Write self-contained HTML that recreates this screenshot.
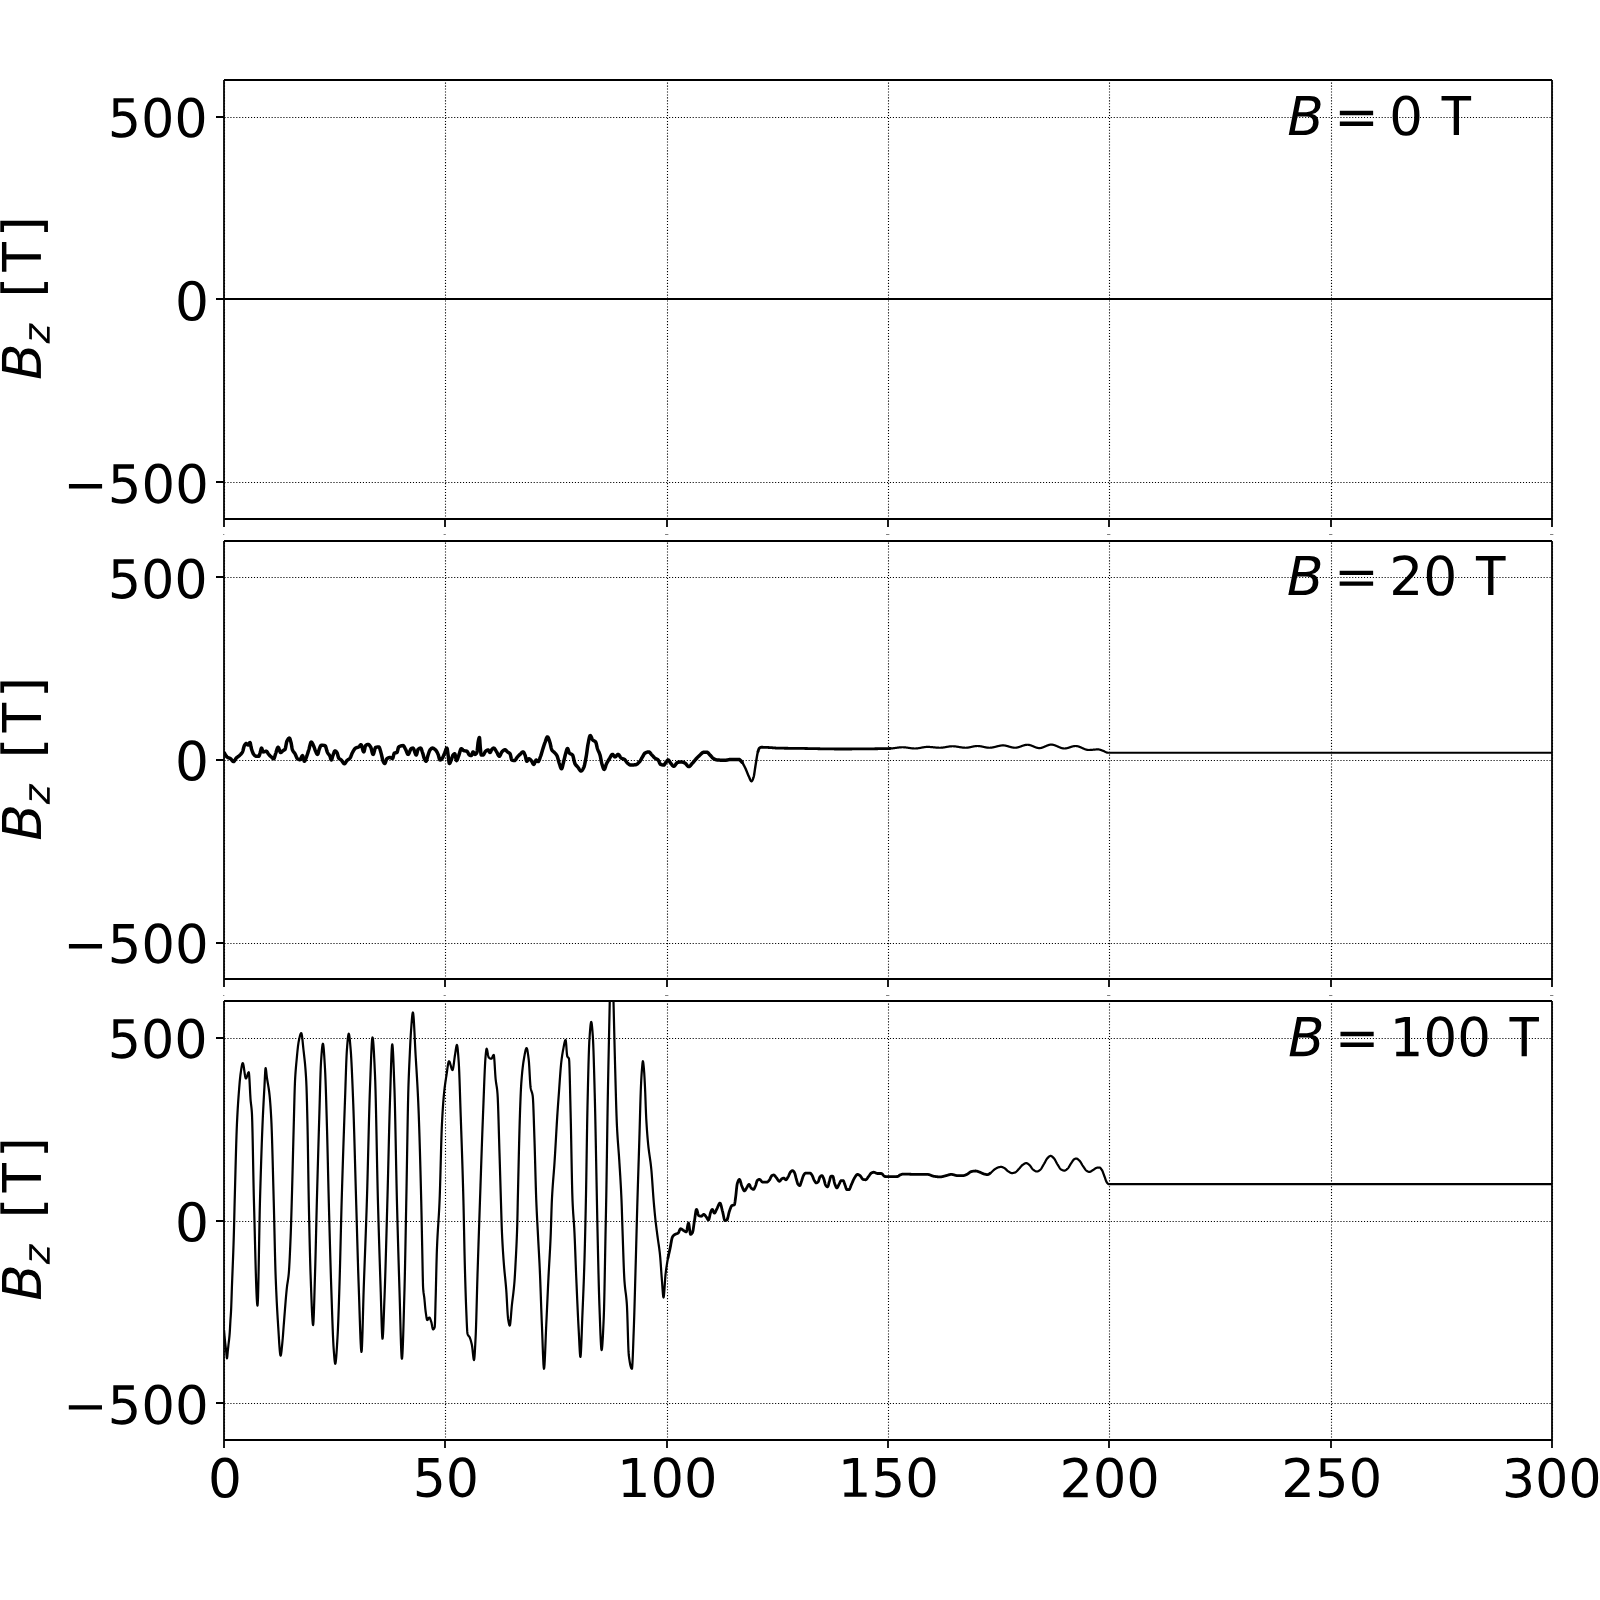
<!DOCTYPE html>
<html><head><meta charset="utf-8"><title>Bz</title>
<style>html,body{margin:0;padding:0;background:#fff;font-family:"Liberation Sans",sans-serif}body{width:1600px;height:1600px;position:relative;overflow:hidden}</style>
</head><body>
<svg width="1600" height="1600" viewBox="0 0 720 720" style="display:block;position:absolute;left:0;top:0"><defs><style type="text/css">*{stroke-linejoin: round; stroke-linecap: butt}</style></defs><g id="figure_1"><g id="patch_1"><path d="M 0 720 L 720 720 L 720 0 L 0 0 z " style="fill: #ffffff"/></g><g id="axes_1"><g id="matplotlib.axis_1"><g id="xtick_1"><g id="line2d_1"><defs><path id="m41364bf135" d="M 0 0 L 0 3.5 " style="stroke: #000000; stroke-opacity: 0; stroke-width: 0.8"/></defs><g><use href="#m41364bf135" x="100.8" y="233.419" style="fill-opacity: 0; stroke: #000000; stroke-opacity: 0; stroke-width: 0.8"/></g></g></g><g id="xtick_2"><g id="line2d_2"><g><use href="#m41364bf135" x="200.4" y="233.419" style="fill-opacity: 0; stroke: #000000; stroke-opacity: 0; stroke-width: 0.8"/></g></g></g><g id="xtick_3"><g id="line2d_3"><g><use href="#m41364bf135" x="300" y="233.419" style="fill-opacity: 0; stroke: #000000; stroke-opacity: 0; stroke-width: 0.8"/></g></g></g><g id="xtick_4"><g id="line2d_4"><g><use href="#m41364bf135" x="399.6" y="233.419" style="fill-opacity: 0; stroke: #000000; stroke-opacity: 0; stroke-width: 0.8"/></g></g></g><g id="xtick_5"><g id="line2d_5"><g><use href="#m41364bf135" x="499.2" y="233.419" style="fill-opacity: 0; stroke: #000000; stroke-opacity: 0; stroke-width: 0.8"/></g></g></g><g id="xtick_6"><g id="line2d_6"><g><use href="#m41364bf135" x="598.8" y="233.419" style="fill-opacity: 0; stroke: #000000; stroke-opacity: 0; stroke-width: 0.8"/></g></g></g><g id="xtick_7"><g id="line2d_7"><g><use href="#m41364bf135" x="698.4" y="233.419" style="fill-opacity: 0; stroke: #000000; stroke-opacity: 0; stroke-width: 0.8"/></g></g></g></g><g id="matplotlib.axis_2"><g id="ytick_1"><g id="line2d_8"><defs><path id="m97e499056c" d="M 0 0 L -3.5 0 " style="stroke: #000000; stroke-opacity: 0; stroke-width: 0.8"/></defs><g><use href="#m97e499056c" x="100.8" y="216.968" style="fill-opacity: 0; stroke: #000000; stroke-opacity: 0; stroke-width: 0.8"/></g></g><g id="text_1" transform="translate(0.7947 0.7762) scale(0.99353 0.99774)"><!-- −500 --><g transform="translate(27.879 226.086) scale(0.24 -0.24)"><defs><path id="DejaVuSans-2212" d="M 678 2272 L 4684 2272 L 4684 1741 L 678 1741 L 678 2272 z " transform="scale(0.015625)"/><path id="DejaVuSans-35" d="M 691 4666 L 3169 4666 L 3169 4134 L 1269 4134 L 1269 2991 Q 1406 3038 1543 3061 Q 1681 3084 1819 3084 Q 2600 3084 3056 2656 Q 3513 2228 3513 1497 Q 3513 744 3044 326 Q 2575 -91 1722 -91 Q 1428 -91 1123 -41 Q 819 9 494 109 L 494 744 Q 775 591 1075 516 Q 1375 441 1709 441 Q 2250 441 2565 725 Q 2881 1009 2881 1497 Q 2881 1984 2565 2268 Q 2250 2553 1709 2553 Q 1456 2553 1204 2497 Q 953 2441 691 2322 L 691 4666 z " transform="scale(0.015625)"/><path id="DejaVuSans-30" d="M 2034 4250 Q 1547 4250 1301 3770 Q 1056 3291 1056 2328 Q 1056 1369 1301 889 Q 1547 409 2034 409 Q 2525 409 2770 889 Q 3016 1369 3016 2328 Q 3016 3291 2770 3770 Q 2525 4250 2034 4250 z M 2034 4750 Q 2819 4750 3233 4129 Q 3647 3509 3647 2328 Q 3647 1150 3233 529 Q 2819 -91 2034 -91 Q 1250 -91 836 529 Q 422 1150 422 2328 Q 422 3509 836 4129 Q 1250 4750 2034 4750 z " transform="scale(0.015625)"/></defs><use href="#DejaVuSans-2212"/><use href="#DejaVuSans-35" transform="translate(83.789 0)"/><use href="#DejaVuSans-30" transform="translate(147.412 0)"/><use href="#DejaVuSans-30" transform="translate(211.035 0)"/></g></g></g><g id="ytick_2"><g id="line2d_9"><g><use href="#m97e499056c" x="100.8" y="134.71" style="fill-opacity: 0; stroke: #000000; stroke-opacity: 0; stroke-width: 0.8"/></g></g><g id="text_2" transform="translate(-0.3077 -0.0112) scale(1.00613 1.00222)"><!-- 0 --><g transform="translate(78.53 143.828) scale(0.24 -0.24)"><use href="#DejaVuSans-30"/></g></g></g><g id="ytick_3"><g id="line2d_10"><g><use href="#m97e499056c" x="100.8" y="52.452" style="fill-opacity: 0; stroke: #000000; stroke-opacity: 0; stroke-width: 0.8"/></g></g><g id="text_3" transform="translate(1.4351 0.1143) scale(0.98099 0.99986)"><!-- 500 --><g transform="translate(47.99 61.57) scale(0.24 -0.24)"><use href="#DejaVuSans-35"/><use href="#DejaVuSans-30" transform="translate(63.623 0)"/><use href="#DejaVuSans-30" transform="translate(127.246 0)"/></g></g></g><g id="text_4" transform="translate(-0.5076 -2.2065) scale(1.00149 0.99901)"><!-- $B_z\ \mathtt{[T]}$ --><g transform="translate(18.887 173.35) rotate(-90) scale(0.24 -0.24)"><defs><path id="DejaVuSans-Oblique-42" d="M 1081 4666 L 2694 4666 Q 3350 4666 3675 4422 Q 4000 4178 4000 3688 Q 4000 3238 3720 2911 Q 3441 2584 2988 2516 Q 3375 2428 3569 2181 Q 3763 1934 3763 1522 Q 3763 819 3242 409 Q 2722 0 1819 0 L 172 0 L 1081 4666 z M 1234 2228 L 903 519 L 1919 519 Q 2491 519 2800 781 Q 3109 1044 3109 1522 Q 3109 1891 2904 2059 Q 2700 2228 2247 2228 L 1234 2228 z M 1606 4147 L 1331 2741 L 2272 2741 Q 2775 2741 3058 2959 Q 3341 3178 3341 3566 Q 3341 3869 3150 4008 Q 2959 4147 2541 4147 L 1606 4147 z " transform="scale(0.015625)"/><path id="DejaVuSans-Oblique-7a" d="M 744 3500 L 3475 3500 L 3372 2975 L 738 459 L 2913 459 L 2822 0 L -19 0 L 84 525 L 2719 3041 L 653 3041 L 744 3500 z " transform="scale(0.015625)"/><path id="DejaVuSansMono-5b" d="M 1447 4863 L 2772 4863 L 2772 4416 L 2022 4416 L 2022 -397 L 2772 -397 L 2772 -844 L 1447 -844 L 1447 4863 z " transform="scale(0.015625)"/><path id="DejaVuSansMono-54" d="M 147 4666 L 3706 4666 L 3706 4134 L 2247 4134 L 2247 0 L 1613 0 L 1613 4134 L 147 4134 L 147 4666 z " transform="scale(0.015625)"/><path id="DejaVuSansMono-5d" d="M 2406 4863 L 2406 -844 L 1081 -844 L 1081 -397 L 1831 -397 L 1831 4416 L 1081 4416 L 1081 4863 L 2406 4863 z " transform="scale(0.015625)"/></defs><use href="#DejaVuSans-Oblique-42" transform="translate(0 0.015625)"/><use href="#DejaVuSans-Oblique-7a" transform="translate(68.604 -16.391) scale(0.7)"/><use href="#DejaVuSansMono-5b" transform="translate(140.551 0.015625)"/><use href="#DejaVuSansMono-54" transform="translate(200.757 0.015625)"/><use href="#DejaVuSansMono-5d" transform="translate(260.962 0.015625)"/></g></g></g><g id="text_5" transform="translate(1.5438 0.1466) scale(0.99803 1.00254)"><!-- $B=0\ \mathtt{T}$ --><g transform="translate(578.88 60.677) scale(0.24 -0.24)"><defs><path id="DejaVuSans-3d" d="M 678 2906 L 4684 2906 L 4684 2381 L 678 2381 L 678 2906 z M 678 1631 L 4684 1631 L 4684 1100 L 678 1100 L 678 1631 z " transform="scale(0.015625)"/></defs><use href="#DejaVuSans-Oblique-42" transform="translate(0 0.78125)"/><use href="#DejaVuSans-3d" transform="translate(88.086 0.78125)"/><use href="#DejaVuSans-30" transform="translate(191.357 0.78125)"/><use href="#DejaVuSansMono-54" transform="translate(287.451 0.78125)"/></g></g></g><g id="axes_2"><g id="matplotlib.axis_3"><g id="xtick_8"><g id="line2d_11"><g><use href="#m41364bf135" x="100.8" y="440.71" style="fill-opacity: 0; stroke: #000000; stroke-opacity: 0; stroke-width: 0.8"/></g></g></g><g id="xtick_9"><g id="line2d_12"><g><use href="#m41364bf135" x="200.4" y="440.71" style="fill-opacity: 0; stroke: #000000; stroke-opacity: 0; stroke-width: 0.8"/></g></g></g><g id="xtick_10"><g id="line2d_13"><g><use href="#m41364bf135" x="300" y="440.71" style="fill-opacity: 0; stroke: #000000; stroke-opacity: 0; stroke-width: 0.8"/></g></g></g><g id="xtick_11"><g id="line2d_14"><g><use href="#m41364bf135" x="399.6" y="440.71" style="fill-opacity: 0; stroke: #000000; stroke-opacity: 0; stroke-width: 0.8"/></g></g></g><g id="xtick_12"><g id="line2d_15"><g><use href="#m41364bf135" x="499.2" y="440.71" style="fill-opacity: 0; stroke: #000000; stroke-opacity: 0; stroke-width: 0.8"/></g></g></g><g id="xtick_13"><g id="line2d_16"><g><use href="#m41364bf135" x="598.8" y="440.71" style="fill-opacity: 0; stroke: #000000; stroke-opacity: 0; stroke-width: 0.8"/></g></g></g><g id="xtick_14"><g id="line2d_17"><g><use href="#m41364bf135" x="698.4" y="440.71" style="fill-opacity: 0; stroke: #000000; stroke-opacity: 0; stroke-width: 0.8"/></g></g></g></g><g id="matplotlib.axis_4"><g id="ytick_4"><g id="line2d_18"><g><use href="#m97e499056c" x="100.8" y="424.258" style="fill-opacity: 0; stroke: #000000; stroke-opacity: 0; stroke-width: 0.8"/></g></g><g id="text_6" transform="translate(0.8183 -0.1621) scale(0.99251 1.00028)"><!-- −500 --><g transform="translate(27.879 433.376) scale(0.24 -0.24)"><use href="#DejaVuSans-2212"/><use href="#DejaVuSans-35" transform="translate(83.789 0)"/><use href="#DejaVuSans-30" transform="translate(147.412 0)"/><use href="#DejaVuSans-30" transform="translate(211.035 0)"/></g></g></g><g id="ytick_5"><g id="line2d_19"><g><use href="#m97e499056c" x="100.8" y="342" style="fill-opacity: 0; stroke: #000000; stroke-opacity: 0; stroke-width: 0.8"/></g></g><g id="text_7" transform="translate(0.0298 -3.5015) scale(1.00223 1.01002)"><!-- 0 --><g transform="translate(78.53 351.118) scale(0.24 -0.24)"><use href="#DejaVuSans-30"/></g></g></g><g id="ytick_6"><g id="line2d_20"><g><use href="#m97e499056c" x="100.8" y="259.742" style="fill-opacity: 0; stroke: #000000; stroke-opacity: 0; stroke-width: 0.8"/></g></g><g id="text_8" transform="translate(1.5100 -0.2284) scale(0.98004 1.00199)"><!-- 500 --><g transform="translate(47.99 268.86) scale(0.24 -0.24)"><use href="#DejaVuSans-35"/><use href="#DejaVuSans-30" transform="translate(63.623 0)"/><use href="#DejaVuSans-30" transform="translate(127.246 0)"/></g></g></g><g id="text_9" transform="translate(-0.4954 -1.9346) scale(1.00243 0.99894)"><!-- $B_z\ \mathtt{[T]}$ --><g transform="translate(18.887 380.64) rotate(-90) scale(0.24 -0.24)"><use href="#DejaVuSans-Oblique-42" transform="translate(0 0.015625)"/><use href="#DejaVuSans-Oblique-7a" transform="translate(68.604 -16.391) scale(0.7)"/><use href="#DejaVuSansMono-5b" transform="translate(140.551 0.015625)"/><use href="#DejaVuSansMono-54" transform="translate(200.757 0.015625)"/><use href="#DejaVuSansMono-5d" transform="translate(260.962 0.015625)"/></g></g></g><g id="line2d_21"><path d="M 100.8 338.625 L 100.912 338.794 L 100.98 338.895 L 101.025 338.964 L 101.138 339.147 L 101.25 339.34 L 101.362 339.538 L 101.475 339.736 L 101.588 339.929 L 101.7 340.111 L 101.812 340.279 L 101.925 340.425 L 102.037 340.547 L 102.105 340.605 L 102.15 340.639 L 102.263 340.717 L 102.375 340.786 L 102.487 340.848 L 102.6 340.903 L 102.713 340.953 L 102.825 340.999 L 102.938 341.043 L 103.05 341.087 L 103.162 341.131 L 103.275 341.177 L 103.388 341.226 L 103.5 341.28 L 103.612 341.34 L 103.725 341.408 L 103.77 341.438 L 103.838 341.488 L 103.95 341.594 L 104.062 341.72 L 104.175 341.861 L 104.287 342.009 L 104.4 342.159 L 104.513 342.303 L 104.625 342.436 L 104.737 342.55 L 104.85 342.64 L 104.963 342.699 L 105.075 342.72 L 105.188 342.692 L 105.3 342.616 L 105.412 342.498 L 105.525 342.349 L 105.638 342.177 L 105.75 341.99 L 105.862 341.797 L 105.975 341.608 L 106.088 341.43 L 106.2 341.273 L 106.312 341.145 L 106.425 341.039 L 106.537 340.941 L 106.65 340.85 L 106.763 340.764 L 106.875 340.681 L 106.987 340.601 L 107.1 340.522 L 107.213 340.441 L 107.325 340.359 L 107.438 340.273 L 107.55 340.181 L 107.662 340.083 L 107.73 340.02 L 107.775 339.977 L 107.888 339.872 L 108 339.766 L 108.112 339.66 L 108.225 339.55 L 108.338 339.435 L 108.45 339.314 L 108.562 339.185 L 108.675 339.046 L 108.787 338.895 L 108.9 338.731 L 109.013 338.551 L 109.125 338.355 L 109.237 338.088 L 109.35 337.72 L 109.463 337.289 L 109.575 336.831 L 109.688 336.382 L 109.8 335.979 L 109.912 335.658 L 109.98 335.52 L 110.025 335.444 L 110.138 335.257 L 110.25 335.078 L 110.362 334.916 L 110.475 334.778 L 110.588 334.67 L 110.7 334.6 L 110.812 334.575 L 110.925 334.609 L 111.037 334.696 L 111.15 334.818 L 111.263 334.953 L 111.375 335.083 L 111.487 335.187 L 111.6 335.244 L 111.645 335.25 L 111.713 335.23 L 111.825 335.121 L 111.938 334.945 L 112.05 334.732 L 112.162 334.512 L 112.275 334.318 L 112.388 334.178 L 112.5 334.125 L 112.612 334.327 L 112.725 334.832 L 112.838 335.488 L 112.95 336.143 L 113.062 336.645 L 113.175 337.016 L 113.287 337.378 L 113.4 337.727 L 113.513 338.059 L 113.625 338.37 L 113.737 338.656 L 113.85 338.914 L 113.963 339.14 L 114.075 339.33 L 114.188 339.48 L 114.3 339.608 L 114.412 339.731 L 114.525 339.849 L 114.638 339.958 L 114.75 340.057 L 114.862 340.143 L 114.975 340.214 L 115.088 340.267 L 115.2 340.301 L 115.312 340.312 L 115.425 340.312 L 115.537 340.312 L 115.65 340.312 L 115.763 340.312 L 115.875 340.312 L 115.987 340.312 L 116.1 340.312 L 116.213 340.312 L 116.325 340.312 L 116.438 340.312 L 116.55 340.233 L 116.662 340.022 L 116.775 339.717 L 116.888 339.356 L 117 338.98 L 117.112 338.625 L 117.225 338.207 L 117.338 337.69 L 117.45 337.183 L 117.562 336.798 L 117.675 336.645 L 117.787 336.757 L 117.9 337.042 L 118.013 337.42 L 118.125 337.814 L 118.237 338.145 L 118.35 338.336 L 118.395 338.355 L 118.463 338.353 L 118.575 338.342 L 118.688 338.323 L 118.8 338.297 L 118.912 338.267 L 119.025 338.233 L 119.138 338.198 L 119.25 338.164 L 119.362 338.132 L 119.475 338.104 L 119.588 338.082 L 119.7 338.068 L 119.812 338.062 L 119.925 338.091 L 120.037 338.17 L 120.15 338.29 L 120.263 338.441 L 120.375 338.614 L 120.487 338.8 L 120.6 338.989 L 120.713 339.172 L 120.825 339.339 L 120.938 339.48 L 121.05 339.604 L 121.162 339.727 L 121.275 339.847 L 121.388 339.965 L 121.5 340.08 L 121.612 340.192 L 121.725 340.3 L 121.838 340.406 L 121.95 340.507 L 122.062 340.605 L 122.175 340.706 L 122.287 340.814 L 122.4 340.925 L 122.513 341.036 L 122.625 341.141 L 122.737 341.236 L 122.85 341.318 L 122.963 341.382 L 123.075 341.423 L 123.188 341.438 L 123.3 341.36 L 123.412 341.151 L 123.525 340.844 L 123.638 340.472 L 123.75 340.071 L 123.862 339.673 L 123.975 339.313 L 124.02 339.188 L 124.088 338.999 L 124.2 338.65 L 124.312 338.272 L 124.425 337.883 L 124.537 337.5 L 124.65 337.139 L 124.763 336.819 L 124.875 336.556 L 124.987 336.368 L 125.1 336.272 L 125.145 336.262 L 125.213 336.287 L 125.325 336.425 L 125.438 336.659 L 125.55 336.961 L 125.662 337.302 L 125.775 337.655 L 125.888 337.991 L 126 338.282 L 126.112 338.499 L 126.225 338.614 L 126.27 338.625 L 126.338 338.619 L 126.45 338.583 L 126.562 338.52 L 126.675 338.436 L 126.787 338.337 L 126.9 338.228 L 127.013 338.114 L 127.125 338.001 L 127.237 337.896 L 127.35 337.802 L 127.395 337.77 L 127.463 337.726 L 127.575 337.664 L 127.688 337.609 L 127.8 337.555 L 127.912 337.497 L 128.025 337.427 L 128.137 337.34 L 128.25 337.23 L 128.363 336.988 L 128.475 336.554 L 128.588 335.992 L 128.7 335.365 L 128.812 334.737 L 128.925 334.173 L 129.037 333.736 L 129.105 333.562 L 129.15 333.473 L 129.262 333.254 L 129.375 333.045 L 129.488 332.85 L 129.6 332.671 L 129.713 332.512 L 129.825 332.377 L 129.938 332.27 L 130.05 332.194 L 130.162 332.152 L 130.23 332.145 L 130.275 332.158 L 130.387 332.292 L 130.5 332.546 L 130.613 332.889 L 130.725 333.287 L 130.838 333.71 L 130.95 334.125 L 131.062 334.615 L 131.175 335.235 L 131.287 335.909 L 131.4 336.561 L 131.512 337.117 L 131.625 337.5 L 131.738 337.75 L 131.85 337.962 L 131.963 338.143 L 132.075 338.3 L 132.188 338.442 L 132.3 338.577 L 132.412 338.711 L 132.525 338.852 L 132.637 339.008 L 132.75 339.188 L 132.863 339.4 L 132.975 339.644 L 133.088 339.91 L 133.2 340.185 L 133.312 340.46 L 133.425 340.723 L 133.537 340.963 L 133.65 341.169 L 133.762 341.331 L 133.875 341.438 L 133.988 341.511 L 134.1 341.58 L 134.213 341.645 L 134.325 341.704 L 134.438 341.756 L 134.55 341.801 L 134.662 341.838 L 134.775 341.865 L 134.887 341.882 L 135 341.887 L 135.113 341.835 L 135.225 341.693 L 135.338 341.484 L 135.45 341.23 L 135.562 340.954 L 135.675 340.677 L 135.787 340.423 L 135.9 340.214 L 136.012 340.072 L 136.125 340.02 L 136.238 340.14 L 136.35 340.456 L 136.463 340.896 L 136.575 341.392 L 136.688 341.873 L 136.8 342.272 L 136.912 342.517 L 136.98 342.562 L 137.025 342.554 L 137.137 342.462 L 137.25 342.287 L 137.363 342.049 L 137.475 341.768 L 137.588 341.465 L 137.7 341.161 L 137.812 340.875 L 137.925 340.593 L 138.037 340.29 L 138.15 339.968 L 138.262 339.631 L 138.375 339.283 L 138.488 338.928 L 138.6 338.568 L 138.713 338.208 L 138.825 337.851 L 138.938 337.5 L 139.05 337.12 L 139.162 336.687 L 139.275 336.223 L 139.387 335.75 L 139.5 335.29 L 139.613 334.864 L 139.725 334.495 L 139.838 334.204 L 139.95 334.013 L 140.062 333.945 L 140.175 333.976 L 140.287 334.064 L 140.4 334.201 L 140.512 334.378 L 140.625 334.586 L 140.738 334.818 L 140.85 335.065 L 140.963 335.319 L 141.075 335.571 L 141.188 335.812 L 141.3 336.073 L 141.412 336.375 L 141.525 336.703 L 141.637 337.042 L 141.75 337.376 L 141.863 337.689 L 141.975 337.965 L 142.02 338.062 L 142.088 338.205 L 142.2 338.455 L 142.312 338.707 L 142.425 338.946 L 142.537 339.158 L 142.65 339.327 L 142.762 339.439 L 142.875 339.48 L 142.988 339.389 L 143.1 339.145 L 143.213 338.791 L 143.325 338.368 L 143.438 337.919 L 143.55 337.487 L 143.662 337.115 L 143.73 336.938 L 143.775 336.831 L 143.887 336.551 L 144 336.263 L 144.113 335.987 L 144.225 335.741 L 144.338 335.543 L 144.45 335.411 L 144.562 335.363 L 144.675 335.363 L 144.787 335.365 L 144.9 335.368 L 145.012 335.373 L 145.125 335.379 L 145.238 335.387 L 145.35 335.396 L 145.463 335.406 L 145.575 335.418 L 145.688 335.431 L 145.8 335.446 L 145.912 335.462 L 146.025 335.48 L 146.137 335.499 L 146.25 335.52 L 146.363 335.605 L 146.475 335.801 L 146.588 336.085 L 146.7 336.434 L 146.812 336.826 L 146.925 337.238 L 147.037 337.647 L 147.15 338.029 L 147.262 338.363 L 147.375 338.625 L 147.488 338.828 L 147.6 339.006 L 147.713 339.164 L 147.825 339.31 L 147.938 339.45 L 148.05 339.592 L 148.162 339.742 L 148.275 339.908 L 148.387 340.096 L 148.5 340.312 L 148.613 340.638 L 148.725 341.075 L 148.838 341.518 L 148.95 341.862 L 149.062 342 L 149.175 341.919 L 149.287 341.702 L 149.4 341.386 L 149.512 341.007 L 149.625 340.602 L 149.738 340.21 L 149.85 339.866 L 149.895 339.75 L 149.963 339.58 L 150.075 339.27 L 150.188 338.946 L 150.3 338.631 L 150.412 338.347 L 150.525 338.116 L 150.637 337.962 L 150.75 337.905 L 150.863 337.922 L 150.975 337.971 L 151.088 338.046 L 151.2 338.145 L 151.312 338.263 L 151.425 338.395 L 151.537 338.537 L 151.605 338.625 L 151.65 338.697 L 151.762 338.968 L 151.875 339.337 L 151.988 339.761 L 152.1 340.196 L 152.213 340.601 L 152.325 340.931 L 152.438 341.145 L 152.55 341.274 L 152.662 341.381 L 152.775 341.472 L 152.887 341.549 L 153 341.619 L 153.113 341.685 L 153.225 341.752 L 153.338 341.824 L 153.45 341.905 L 153.562 342 L 153.675 342.118 L 153.787 342.261 L 153.9 342.422 L 154.012 342.595 L 154.125 342.775 L 154.238 342.954 L 154.35 343.127 L 154.463 343.287 L 154.575 343.429 L 154.688 343.546 L 154.8 343.631 L 154.912 343.679 L 154.98 343.688 L 155.025 343.683 L 155.137 343.631 L 155.25 343.531 L 155.363 343.392 L 155.475 343.227 L 155.588 343.043 L 155.7 342.853 L 155.812 342.666 L 155.925 342.493 L 156.037 342.344 L 156.105 342.27 L 156.15 342.226 L 156.262 342.126 L 156.375 342.037 L 156.488 341.955 L 156.6 341.878 L 156.713 341.804 L 156.825 341.73 L 156.938 341.654 L 157.05 341.572 L 157.162 341.483 L 157.275 341.384 L 157.387 341.272 L 157.5 341.145 L 157.613 340.982 L 157.725 340.772 L 157.838 340.525 L 157.95 340.252 L 158.062 339.962 L 158.175 339.666 L 158.287 339.374 L 158.4 339.096 L 158.512 338.843 L 158.625 338.625 L 158.738 338.427 L 158.85 338.228 L 158.963 338.031 L 159.075 337.837 L 159.188 337.649 L 159.3 337.469 L 159.412 337.299 L 159.525 337.141 L 159.637 336.998 L 159.75 336.871 L 159.863 336.762 L 159.975 336.674 L 160.02 336.645 L 160.088 336.606 L 160.2 336.55 L 160.312 336.501 L 160.425 336.46 L 160.537 336.423 L 160.65 336.39 L 160.762 336.358 L 160.875 336.326 L 160.988 336.292 L 161.1 336.255 L 161.213 336.212 L 161.325 336.163 L 161.438 336.105 L 161.55 336.022 L 161.662 335.907 L 161.775 335.77 L 161.887 335.624 L 162 335.479 L 162.113 335.346 L 162.225 335.238 L 162.338 335.164 L 162.45 335.137 L 162.562 335.212 L 162.675 335.418 L 162.787 335.725 L 162.9 336.104 L 163.012 336.527 L 163.125 336.965 L 163.238 337.388 L 163.35 337.768 L 163.463 338.075 L 163.575 338.28 L 163.688 338.355 L 163.8 338.225 L 163.912 337.884 L 164.025 337.406 L 164.137 336.863 L 164.25 336.329 L 164.363 335.877 L 164.475 335.579 L 164.52 335.52 L 164.588 335.462 L 164.7 335.372 L 164.812 335.289 L 164.925 335.215 L 165.037 335.15 L 165.15 335.095 L 165.262 335.05 L 165.375 335.015 L 165.488 334.992 L 165.6 334.981 L 165.645 334.98 L 165.713 334.986 L 165.825 335.021 L 165.938 335.084 L 166.05 335.172 L 166.162 335.282 L 166.275 335.41 L 166.387 335.553 L 166.5 335.708 L 166.613 335.87 L 166.725 336.038 L 166.77 336.105 L 166.838 336.229 L 166.95 336.527 L 167.062 336.911 L 167.175 337.351 L 167.287 337.817 L 167.4 338.278 L 167.512 338.704 L 167.625 339.064 L 167.738 339.329 L 167.85 339.467 L 167.895 339.48 L 167.963 339.449 L 168.075 339.276 L 168.188 338.98 L 168.3 338.597 L 168.412 338.161 L 168.525 337.707 L 168.637 337.269 L 168.75 336.883 L 168.863 336.583 L 168.975 336.405 L 169.02 336.375 L 169.088 336.351 L 169.2 336.312 L 169.312 336.277 L 169.425 336.245 L 169.537 336.216 L 169.65 336.191 L 169.762 336.168 L 169.875 336.149 L 169.988 336.133 L 170.1 336.121 L 170.213 336.112 L 170.325 336.107 L 170.438 336.105 L 170.55 336.158 L 170.662 336.307 L 170.775 336.537 L 170.887 336.833 L 171 337.182 L 171.113 337.568 L 171.225 337.976 L 171.338 338.391 L 171.45 338.8 L 171.562 339.188 L 171.675 339.607 L 171.787 340.1 L 171.9 340.631 L 172.012 341.167 L 172.125 341.674 L 172.238 342.116 L 172.35 342.46 L 172.395 342.562 L 172.463 342.699 L 172.575 342.921 L 172.688 343.127 L 172.8 343.307 L 172.912 343.448 L 173.025 343.542 L 173.137 343.575 L 173.25 343.503 L 173.363 343.311 L 173.475 343.031 L 173.588 342.698 L 173.7 342.345 L 173.812 342.007 L 173.925 341.717 L 174.037 341.509 L 174.105 341.438 L 174.15 341.406 L 174.262 341.329 L 174.375 341.257 L 174.488 341.19 L 174.6 341.129 L 174.713 341.073 L 174.825 341.023 L 174.938 340.979 L 175.05 340.943 L 175.162 340.914 L 175.275 340.893 L 175.387 340.879 L 175.5 340.875 L 175.613 340.888 L 175.725 340.922 L 175.838 340.972 L 175.95 341.033 L 176.062 341.1 L 176.175 341.167 L 176.287 341.228 L 176.4 341.278 L 176.512 341.312 L 176.625 341.325 L 176.738 341.216 L 176.85 340.929 L 176.963 340.525 L 177.075 340.066 L 177.188 339.612 L 177.3 339.224 L 177.412 338.964 L 177.48 338.895 L 177.525 338.875 L 177.637 338.836 L 177.75 338.807 L 177.863 338.786 L 177.975 338.769 L 178.088 338.755 L 178.2 338.739 L 178.312 338.719 L 178.425 338.691 L 178.537 338.654 L 178.605 338.625 L 178.65 338.586 L 178.762 338.355 L 178.875 337.981 L 178.988 337.524 L 179.1 337.047 L 179.213 336.61 L 179.325 336.276 L 179.438 336.105 L 179.55 336.038 L 179.662 335.976 L 179.775 335.917 L 179.887 335.863 L 180 335.813 L 180.113 335.767 L 180.225 335.725 L 180.338 335.687 L 180.45 335.653 L 180.562 335.623 L 180.675 335.597 L 180.787 335.575 L 180.9 335.556 L 181.012 335.542 L 181.125 335.531 L 181.238 335.524 L 181.35 335.52 L 181.395 335.52 L 181.463 335.531 L 181.575 335.596 L 181.688 335.709 L 181.8 335.864 L 181.912 336.051 L 182.025 336.26 L 182.137 336.484 L 182.25 336.712 L 182.363 336.938 L 182.475 337.15 L 182.52 337.23 L 182.588 337.356 L 182.7 337.604 L 182.812 337.884 L 182.925 338.181 L 183.037 338.481 L 183.15 338.767 L 183.262 339.025 L 183.375 339.238 L 183.488 339.393 L 183.6 339.472 L 183.645 339.48 L 183.713 339.464 L 183.825 339.374 L 183.938 339.215 L 184.05 339.001 L 184.162 338.746 L 184.275 338.464 L 184.387 338.168 L 184.5 337.871 L 184.613 337.589 L 184.725 337.334 L 184.838 337.12 L 184.95 336.961 L 185.062 336.87 L 185.175 336.819 L 185.287 336.772 L 185.4 336.73 L 185.512 336.695 L 185.625 336.668 L 185.738 336.651 L 185.85 336.645 L 185.963 336.697 L 186.075 336.843 L 186.188 337.065 L 186.3 337.346 L 186.412 337.67 L 186.525 338.019 L 186.637 338.376 L 186.75 338.725 L 186.863 339.049 L 186.975 339.33 L 187.088 339.552 L 187.2 339.698 L 187.312 339.75 L 187.425 339.636 L 187.537 339.338 L 187.65 338.918 L 187.762 338.44 L 187.875 337.967 L 187.988 337.562 L 188.1 337.288 L 188.145 337.23 L 188.213 337.169 L 188.325 337.073 L 188.438 336.985 L 188.55 336.905 L 188.662 336.834 L 188.775 336.773 L 188.887 336.723 L 189 336.685 L 189.113 336.659 L 189.225 336.646 L 189.27 336.645 L 189.338 336.667 L 189.45 336.79 L 189.562 337.003 L 189.675 337.282 L 189.787 337.607 L 189.9 337.954 L 190.012 338.301 L 190.125 338.625 L 190.238 338.962 L 190.35 339.347 L 190.463 339.761 L 190.575 340.181 L 190.688 340.589 L 190.8 340.962 L 190.912 341.281 L 190.98 341.438 L 191.025 341.533 L 191.137 341.777 L 191.25 342.015 L 191.363 342.229 L 191.475 342.403 L 191.588 342.52 L 191.7 342.562 L 191.812 342.485 L 191.925 342.274 L 192.037 341.959 L 192.15 341.57 L 192.262 341.137 L 192.375 340.692 L 192.488 340.264 L 192.6 339.882 L 192.645 339.75 L 192.713 339.556 L 192.825 339.216 L 192.938 338.867 L 193.05 338.523 L 193.162 338.2 L 193.275 337.911 L 193.387 337.673 L 193.5 337.5 L 193.613 337.366 L 193.725 337.237 L 193.838 337.115 L 193.95 337.003 L 194.062 336.902 L 194.175 336.815 L 194.287 336.744 L 194.4 336.69 L 194.512 336.657 L 194.625 336.645 L 194.738 336.653 L 194.85 336.676 L 194.963 336.714 L 195.075 336.764 L 195.188 336.825 L 195.3 336.896 L 195.412 336.976 L 195.525 337.063 L 195.637 337.156 L 195.75 337.254 L 195.863 337.355 L 195.975 337.458 L 196.02 337.5 L 196.088 337.567 L 196.2 337.699 L 196.312 337.855 L 196.425 338.031 L 196.537 338.224 L 196.65 338.434 L 196.762 338.657 L 196.875 338.89 L 196.988 339.132 L 197.1 339.38 L 197.145 339.48 L 197.213 339.652 L 197.325 340.018 L 197.438 340.445 L 197.55 340.891 L 197.662 341.312 L 197.775 341.666 L 197.887 341.909 L 198 342 L 198.113 341.986 L 198.225 341.946 L 198.338 341.884 L 198.45 341.805 L 198.562 341.712 L 198.675 341.61 L 198.787 341.503 L 198.855 341.438 L 198.9 341.391 L 199.012 341.245 L 199.125 341.064 L 199.238 340.855 L 199.35 340.623 L 199.463 340.374 L 199.575 340.114 L 199.688 339.85 L 199.8 339.588 L 199.912 339.334 L 199.98 339.188 L 200.025 339.088 L 200.137 338.805 L 200.25 338.488 L 200.363 338.152 L 200.475 337.815 L 200.588 337.491 L 200.7 337.198 L 200.812 336.952 L 200.925 336.768 L 201.037 336.663 L 201.105 336.645 L 201.15 336.685 L 201.262 337.084 L 201.375 337.785 L 201.488 338.629 L 201.6 339.458 L 201.645 339.75 L 201.713 340.214 L 201.825 341.141 L 201.938 342.11 L 202.05 342.946 L 202.162 343.476 L 202.23 343.575 L 202.275 343.567 L 202.387 343.481 L 202.5 343.317 L 202.613 343.095 L 202.725 342.832 L 202.838 342.55 L 202.95 342.266 L 203.062 342 L 203.175 341.716 L 203.287 341.381 L 203.4 341.02 L 203.512 340.658 L 203.625 340.319 L 203.738 340.029 L 203.85 339.811 L 203.895 339.75 L 203.963 339.672 L 204.075 339.546 L 204.188 339.431 L 204.3 339.333 L 204.412 339.256 L 204.525 339.205 L 204.637 339.188 L 204.75 339.358 L 204.863 339.799 L 204.975 340.401 L 205.088 341.057 L 205.2 341.659 L 205.312 342.099 L 205.425 342.27 L 205.537 342.22 L 205.65 342.081 L 205.762 341.87 L 205.875 341.604 L 205.988 341.298 L 206.1 340.971 L 206.213 340.637 L 206.325 340.315 L 206.438 340.02 L 206.55 339.71 L 206.662 339.347 L 206.775 338.949 L 206.887 338.538 L 207 338.134 L 207.113 337.758 L 207.225 337.43 L 207.338 337.17 L 207.45 336.999 L 207.562 336.938 L 207.675 336.957 L 207.787 337.012 L 207.9 337.094 L 208.012 337.195 L 208.125 337.307 L 208.238 337.424 L 208.35 337.536 L 208.463 337.636 L 208.575 337.717 L 208.688 337.77 L 208.8 337.804 L 208.912 337.831 L 209.025 337.854 L 209.137 337.872 L 209.25 337.889 L 209.363 337.904 L 209.475 337.919 L 209.588 337.936 L 209.7 337.955 L 209.812 337.977 L 209.925 338.005 L 210.037 338.039 L 210.105 338.062 L 210.15 338.085 L 210.262 338.186 L 210.375 338.34 L 210.488 338.533 L 210.6 338.75 L 210.713 338.977 L 210.825 339.201 L 210.938 339.405 L 211.05 339.578 L 211.162 339.703 L 211.23 339.75 L 211.275 339.773 L 211.387 339.829 L 211.5 339.88 L 211.613 339.926 L 211.725 339.965 L 211.838 339.994 L 211.95 340.013 L 212.062 340.02 L 212.175 339.937 L 212.287 339.721 L 212.4 339.421 L 212.512 339.086 L 212.625 338.767 L 212.738 338.511 L 212.85 338.369 L 212.895 338.355 L 212.963 338.375 L 213.075 338.484 L 213.188 338.66 L 213.3 338.873 L 213.412 339.093 L 213.525 339.287 L 213.637 339.427 L 213.75 339.48 L 213.863 339.464 L 213.975 339.416 L 214.088 339.339 L 214.2 339.232 L 214.312 339.097 L 214.425 338.936 L 214.537 338.749 L 214.605 338.625 L 214.65 338.483 L 214.762 337.722 L 214.875 336.604 L 214.988 335.406 L 215.1 334.407 L 215.145 334.125 L 215.213 333.763 L 215.325 333.161 L 215.438 332.613 L 215.55 332.18 L 215.662 331.922 L 215.73 331.875 L 215.775 331.981 L 215.887 332.984 L 216 334.582 L 216.113 336.199 L 216.18 336.938 L 216.225 337.355 L 216.338 338.457 L 216.45 339.37 L 216.562 339.75 L 216.675 339.75 L 216.787 339.75 L 216.9 339.75 L 217.012 339.75 L 217.125 339.75 L 217.238 339.75 L 217.35 339.75 L 217.395 339.75 L 217.463 339.735 L 217.575 339.652 L 217.688 339.509 L 217.8 339.321 L 217.912 339.104 L 218.025 338.872 L 218.137 338.64 L 218.25 338.424 L 218.363 338.24 L 218.475 338.101 L 218.52 338.062 L 218.588 338.012 L 218.7 337.929 L 218.812 337.848 L 218.925 337.772 L 219.037 337.702 L 219.15 337.639 L 219.262 337.586 L 219.375 337.545 L 219.488 337.516 L 219.6 337.501 L 219.645 337.5 L 219.713 337.52 L 219.825 337.629 L 219.938 337.805 L 220.05 338.018 L 220.162 338.238 L 220.275 338.432 L 220.387 338.572 L 220.5 338.625 L 220.613 338.572 L 220.725 338.429 L 220.838 338.224 L 220.95 337.982 L 221.062 337.732 L 221.175 337.499 L 221.287 337.311 L 221.355 337.23 L 221.4 337.186 L 221.512 337.074 L 221.625 336.964 L 221.738 336.863 L 221.85 336.776 L 221.963 336.707 L 222.075 336.661 L 222.188 336.645 L 222.3 336.671 L 222.412 336.742 L 222.525 336.852 L 222.637 336.993 L 222.75 337.157 L 222.863 337.337 L 222.975 337.525 L 223.088 337.714 L 223.2 337.895 L 223.312 338.062 L 223.425 338.236 L 223.537 338.437 L 223.65 338.658 L 223.762 338.892 L 223.875 339.13 L 223.988 339.366 L 224.1 339.592 L 224.213 339.8 L 224.325 339.982 L 224.438 340.132 L 224.55 340.241 L 224.662 340.302 L 224.73 340.312 L 224.775 340.305 L 224.887 340.227 L 225 340.078 L 225.113 339.874 L 225.225 339.632 L 225.338 339.369 L 225.45 339.101 L 225.562 338.845 L 225.675 338.617 L 225.787 338.435 L 225.855 338.355 L 225.9 338.31 L 226.012 338.196 L 226.125 338.083 L 226.238 337.974 L 226.35 337.868 L 226.463 337.769 L 226.575 337.678 L 226.688 337.596 L 226.8 337.526 L 226.912 337.468 L 227.025 337.424 L 227.137 337.397 L 227.25 337.387 L 227.363 337.407 L 227.475 337.459 L 227.588 337.54 L 227.7 337.642 L 227.812 337.759 L 227.925 337.886 L 228.037 338.014 L 228.15 338.14 L 228.262 338.255 L 228.375 338.355 L 228.488 338.438 L 228.6 338.511 L 228.713 338.578 L 228.825 338.643 L 228.938 338.708 L 229.05 338.779 L 229.162 338.858 L 229.275 338.95 L 229.387 339.059 L 229.5 339.188 L 229.613 339.42 L 229.725 339.801 L 229.838 340.272 L 229.95 340.778 L 230.062 341.261 L 230.175 341.663 L 230.287 341.93 L 230.355 342 L 230.4 342.021 L 230.512 342.069 L 230.625 342.112 L 230.738 342.15 L 230.85 342.183 L 230.963 342.211 L 231.075 342.234 L 231.188 342.251 L 231.3 342.263 L 231.412 342.269 L 231.48 342.27 L 231.525 342.266 L 231.637 342.228 L 231.75 342.153 L 231.863 342.046 L 231.975 341.913 L 232.088 341.76 L 232.2 341.592 L 232.312 341.416 L 232.425 341.237 L 232.537 341.061 L 232.65 340.893 L 232.762 340.739 L 232.875 340.605 L 232.988 340.484 L 233.1 340.364 L 233.213 340.246 L 233.325 340.13 L 233.438 340.016 L 233.55 339.904 L 233.662 339.794 L 233.775 339.687 L 233.887 339.582 L 234 339.48 L 234.113 339.374 L 234.225 339.26 L 234.338 339.14 L 234.45 339.019 L 234.562 338.899 L 234.675 338.784 L 234.787 338.675 L 234.9 338.578 L 235.012 338.494 L 235.125 338.427 L 235.238 338.381 L 235.35 338.357 L 235.395 338.355 L 235.463 338.369 L 235.575 338.449 L 235.688 338.589 L 235.8 338.777 L 235.912 339 L 236.025 339.245 L 236.137 339.499 L 236.25 339.75 L 236.363 340.068 L 236.475 340.498 L 236.588 340.988 L 236.7 341.487 L 236.812 341.944 L 236.925 342.306 L 237.037 342.523 L 237.105 342.562 L 237.15 342.553 L 237.262 342.457 L 237.375 342.284 L 237.488 342.068 L 237.6 341.842 L 237.713 341.64 L 237.825 341.494 L 237.938 341.438 L 238.05 341.451 L 238.162 341.488 L 238.275 341.547 L 238.387 341.623 L 238.5 341.714 L 238.613 341.816 L 238.725 341.926 L 238.838 342.04 L 238.95 342.156 L 239.062 342.27 L 239.175 342.409 L 239.287 342.591 L 239.4 342.804 L 239.512 343.033 L 239.625 343.265 L 239.738 343.486 L 239.85 343.681 L 239.963 343.838 L 240.075 343.942 L 240.188 343.98 L 240.3 343.925 L 240.412 343.774 L 240.525 343.552 L 240.637 343.283 L 240.75 342.99 L 240.863 342.697 L 240.975 342.428 L 241.088 342.206 L 241.2 342.055 L 241.312 342 L 241.425 342.036 L 241.537 342.129 L 241.65 342.259 L 241.762 342.404 L 241.875 342.542 L 241.988 342.652 L 242.1 342.714 L 242.145 342.72 L 242.213 342.705 L 242.325 342.617 L 242.438 342.462 L 242.55 342.25 L 242.662 341.993 L 242.775 341.702 L 242.887 341.389 L 243 341.065 L 243.113 340.742 L 243.225 340.431 L 243.27 340.312 L 243.338 340.132 L 243.45 339.807 L 243.562 339.458 L 243.675 339.088 L 243.787 338.705 L 243.9 338.315 L 244.012 337.921 L 244.125 337.532 L 244.238 337.151 L 244.35 336.786 L 244.395 336.645 L 244.463 336.436 L 244.575 336.087 L 244.688 335.74 L 244.8 335.396 L 244.912 335.061 L 245.025 334.735 L 245.137 334.422 L 245.25 334.125 L 245.363 333.821 L 245.475 333.494 L 245.588 333.157 L 245.7 332.823 L 245.812 332.505 L 245.925 332.215 L 246.037 331.968 L 246.15 331.775 L 246.262 331.65 L 246.375 331.605 L 246.488 331.651 L 246.6 331.78 L 246.713 331.978 L 246.825 332.232 L 246.938 332.528 L 247.05 332.852 L 247.162 333.19 L 247.275 333.529 L 247.387 333.855 L 247.5 334.219 L 247.613 334.661 L 247.725 335.154 L 247.838 335.668 L 247.95 336.175 L 248.062 336.646 L 248.175 337.054 L 248.287 337.368 L 248.355 337.5 L 248.4 337.57 L 248.512 337.726 L 248.625 337.859 L 248.738 337.974 L 248.85 338.076 L 248.963 338.169 L 249.075 338.259 L 249.188 338.349 L 249.3 338.446 L 249.412 338.553 L 249.48 338.625 L 249.525 338.674 L 249.637 338.794 L 249.75 338.912 L 249.863 339.029 L 249.975 339.15 L 250.088 339.277 L 250.2 339.413 L 250.312 339.561 L 250.425 339.723 L 250.537 339.903 L 250.605 340.02 L 250.65 340.107 L 250.762 340.373 L 250.875 340.698 L 250.988 341.068 L 251.1 341.47 L 251.213 341.891 L 251.325 342.317 L 251.438 342.735 L 251.55 343.131 L 251.662 343.493 L 251.73 343.688 L 251.775 343.814 L 251.887 344.154 L 252 344.511 L 252.113 344.866 L 252.225 345.2 L 252.338 345.494 L 252.45 345.727 L 252.562 345.882 L 252.675 345.938 L 252.787 345.863 L 252.9 345.654 L 253.012 345.338 L 253.125 344.938 L 253.238 344.48 L 253.35 343.988 L 253.463 343.488 L 253.575 343.004 L 253.688 342.562 L 253.8 342.129 L 253.912 341.662 L 254.025 341.178 L 254.137 340.689 L 254.25 340.211 L 254.363 339.756 L 254.475 339.34 L 254.52 339.188 L 254.588 338.957 L 254.7 338.548 L 254.812 338.131 L 254.925 337.73 L 255.037 337.374 L 255.15 337.086 L 255.262 336.895 L 255.375 336.825 L 255.488 336.91 L 255.6 337.135 L 255.713 337.455 L 255.825 337.826 L 255.938 338.204 L 256.05 338.543 L 256.163 338.8 L 256.23 338.895 L 256.275 338.939 L 256.387 339.036 L 256.5 339.114 L 256.613 339.178 L 256.725 339.232 L 256.837 339.279 L 256.95 339.324 L 257.062 339.37 L 257.175 339.421 L 257.288 339.48 L 257.4 339.552 L 257.512 339.641 L 257.625 339.75 L 257.738 339.939 L 257.85 340.248 L 257.962 340.648 L 258.075 341.112 L 258.188 341.612 L 258.3 342.121 L 258.413 342.61 L 258.525 343.053 L 258.637 343.421 L 258.75 343.688 L 258.863 343.883 L 258.975 344.058 L 259.087 344.216 L 259.2 344.36 L 259.312 344.492 L 259.425 344.616 L 259.538 344.733 L 259.65 344.847 L 259.762 344.96 L 259.875 345.075 L 259.988 345.194 L 260.1 345.321 L 260.145 345.375 L 260.212 345.461 L 260.325 345.618 L 260.438 345.79 L 260.55 345.969 L 260.663 346.149 L 260.775 346.325 L 260.887 346.491 L 261 346.64 L 261.113 346.767 L 261.225 346.864 L 261.337 346.928 L 261.45 346.95 L 261.562 346.932 L 261.675 346.88 L 261.788 346.796 L 261.9 346.685 L 262.012 346.549 L 262.125 346.39 L 262.238 346.213 L 262.35 346.02 L 262.462 345.814 L 262.575 345.598 L 262.688 345.375 L 262.8 345.106 L 262.913 344.757 L 263.025 344.337 L 263.137 343.858 L 263.25 343.33 L 263.363 342.762 L 263.475 342.166 L 263.587 341.553 L 263.7 340.931 L 263.812 340.312 L 263.925 339.637 L 264.038 338.865 L 264.15 338.035 L 264.262 337.187 L 264.375 336.359 L 264.488 335.59 L 264.6 334.919 L 264.645 334.688 L 264.712 334.351 L 264.825 333.771 L 264.938 333.188 L 265.05 332.628 L 265.163 332.115 L 265.275 331.673 L 265.387 331.326 L 265.5 331.101 L 265.613 331.02 L 265.725 331.066 L 265.837 331.191 L 265.95 331.378 L 266.062 331.611 L 266.175 331.873 L 266.288 332.145 L 266.4 332.411 L 266.512 332.653 L 266.625 332.856 L 266.738 333 L 266.85 333.099 L 266.962 333.181 L 267.075 333.248 L 267.188 333.306 L 267.3 333.359 L 267.413 333.411 L 267.525 333.466 L 267.637 333.528 L 267.75 333.603 L 267.863 333.693 L 267.975 333.804 L 268.02 333.855 L 268.087 333.963 L 268.2 334.251 L 268.312 334.644 L 268.425 335.106 L 268.538 335.603 L 268.65 336.097 L 268.762 336.554 L 268.875 336.938 L 268.988 337.254 L 269.1 337.54 L 269.212 337.805 L 269.325 338.055 L 269.438 338.3 L 269.55 338.549 L 269.663 338.81 L 269.775 339.092 L 269.887 339.402 L 270 339.75 L 270.113 340.174 L 270.225 340.685 L 270.337 341.252 L 270.45 341.843 L 270.562 342.427 L 270.675 342.973 L 270.788 343.449 L 270.855 343.688 L 270.9 343.835 L 271.012 344.212 L 271.125 344.594 L 271.238 344.964 L 271.35 345.312 L 271.462 345.622 L 271.575 345.883 L 271.688 346.079 L 271.8 346.199 L 271.89 346.23 L 271.913 346.227 L 272.025 346.14 L 272.137 345.946 L 272.25 345.671 L 272.363 345.341 L 272.475 344.979 L 272.587 344.61 L 272.7 344.26 L 272.812 343.953 L 272.88 343.8 L 272.925 343.708 L 273.038 343.483 L 273.15 343.265 L 273.262 343.055 L 273.375 342.85 L 273.488 342.651 L 273.6 342.457 L 273.712 342.267 L 273.825 342.082 L 273.938 341.9 L 274.05 341.72 L 274.163 341.543 L 274.23 341.438 L 274.275 341.366 L 274.387 341.175 L 274.5 340.972 L 274.613 340.763 L 274.725 340.552 L 274.837 340.345 L 274.95 340.149 L 275.062 339.967 L 275.175 339.806 L 275.288 339.672 L 275.4 339.569 L 275.512 339.503 L 275.625 339.48 L 275.738 339.512 L 275.85 339.597 L 275.962 339.723 L 276.075 339.876 L 276.188 340.043 L 276.3 340.209 L 276.413 340.362 L 276.525 340.488 L 276.637 340.574 L 276.75 340.605 L 276.863 340.584 L 276.975 340.527 L 277.087 340.439 L 277.2 340.329 L 277.312 340.204 L 277.425 340.07 L 277.538 339.934 L 277.65 339.804 L 277.762 339.687 L 277.875 339.59 L 277.988 339.52 L 278.1 339.483 L 278.145 339.48 L 278.212 339.489 L 278.325 339.542 L 278.438 339.634 L 278.55 339.76 L 278.663 339.91 L 278.775 340.079 L 278.887 340.259 L 279 340.442 L 279.113 340.62 L 279.225 340.787 L 279.337 340.935 L 279.45 341.057 L 279.562 341.145 L 279.675 341.209 L 279.788 341.263 L 279.9 341.311 L 280.012 341.353 L 280.125 341.391 L 280.238 341.426 L 280.35 341.462 L 280.462 341.498 L 280.575 341.538 L 280.688 341.582 L 280.8 341.632 L 280.913 341.69 L 280.98 341.73 L 281.025 341.76 L 281.137 341.852 L 281.25 341.967 L 281.363 342.099 L 281.475 342.245 L 281.587 342.4 L 281.7 342.561 L 281.812 342.722 L 281.925 342.88 L 282.038 343.031 L 282.15 343.17 L 282.262 343.292 L 282.375 343.395 L 282.488 343.488 L 282.6 343.583 L 282.712 343.678 L 282.825 343.772 L 282.938 343.862 L 283.05 343.947 L 283.163 344.026 L 283.275 344.095 L 283.387 344.154 L 283.5 344.2 L 283.613 344.233 L 283.725 344.249 L 283.77 344.25 L 283.837 344.25 L 283.95 344.249 L 284.062 344.248 L 284.175 344.246 L 284.288 344.244 L 284.4 344.241 L 284.512 344.237 L 284.625 344.233 L 284.738 344.229 L 284.85 344.223 L 284.962 344.218 L 285.075 344.211 L 285.188 344.205 L 285.3 344.197 L 285.413 344.189 L 285.525 344.181 L 285.637 344.172 L 285.75 344.162 L 285.863 344.152 L 285.975 344.142 L 286.02 344.137 L 286.087 344.128 L 286.2 344.101 L 286.312 344.061 L 286.425 344.009 L 286.538 343.945 L 286.65 343.871 L 286.762 343.788 L 286.875 343.697 L 286.988 343.599 L 287.1 343.495 L 287.212 343.387 L 287.325 343.274 L 287.438 343.159 L 287.55 343.042 L 287.663 342.925 L 287.73 342.855 L 287.775 342.807 L 287.887 342.672 L 288 342.519 L 288.113 342.35 L 288.225 342.17 L 288.337 341.979 L 288.45 341.782 L 288.562 341.58 L 288.675 341.377 L 288.788 341.175 L 288.9 340.978 L 289.012 340.787 L 289.125 340.605 L 289.238 340.42 L 289.35 340.222 L 289.462 340.016 L 289.575 339.81 L 289.688 339.608 L 289.8 339.418 L 289.913 339.245 L 290.025 339.096 L 290.137 338.977 L 290.25 338.895 L 290.363 338.834 L 290.475 338.775 L 290.587 338.719 L 290.7 338.667 L 290.812 338.617 L 290.925 338.571 L 291.038 338.528 L 291.15 338.49 L 291.262 338.456 L 291.375 338.426 L 291.488 338.401 L 291.6 338.381 L 291.712 338.367 L 291.825 338.358 L 291.938 338.355 L 292.05 338.372 L 292.163 338.419 L 292.275 338.494 L 292.387 338.591 L 292.5 338.706 L 292.613 338.836 L 292.725 338.975 L 292.837 339.121 L 292.95 339.268 L 293.062 339.414 L 293.175 339.552 L 293.288 339.68 L 293.355 339.75 L 293.4 339.795 L 293.512 339.91 L 293.625 340.029 L 293.738 340.149 L 293.85 340.271 L 293.962 340.392 L 294.075 340.512 L 294.188 340.629 L 294.3 340.744 L 294.413 340.854 L 294.525 340.958 L 294.637 341.055 L 294.75 341.145 L 294.863 341.225 L 294.975 341.297 L 295.087 341.361 L 295.2 341.42 L 295.312 341.477 L 295.425 341.533 L 295.538 341.589 L 295.65 341.649 L 295.762 341.714 L 295.875 341.786 L 295.988 341.867 L 296.1 341.959 L 296.145 342 L 296.212 342.074 L 296.325 342.245 L 296.438 342.46 L 296.55 342.705 L 296.663 342.965 L 296.775 343.225 L 296.887 343.469 L 297 343.683 L 297.113 343.851 L 297.225 343.958 L 297.27 343.98 L 297.337 344.003 L 297.45 344.041 L 297.562 344.075 L 297.675 344.107 L 297.788 344.136 L 297.9 344.162 L 298.012 344.184 L 298.125 344.204 L 298.238 344.22 L 298.35 344.233 L 298.462 344.242 L 298.575 344.248 L 298.688 344.25 L 298.8 344.222 L 298.913 344.145 L 299.025 344.028 L 299.137 343.88 L 299.25 343.71 L 299.363 343.527 L 299.475 343.341 L 299.587 343.161 L 299.7 342.996 L 299.812 342.855 L 299.925 342.718 L 300.038 342.567 L 300.15 342.414 L 300.262 342.269 L 300.375 342.145 L 300.488 342.053 L 300.6 342.005 L 300.645 342 L 300.712 342.01 L 300.825 342.069 L 300.938 342.171 L 301.05 342.308 L 301.163 342.471 L 301.275 342.65 L 301.387 342.836 L 301.5 343.019 L 301.613 343.191 L 301.725 343.342 L 301.77 343.395 L 301.837 343.472 L 301.95 343.61 L 302.062 343.756 L 302.175 343.906 L 302.288 344.056 L 302.4 344.202 L 302.512 344.342 L 302.625 344.47 L 302.738 344.583 L 302.85 344.678 L 302.962 344.75 L 303.075 344.796 L 303.188 344.812 L 303.3 344.793 L 303.413 344.738 L 303.525 344.652 L 303.637 344.541 L 303.75 344.409 L 303.863 344.263 L 303.975 344.107 L 304.087 343.946 L 304.2 343.786 L 304.312 343.631 L 304.425 343.488 L 304.538 343.36 L 304.65 343.254 L 304.762 343.174 L 304.875 343.125 L 304.988 343.095 L 305.1 343.065 L 305.212 343.037 L 305.325 343.011 L 305.438 342.986 L 305.55 342.963 L 305.663 342.942 L 305.775 342.922 L 305.887 342.905 L 306 342.891 L 306.113 342.878 L 306.225 342.868 L 306.337 342.861 L 306.45 342.857 L 306.562 342.855 L 306.675 342.859 L 306.788 342.869 L 306.9 342.885 L 307.012 342.908 L 307.125 342.935 L 307.238 342.968 L 307.35 343.005 L 307.462 343.045 L 307.575 343.089 L 307.688 343.136 L 307.8 343.185 L 307.913 343.236 L 308.025 343.288 L 308.137 343.341 L 308.25 343.395 L 308.363 343.462 L 308.475 343.552 L 308.587 343.662 L 308.7 343.787 L 308.812 343.922 L 308.925 344.065 L 309.038 344.211 L 309.15 344.355 L 309.262 344.493 L 309.375 344.621 L 309.488 344.736 L 309.6 344.832 L 309.712 344.906 L 309.825 344.953 L 309.938 344.97 L 310.05 344.957 L 310.163 344.92 L 310.275 344.862 L 310.387 344.785 L 310.5 344.691 L 310.613 344.583 L 310.725 344.464 L 310.837 344.336 L 310.95 344.201 L 311.062 344.062 L 311.175 343.922 L 311.288 343.782 L 311.4 343.646 L 311.512 343.516 L 311.625 343.395 L 311.738 343.276 L 311.85 343.153 L 311.962 343.026 L 312.075 342.896 L 312.188 342.763 L 312.3 342.629 L 312.413 342.493 L 312.525 342.356 L 312.637 342.22 L 312.75 342.084 L 312.863 341.95 L 312.975 341.817 L 313.087 341.687 L 313.2 341.56 L 313.312 341.438 L 313.425 341.317 L 313.538 341.196 L 313.65 341.076 L 313.762 340.956 L 313.875 340.837 L 313.988 340.72 L 314.1 340.603 L 314.212 340.489 L 314.325 340.376 L 314.438 340.265 L 314.55 340.156 L 314.663 340.05 L 314.775 339.947 L 314.887 339.847 L 315 339.75 L 315.113 339.651 L 315.225 339.547 L 315.337 339.439 L 315.45 339.328 L 315.562 339.218 L 315.675 339.109 L 315.788 339.003 L 315.9 338.904 L 316.012 338.811 L 316.125 338.728 L 316.238 338.655 L 316.35 338.596 L 316.462 338.551 L 316.575 338.522 L 316.688 338.512 L 316.8 338.512 L 316.913 338.512 L 317.025 338.512 L 317.137 338.512 L 317.25 338.512 L 317.363 338.512 L 317.475 338.512 L 317.587 338.512 L 317.7 338.512 L 317.812 338.512 L 317.925 338.512 L 318.038 338.512 L 318.105 338.512 L 318.15 338.515 L 318.262 338.541 L 318.375 338.594 L 318.488 338.669 L 318.6 338.763 L 318.712 338.872 L 318.825 338.992 L 318.938 339.121 L 319.05 339.253 L 319.163 339.386 L 319.275 339.515 L 319.387 339.638 L 319.5 339.75 L 319.613 339.86 L 319.725 339.978 L 319.837 340.101 L 319.95 340.229 L 320.062 340.36 L 320.175 340.491 L 320.288 340.622 L 320.4 340.75 L 320.512 340.874 L 320.625 340.992 L 320.738 341.103 L 320.85 341.205 L 320.962 341.295 L 321.075 341.374 L 321.188 341.438 L 321.3 341.493 L 321.413 341.548 L 321.525 341.6 L 321.637 341.651 L 321.75 341.7 L 321.863 341.746 L 321.975 341.79 L 322.087 341.83 L 322.2 341.867 L 322.312 341.9 L 322.425 341.929 L 322.538 341.954 L 322.65 341.974 L 322.762 341.99 L 322.875 342 L 322.988 342.007 L 323.1 342.014 L 323.212 342.021 L 323.325 342.028 L 323.438 342.034 L 323.55 342.041 L 323.663 342.046 L 323.775 342.052 L 323.887 342.057 L 324 342.062 L 324.113 342.067 L 324.225 342.072 L 324.337 342.076 L 324.45 342.08 L 324.562 342.084 L 324.675 342.088 L 324.788 342.091 L 324.9 342.094 L 325.012 342.097 L 325.125 342.1 L 325.238 342.102 L 325.35 342.104 L 325.462 342.106 L 325.575 342.108 L 325.688 342.109 L 325.8 342.111 L 325.913 342.111 L 326.025 342.112 L 326.137 342.112 L 326.25 342.113 L 326.363 342.111 L 326.475 342.106 L 326.587 342.097 L 326.7 342.086 L 326.812 342.073 L 326.925 342.057 L 327.038 342.039 L 327.15 342.02 L 327.262 341.999 L 327.375 341.978 L 327.488 341.956 L 327.6 341.933 L 327.712 341.91 L 327.825 341.887 L 327.938 341.865 L 328.05 341.843 L 328.163 341.822 L 328.275 341.803 L 328.387 341.786 L 328.5 341.77 L 328.613 341.756 L 328.725 341.745 L 328.837 341.737 L 328.95 341.732 L 329.062 341.73 L 329.175 341.73 L 329.288 341.73 L 329.4 341.73 L 329.512 341.73 L 329.625 341.73 L 329.738 341.73 L 329.85 341.73 L 329.962 341.73 L 330.075 341.73 L 330.188 341.73 L 330.3 341.73 L 330.413 341.73 L 330.525 341.73 L 330.637 341.73 L 330.75 341.73 L 330.863 341.73 L 330.975 341.73 L 331.087 341.73 L 331.2 341.73 L 331.312 341.73 L 331.425 341.73 L 331.538 341.73 L 331.65 341.73 L 331.762 341.73 L 331.875 341.73 L 331.988 341.73 L 332.1 341.73 L 332.212 341.73 L 332.325 341.73 L 332.438 341.73 L 332.55 341.743 L 332.663 341.781 L 332.775 341.839 L 332.887 341.915 L 333 342.006 L 333.113 342.108 L 333.225 342.217 L 333.337 342.332 L 333.45 342.448 L 333.562 342.562 L 333.675 342.683 L 333.788 342.817 L 333.9 342.966 " clip-path="url(#p8c79ba51a0)" style="fill: none; stroke: #000000; stroke-width: 1.575; stroke-linecap: round"/></g><g id="line2d_22"><path d="M 333.9 342.966 L 334.012 343.127 L 334.125 343.298 L 334.238 343.48 L 334.35 343.671 L 334.462 343.869 L 334.575 344.074 L 334.688 344.285 L 334.8 344.499 L 334.913 344.716 L 335.025 344.936 L 335.137 345.156 L 335.25 345.375 L 335.363 345.602 L 335.475 345.842 L 335.587 346.095 L 335.7 346.358 L 335.812 346.628 L 335.925 346.904 L 336.038 347.185 L 336.15 347.467 L 336.262 347.748 L 336.375 348.027 L 336.488 348.301 L 336.6 348.569 L 336.712 348.829 L 336.825 349.077 L 336.938 349.312 L 337.05 349.554 L 337.163 349.814 L 337.275 350.086 L 337.387 350.359 L 337.5 350.624 L 337.613 350.874 L 337.725 351.098 L 337.837 351.288 L 337.95 351.434 L 338.062 351.529 L 338.175 351.562 L 338.288 351.525 L 338.4 351.419 L 338.512 351.253 L 338.625 351.038 L 338.738 350.783 L 338.85 350.498 L 338.962 350.192 L 339.075 349.875 L 339.188 349.476 L 339.3 348.939 L 339.413 348.295 L 339.525 347.573 L 339.637 346.804 L 339.75 346.019 L 339.863 345.248 L 339.975 344.521 L 340.02 344.25 L 340.087 343.844 L 340.2 343.135 L 340.312 342.403 L 340.425 341.668 L 340.538 340.948 L 340.65 340.265 L 340.762 339.637 L 340.875 339.084 L 340.988 338.625 L 341.1 338.223 " clip-path="url(#p8c79ba51a0)" style="fill: none; stroke: #000000; stroke-width: 1.08; stroke-linecap: round"/></g><g id="line2d_23"><path d="M 341.1 338.223 L 341.212 337.834 L 341.325 337.475 L 341.438 337.159 L 341.55 336.901 L 341.663 336.715 L 341.73 336.645 L 341.775 336.61 L 341.887 336.527 L 342 336.452 L 342.113 336.388 L 342.225 336.335 L 342.337 336.296 L 342.45 336.271 L 342.562 336.262 L 342.675 336.263 L 342.788 336.263 L 342.9 336.264 L 343.012 336.266 L 343.125 336.267 L 343.238 336.269 L 343.35 336.272 L 343.462 336.274 L 343.575 336.277 L 343.688 336.281 L 343.8 336.284 L 343.913 336.288 L 344.025 336.292 L 344.137 336.296 L 344.25 336.3 L 344.363 336.304 L 344.475 336.309 L 344.587 336.314 L 344.7 336.319 L 344.812 336.324 L 344.925 336.329 L 345.038 336.334 L 345.15 336.339 L 345.262 336.344 L 345.375 336.349 L 345.488 336.355 L 345.6 336.36 L 345.712 336.365 L 345.825 336.37 L 345.938 336.375 L 346.05 336.38 L 346.163 336.386 L 346.275 336.392 L 346.387 336.399 L 346.5 336.407 L 346.613 336.414 L 346.725 336.422 L 346.837 336.431 L 346.95 336.439 L 347.062 336.448 L 347.175 336.458 L 347.288 336.467 L 347.4 336.476 L 347.512 336.486 L 347.625 336.496 L 347.738 336.505 L 347.85 336.515 L 347.962 336.524 L 348.075 336.534 L 348.188 336.543 L 348.3 336.553 L 348.413 336.562 L 348.525 336.571 L 348.637 336.579 L 348.75 336.587 L 348.863 336.595 L 348.975 336.603 L 349.087 336.61 L 349.2 336.617 L 349.312 336.623 L 349.425 336.629 L 349.538 336.634 L 349.65 336.638 L 349.762 336.642 L 349.875 336.645 L 349.988 336.648 L 350.1 336.65 L 350.212 336.653 L 350.325 336.656 L 350.438 336.658 L 350.55 336.661 L 350.663 336.663 L 350.775 336.665 L 350.887 336.668 L 351 336.67 L 351.113 336.672 L 351.225 336.674 L 351.337 336.677 L 351.45 336.679 L 351.562 336.681 L 351.675 336.683 L 351.788 336.685 L 351.9 336.687 L 352.012 336.688 L 352.125 336.69 L 352.238 336.692 L 352.35 336.694 L 352.462 336.696 L 352.575 336.697 L 352.688 336.699 L 352.8 336.7 L 352.913 336.702 L 353.025 336.704 L 353.137 336.705 L 353.25 336.707 L 353.363 336.708 L 353.475 336.71 L 353.587 336.711 L 353.7 336.712 L 353.812 336.714 L 353.925 336.715 L 354.038 336.716 L 354.15 336.718 L 354.262 336.719 L 354.375 336.72 L 354.488 336.721 L 354.6 336.723 L 354.712 336.724 L 354.825 336.725 L 354.938 336.726 L 355.05 336.727 L 355.163 336.728 L 355.275 336.73 L 355.387 336.731 L 355.5 336.732 L 355.613 336.733 L 355.725 336.734 L 355.837 336.735 L 355.95 336.736 L 356.062 336.737 L 356.175 336.738 L 356.288 336.739 L 356.4 336.74 L 356.512 336.741 L 356.625 336.743 L 356.738 336.744 L 356.85 336.745 L 356.962 336.746 L 357.075 336.747 L 357.188 336.748 L 357.3 336.749 L 357.413 336.75 L 357.525 336.751 L 357.637 336.752 L 357.75 336.753 L 357.863 336.755 L 357.975 336.756 L 358.087 336.757 L 358.2 336.758 L 358.312 336.759 L 358.425 336.761 L 358.538 336.762 L 358.65 336.763 L 358.762 336.764 L 358.875 336.766 L 358.988 336.767 L 359.1 336.768 L 359.212 336.77 L 359.325 336.771 L 359.438 336.772 L 359.55 336.774 L 359.663 336.775 L 359.775 336.777 L 359.887 336.778 L 360 336.78 L 360.113 336.782 L 360.225 336.783 L 360.337 336.785 L 360.45 336.787 L 360.562 336.788 L 360.675 336.79 L 360.788 336.792 L 360.9 336.793 L 361.012 336.795 L 361.125 336.797 L 361.238 336.799 L 361.35 336.801 L 361.462 336.802 L 361.575 336.804 L 361.688 336.806 L 361.8 336.808 L 361.913 336.81 L 362.025 336.812 L 362.137 336.814 L 362.25 336.816 L 362.363 336.818 L 362.475 336.82 L 362.587 336.822 L 362.7 336.824 L 362.812 336.826 L 362.925 336.828 L 363.038 336.83 L 363.15 336.832 L 363.262 336.834 L 363.375 336.836 L 363.488 336.838 L 363.6 336.84 L 363.712 336.843 L 363.825 336.845 L 363.938 336.847 L 364.05 336.849 L 364.163 336.851 L 364.275 336.853 L 364.387 336.856 L 364.5 336.858 L 364.613 336.86 L 364.725 336.862 L 364.837 336.864 L 364.95 336.867 L 365.062 336.869 L 365.175 336.871 L 365.288 336.873 L 365.4 336.875 L 365.512 336.878 L 365.625 336.88 L 365.738 336.882 L 365.85 336.884 L 365.962 336.887 L 366.075 336.889 L 366.188 336.891 L 366.3 336.893 L 366.413 336.896 L 366.525 336.898 L 366.637 336.9 L 366.75 336.902 L 366.863 336.905 L 366.975 336.907 L 367.087 336.909 L 367.2 336.911 L 367.312 336.914 L 367.425 336.916 L 367.538 336.918 L 367.65 336.92 L 367.762 336.923 L 367.875 336.925 L 367.988 336.927 L 368.1 336.929 L 368.212 336.931 L 368.325 336.934 L 368.438 336.936 L 368.55 336.938 L 368.663 336.94 L 368.775 336.942 L 368.887 336.944 L 369 336.947 L 369.113 336.949 L 369.225 336.951 L 369.337 336.953 L 369.45 336.955 L 369.562 336.957 L 369.675 336.959 L 369.788 336.961 L 369.9 336.963 L 370.012 336.965 L 370.125 336.967 L 370.238 336.969 L 370.35 336.971 L 370.462 336.973 L 370.575 336.975 L 370.688 336.977 L 370.8 336.979 L 370.913 336.981 L 371.025 336.983 L 371.137 336.985 L 371.25 336.987 L 371.363 336.989 L 371.475 336.99 L 371.587 336.992 L 371.7 336.994 L 371.812 336.996 L 371.925 336.998 L 372.038 336.999 L 372.15 337.001 L 372.262 337.003 L 372.375 337.004 L 372.488 337.006 L 372.6 337.008 L 372.712 337.009 L 372.825 337.011 L 372.938 337.012 L 373.05 337.014 L 373.163 337.015 L 373.275 337.017 L 373.387 337.018 L 373.5 337.02 L 373.613 337.021 L 373.725 337.022 L 373.837 337.024 L 373.95 337.025 L 374.062 337.026 L 374.175 337.028 L 374.288 337.029 L 374.4 337.03 L 374.512 337.031 L 374.625 337.032 L 374.738 337.033 L 374.85 337.034 L 374.962 337.036 L 375.075 337.037 L 375.188 337.037 L 375.3 337.038 L 375.413 337.039 L 375.525 337.04 L 375.637 337.041 L 375.75 337.042 L 375.863 337.043 L 375.975 337.043 L 376.087 337.044 L 376.2 337.045 L 376.312 337.045 L 376.425 337.046 L 376.538 337.046 L 376.65 337.047 L 376.762 337.047 L 376.875 337.048 L 376.988 337.048 L 377.1 337.049 L 377.212 337.049 L 377.325 337.049 L 377.438 337.049 L 377.55 337.05 L 377.663 337.05 L 377.775 337.05 L 377.887 337.05 L 378 337.05 L 378.113 337.05 L 378.225 337.05 L 378.337 337.05 L 378.45 337.05 L 378.562 337.05 L 378.675 337.05 L 378.788 337.05 L 378.9 337.05 L 379.012 337.05 L 379.125 337.05 L 379.238 337.049 L 379.35 337.049 L 379.462 337.049 L 379.575 337.049 L 379.688 337.049 L 379.8 337.049 L 379.913 337.049 L 380.025 337.048 L 380.137 337.048 L 380.25 337.048 L 380.363 337.048 L 380.475 337.048 L 380.587 337.047 L 380.7 337.047 L 380.812 337.047 L 380.925 337.047 L 381.038 337.047 L 381.15 337.046 L 381.262 337.046 L 381.375 337.046 L 381.488 337.045 L 381.6 337.045 L 381.712 337.045 L 381.825 337.044 L 381.938 337.044 L 382.05 337.044 L 382.163 337.043 L 382.275 337.043 L 382.387 337.043 L 382.5 337.042 L 382.613 337.042 L 382.725 337.041 L 382.837 337.041 L 382.95 337.041 L 383.062 337.04 L 383.175 337.04 L 383.288 337.039 L 383.4 337.039 L 383.512 337.038 L 383.625 337.038 L 383.738 337.037 L 383.85 337.037 L 383.962 337.036 L 384.075 337.036 L 384.188 337.035 L 384.3 337.035 L 384.413 337.034 L 384.525 337.033 L 384.637 337.033 L 384.75 337.032 L 384.863 337.032 L 384.975 337.031 L 385.087 337.03 L 385.2 337.03 L 385.312 337.029 L 385.425 337.028 L 385.538 337.028 L 385.65 337.027 L 385.762 337.026 L 385.875 337.026 L 385.988 337.025 L 386.1 337.024 L 386.212 337.023 L 386.325 337.023 L 386.438 337.022 L 386.55 337.021 L 386.663 337.02 L 386.775 337.019 L 386.887 337.019 L 387 337.018 L 387.113 337.017 L 387.225 337.016 L 387.337 337.015 L 387.45 337.014 L 387.562 337.013 L 387.675 337.013 L 387.788 337.012 L 387.9 337.011 L 388.012 337.01 L 388.125 337.009 L 388.238 337.008 L 388.35 337.007 L 388.462 337.006 L 388.575 337.005 L 388.688 337.004 L 388.8 337.003 L 388.913 337.002 L 389.025 337.001 L 389.137 337 L 389.25 336.999 L 389.363 336.998 L 389.475 336.996 L 389.587 336.995 L 389.7 336.994 L 389.812 336.993 L 389.925 336.992 L 390.038 336.991 L 390.15 336.99 L 390.262 336.988 L 390.375 336.987 L 390.488 336.986 L 390.6 336.985 L 390.712 336.984 L 390.825 336.982 L 390.938 336.981 L 391.05 336.98 L 391.163 336.979 L 391.275 336.977 L 391.387 336.976 L 391.5 336.975 L 391.613 336.973 L 391.725 336.972 L 391.837 336.971 L 391.95 336.969 L 392.062 336.968 L 392.175 336.966 L 392.288 336.965 L 392.4 336.964 L 392.512 336.962 L 392.625 336.961 L 392.738 336.959 L 392.85 336.958 L 392.962 336.956 L 393.075 336.955 L 393.188 336.953 L 393.3 336.952 L 393.413 336.95 L 393.525 336.949 L 393.637 336.947 L 393.75 336.946 L 393.863 336.944 L 393.975 336.942 L 394.087 336.941 L 394.2 336.939 L 394.312 336.937 L 394.425 336.936 L 394.538 336.934 L 394.65 336.932 L 394.762 336.931 L 394.875 336.929 L 394.988 336.927 L 395.1 336.925 L 395.212 336.924 L 395.325 336.922 L 395.438 336.92 L 395.55 336.918 L 395.663 336.917 L 395.775 336.915 L 395.887 336.913 L 396 336.911 L 396.113 336.909 L 396.225 336.907 L 396.337 336.905 L 396.45 336.903 L 396.562 336.902 L 396.675 336.9 L 396.788 336.898 L 396.9 336.896 L 397.012 336.894 L 397.125 336.892 L 397.238 336.89 L 397.35 336.888 L 397.462 336.886 L 397.575 336.884 L 397.688 336.881 L 397.8 336.879 L 397.913 336.877 L 398.025 336.875 L 398.137 336.873 L 398.25 336.871 L 398.363 336.869 L 398.475 336.867 L 398.587 336.864 L 398.7 336.862 L 398.812 336.86 L 398.925 336.858 L 399.038 336.856 L 399.15 336.853 L 399.262 336.851 L 399.375 336.849 L 399.488 336.846 L 399.6 336.844 L 399.712 336.842 L 399.825 336.839 L 399.938 336.837 L 400.05 336.835 L 400.163 336.832 L 400.275 336.83 L 400.387 336.827 L 400.5 336.825 " clip-path="url(#p8c79ba51a0)" style="fill: none; stroke: #000000; stroke-width: 1.26; stroke-linecap: round"/></g><g id="line2d_24"><path d="M 400.5 336.825 L 400.613 336.822 L 400.725 336.818 L 400.837 336.813 L 400.95 336.806 L 401.062 336.799 L 401.175 336.791 L 401.288 336.782 L 401.4 336.773 L 401.512 336.762 L 401.625 336.751 L 401.738 336.739 L 401.85 336.726 L 401.962 336.713 L 402.075 336.7 L 402.188 336.686 L 402.3 336.671 L 402.413 336.656 L 402.525 336.641 L 402.637 336.625 L 402.75 336.609 L 402.863 336.593 L 402.975 336.577 L 403.087 336.561 L 403.2 336.545 L 403.312 336.528 L 403.425 336.512 L 403.538 336.496 L 403.65 336.48 L 403.762 336.464 L 403.875 336.449 L 403.988 336.433 L 404.1 336.419 L 404.212 336.404 L 404.325 336.39 L 404.438 336.376 L 404.55 336.363 L 404.663 336.351 L 404.775 336.339 L 404.887 336.328 L 405 336.317 L 405.113 336.307 L 405.225 336.298 L 405.337 336.29 L 405.45 336.283 L 405.562 336.277 L 405.675 336.272 L 405.788 336.268 L 405.9 336.265 L 406.012 336.263 L 406.125 336.262 L 406.238 336.263 L 406.35 336.265 L 406.462 336.268 L 406.575 336.273 L 406.688 336.278 L 406.8 336.285 L 406.913 336.292 L 407.025 336.301 L 407.137 336.311 L 407.25 336.321 L 407.363 336.332 L 407.475 336.344 L 407.587 336.357 L 407.7 336.37 L 407.812 336.384 L 407.925 336.398 L 408.038 336.413 L 408.15 336.429 L 408.262 336.444 L 408.375 336.461 L 408.488 336.477 L 408.6 336.493 L 408.712 336.51 L 408.825 336.527 L 408.938 336.544 L 409.05 336.561 L 409.163 336.577 L 409.275 336.594 L 409.387 336.611 L 409.5 336.627 L 409.613 336.643 L 409.725 336.659 L 409.837 336.674 L 409.95 336.689 L 410.062 336.704 L 410.175 336.717 L 410.288 336.731 L 410.4 336.743 L 410.512 336.755 L 410.625 336.767 L 410.738 336.777 L 410.85 336.786 L 410.962 336.795 L 411.075 336.803 L 411.188 336.809 L 411.3 336.815 L 411.413 336.819 L 411.525 336.822 L 411.637 336.824 L 411.75 336.825 L 411.863 336.824 L 411.975 336.822 L 412.087 336.818 L 412.2 336.812 L 412.312 336.805 L 412.425 336.796 L 412.538 336.787 L 412.65 336.776 L 412.762 336.763 L 412.875 336.75 L 412.988 336.736 L 413.1 336.72 L 413.212 336.704 L 413.325 336.687 L 413.438 336.669 L 413.55 336.651 L 413.663 336.632 L 413.775 336.612 L 413.887 336.592 L 414 336.572 L 414.113 336.551 L 414.225 336.529 L 414.337 336.508 L 414.45 336.487 L 414.562 336.465 L 414.675 336.443 L 414.788 336.422 L 414.9 336.401 L 415.012 336.379 L 415.125 336.358 L 415.238 336.338 L 415.35 336.318 L 415.462 336.298 L 415.575 336.279 L 415.688 336.261 L 415.8 336.243 L 415.913 336.226 L 416.025 336.21 L 416.137 336.194 L 416.25 336.18 L 416.363 336.167 L 416.475 336.154 L 416.587 336.143 L 416.7 336.134 L 416.812 336.125 L 416.925 336.118 L 417.038 336.112 L 417.15 336.108 L 417.262 336.106 L 417.375 336.105 L 417.488 336.105 L 417.6 336.107 L 417.712 336.109 L 417.825 336.112 L 417.938 336.116 L 418.05 336.12 L 418.163 336.125 L 418.275 336.131 L 418.387 336.138 L 418.5 336.145 L 418.613 336.152 L 418.725 336.161 L 418.837 336.169 L 418.95 336.178 L 419.062 336.188 L 419.175 336.197 L 419.288 336.208 L 419.4 336.218 L 419.512 336.229 L 419.625 336.24 L 419.738 336.251 L 419.85 336.262 L 419.962 336.273 L 420.075 336.285 L 420.188 336.296 L 420.3 336.308 L 420.413 336.319 L 420.525 336.331 L 420.637 336.342 L 420.75 336.353 L 420.863 336.364 L 420.975 336.374 L 421.087 336.385 L 421.2 336.395 L 421.312 336.405 L 421.425 336.414 L 421.538 336.423 L 421.65 336.432 L 421.762 336.44 L 421.875 336.448 L 421.988 336.455 L 422.1 336.461 L 422.212 336.467 L 422.325 336.472 L 422.438 336.477 L 422.55 336.481 L 422.663 336.484 L 422.775 336.486 L 422.887 336.487 L 423 336.488 L 423.113 336.487 L 423.225 336.484 L 423.337 336.481 L 423.45 336.475 L 423.562 336.469 L 423.675 336.461 L 423.788 336.452 L 423.9 336.441 L 424.012 336.43 L 424.125 336.417 L 424.238 336.404 L 424.35 336.39 L 424.462 336.374 L 424.575 336.358 L 424.688 336.342 L 424.8 336.324 L 424.913 336.306 L 425.025 336.288 L 425.137 336.269 L 425.25 336.25 L 425.363 336.23 L 425.475 336.21 L 425.587 336.19 L 425.7 336.17 L 425.812 336.15 L 425.925 336.13 L 426.038 336.11 L 426.15 336.09 L 426.262 336.07 L 426.375 336.05 L 426.488 336.031 L 426.6 336.012 L 426.712 335.994 L 426.825 335.976 L 426.938 335.958 L 427.05 335.942 L 427.163 335.926 L 427.275 335.91 L 427.387 335.896 L 427.5 335.883 L 427.613 335.87 L 427.725 335.859 L 427.837 335.848 L 427.95 335.839 L 428.062 335.831 L 428.175 335.825 L 428.288 335.819 L 428.4 335.816 L 428.512 335.813 L 428.625 335.812 L 428.738 335.813 L 428.85 335.815 L 428.962 335.819 L 429.075 335.824 L 429.188 335.83 L 429.3 335.837 L 429.413 335.845 L 429.525 335.855 L 429.637 335.865 L 429.75 335.877 L 429.863 335.889 L 429.975 335.902 L 430.087 335.917 L 430.2 335.931 L 430.312 335.947 L 430.425 335.963 L 430.538 335.98 L 430.65 335.997 L 430.762 336.014 L 430.875 336.032 L 430.988 336.051 L 431.1 336.07 L 431.212 336.088 L 431.325 336.108 L 431.438 336.127 L 431.55 336.146 L 431.663 336.165 L 431.775 336.185 L 431.887 336.204 L 432 336.223 L 432.113 336.242 L 432.225 336.26 L 432.337 336.278 L 432.45 336.296 L 432.562 336.314 L 432.675 336.331 L 432.788 336.347 L 432.9 336.363 L 433.012 336.378 L 433.125 336.392 L 433.238 336.406 L 433.35 336.418 L 433.462 336.43 L 433.575 336.441 L 433.688 336.451 L 433.8 336.46 L 433.913 336.467 L 434.025 336.474 L 434.137 336.479 L 434.25 336.483 L 434.363 336.486 L 434.475 336.487 L 434.52 336.488 L 434.587 336.487 L 434.7 336.485 L 434.812 336.481 L 434.925 336.475 L 435.038 336.467 L 435.15 336.457 L 435.262 336.446 L 435.375 336.434 L 435.488 336.42 L 435.6 336.404 L 435.712 336.388 L 435.825 336.37 L 435.938 336.351 L 436.05 336.331 L 436.163 336.311 L 436.275 336.289 L 436.387 336.267 L 436.5 336.244 L 436.613 336.221 L 436.725 336.197 L 436.837 336.173 L 436.95 336.148 L 437.062 336.124 L 437.175 336.099 L 437.288 336.074 L 437.4 336.049 L 437.512 336.025 L 437.625 336 L 437.738 335.976 L 437.85 335.953 L 437.962 335.93 L 438.075 335.907 L 438.188 335.885 L 438.3 335.864 L 438.413 335.844 L 438.525 335.825 L 438.637 335.807 L 438.75 335.79 L 438.863 335.774 L 438.975 335.759 L 439.087 335.746 L 439.2 335.734 L 439.312 335.724 L 439.425 335.716 L 439.538 335.709 L 439.65 335.704 L 439.762 335.701 L 439.875 335.7 L 439.988 335.701 L 440.1 335.704 L 440.212 335.709 L 440.325 335.716 L 440.438 335.724 L 440.55 335.734 L 440.663 335.746 L 440.775 335.759 L 440.887 335.774 L 441 335.79 L 441.113 335.807 L 441.225 335.825 L 441.337 335.844 L 441.45 335.864 L 441.562 335.885 L 441.675 335.907 L 441.788 335.93 L 441.9 335.953 L 442.012 335.976 L 442.125 336 L 442.238 336.025 L 442.35 336.049 L 442.462 336.074 L 442.575 336.099 L 442.688 336.124 L 442.8 336.148 L 442.913 336.173 L 443.025 336.197 L 443.137 336.221 L 443.25 336.244 L 443.363 336.267 L 443.475 336.289 L 443.587 336.311 L 443.7 336.331 L 443.812 336.351 L 443.925 336.37 L 444.038 336.388 L 444.15 336.404 L 444.262 336.42 L 444.375 336.434 L 444.488 336.446 L 444.6 336.457 L 444.712 336.467 L 444.825 336.475 L 444.938 336.481 L 445.05 336.485 L 445.163 336.487 L 445.23 336.488 L 445.275 336.487 L 445.387 336.485 L 445.5 336.482 L 445.613 336.476 L 445.725 336.468 L 445.837 336.459 L 445.95 336.448 L 446.062 336.435 L 446.175 336.421 L 446.288 336.405 L 446.4 336.388 L 446.512 336.369 L 446.625 336.35 L 446.738 336.329 L 446.85 336.307 L 446.962 336.284 L 447.075 336.26 L 447.188 336.235 L 447.3 336.21 L 447.413 336.184 L 447.525 336.157 L 447.637 336.13 L 447.75 336.102 L 447.863 336.074 L 447.975 336.045 L 448.087 336.017 L 448.2 335.988 L 448.312 335.959 L 448.425 335.93 L 448.538 335.901 L 448.65 335.872 L 448.762 335.844 L 448.875 335.816 L 448.988 335.788 L 449.1 335.761 L 449.212 335.734 L 449.325 335.708 L 449.438 335.682 L 449.55 335.657 L 449.663 335.634 L 449.775 335.611 L 449.887 335.589 L 450 335.568 L 450.113 335.548 L 450.225 335.53 L 450.337 335.513 L 450.45 335.497 L 450.562 335.483 L 450.675 335.47 L 450.788 335.459 L 450.9 335.449 L 451.012 335.442 L 451.125 335.436 L 451.238 335.432 L 451.35 335.43 L 451.395 335.43 L 451.462 335.43 L 451.575 335.434 L 451.688 335.439 L 451.8 335.447 L 451.913 335.458 L 452.025 335.47 L 452.137 335.485 L 452.25 335.502 L 452.363 335.521 L 452.475 335.542 L 452.587 335.564 L 452.7 335.588 L 452.812 335.613 L 452.925 335.64 L 453.038 335.667 L 453.15 335.696 L 453.262 335.726 L 453.375 335.757 L 453.488 335.788 L 453.6 335.82 L 453.712 335.853 L 453.825 335.886 L 453.938 335.919 L 454.05 335.952 L 454.163 335.985 L 454.275 336.019 L 454.387 336.052 L 454.5 336.084 L 454.613 336.117 L 454.725 336.148 L 454.837 336.179 L 454.95 336.209 L 455.062 336.239 L 455.175 336.267 L 455.288 336.294 L 455.4 336.32 L 455.512 336.344 L 455.625 336.367 L 455.738 336.388 L 455.85 336.408 L 455.962 336.426 L 456.075 336.441 L 456.188 336.455 L 456.3 336.466 L 456.413 336.475 L 456.525 336.482 L 456.637 336.486 L 456.75 336.488 L 456.863 336.486 L 456.975 336.481 L 457.087 336.474 L 457.2 336.463 L 457.312 336.45 L 457.425 336.434 L 457.538 336.416 L 457.65 336.395 L 457.762 336.372 L 457.875 336.347 L 457.988 336.32 L 458.1 336.292 L 458.212 336.261 L 458.325 336.229 L 458.438 336.196 L 458.55 336.161 L 458.663 336.125 L 458.775 336.089 L 458.887 336.051 L 459 336.012 L 459.113 335.973 L 459.225 335.933 L 459.337 335.893 L 459.45 335.853 L 459.562 335.812 L 459.675 335.772 L 459.788 335.732 L 459.9 335.692 L 460.012 335.652 L 460.125 335.613 L 460.238 335.574 L 460.35 335.536 L 460.462 335.5 L 460.575 335.464 L 460.688 335.429 L 460.8 335.396 L 460.913 335.364 L 461.025 335.333 L 461.137 335.305 L 461.25 335.278 L 461.363 335.253 L 461.475 335.23 L 461.587 335.209 L 461.7 335.191 L 461.812 335.175 L 461.925 335.162 L 462.038 335.151 L 462.15 335.144 L 462.262 335.139 L 462.375 335.137 L 462.488 335.139 L 462.6 335.145 L 462.712 335.155 L 462.825 335.168 L 462.938 335.184 L 463.05 335.203 L 463.163 335.226 L 463.275 335.251 L 463.387 335.279 L 463.5 335.309 L 463.613 335.342 L 463.725 335.377 L 463.837 335.413 L 463.95 335.452 L 464.062 335.492 L 464.175 335.534 L 464.288 335.577 L 464.4 335.621 L 464.512 335.666 L 464.625 335.712 L 464.738 335.759 L 464.85 335.806 L 464.962 335.853 L 465.075 335.901 L 465.188 335.948 L 465.3 335.995 L 465.413 336.042 L 465.525 336.089 L 465.637 336.134 L 465.75 336.179 L 465.863 336.223 L 465.975 336.265 L 466.087 336.307 L 466.2 336.346 L 466.312 336.384 L 466.425 336.42 L 466.538 336.454 L 466.65 336.486 L 466.762 336.515 L 466.875 336.542 L 466.988 336.566 L 467.1 336.587 L 467.212 336.605 L 467.325 336.62 L 467.438 336.632 L 467.55 336.64 L 467.663 336.644 L 467.73 336.645 L 467.775 336.645 L 467.887 336.641 L 468 336.633 L 468.113 336.622 L 468.225 336.607 L 468.337 336.588 L 468.45 336.567 L 468.562 336.542 L 468.675 336.514 L 468.788 336.484 L 468.9 336.451 L 469.012 336.416 L 469.125 336.378 L 469.238 336.339 L 469.35 336.297 L 469.462 336.254 L 469.575 336.21 L 469.688 336.164 L 469.8 336.117 L 469.913 336.069 L 470.025 336.021 L 470.137 335.972 L 470.25 335.922 L 470.363 335.872 L 470.475 335.823 L 470.587 335.773 L 470.7 335.724 L 470.812 335.675 L 470.925 335.626 L 471.038 335.579 L 471.15 335.532 L 471.262 335.487 L 471.375 335.443 L 471.488 335.401 L 471.6 335.36 L 471.712 335.322 L 471.825 335.285 L 471.938 335.251 L 472.05 335.219 L 472.163 335.189 L 472.275 335.163 L 472.387 335.139 L 472.5 335.119 L 472.613 335.102 L 472.725 335.088 L 472.837 335.078 L 472.95 335.072 L 473.062 335.07 L 473.175 335.072 L 473.288 335.077 L 473.4 335.086 L 473.512 335.099 L 473.625 335.115 L 473.738 335.133 L 473.85 335.155 L 473.962 335.179 L 474.075 335.207 L 474.188 335.236 L 474.3 335.268 L 474.413 335.302 L 474.525 335.339 L 474.637 335.377 L 474.75 335.417 L 474.863 335.458 L 474.975 335.501 L 475.087 335.546 L 475.2 335.592 L 475.312 335.638 L 475.425 335.686 L 475.538 335.734 L 475.65 335.783 L 475.762 335.833 L 475.875 335.882 L 475.988 335.932 L 476.1 335.983 L 476.212 336.032 L 476.325 336.082 L 476.438 336.131 L 476.55 336.18 L 476.663 336.228 L 476.775 336.276 L 476.887 336.322 L 477 336.367 L 477.113 336.411 L 477.225 336.453 L 477.337 336.494 L 477.45 336.534 L 477.562 336.571 L 477.675 336.607 L 477.788 336.64 L 477.9 336.671 L 478.012 336.7 L 478.125 336.726 L 478.238 336.749 L 478.35 336.77 L 478.462 336.787 L 478.575 336.801 L 478.688 336.813 L 478.8 336.82 L 478.913 336.824 L 478.98 336.825 L 479.025 336.825 L 479.137 336.822 L 479.25 336.816 L 479.363 336.807 L 479.475 336.795 L 479.587 336.78 L 479.7 336.763 L 479.812 336.743 L 479.925 336.721 L 480.038 336.697 L 480.15 336.671 L 480.262 336.644 L 480.375 336.614 L 480.488 336.583 L 480.6 336.551 L 480.712 336.518 L 480.825 336.483 L 480.938 336.448 L 481.05 336.412 L 481.163 336.375 L 481.275 336.338 L 481.387 336.3 L 481.5 336.262 L 481.613 336.225 L 481.725 336.187 L 481.837 336.15 L 481.95 336.113 L 482.062 336.077 L 482.175 336.042 L 482.288 336.007 L 482.4 335.974 L 482.512 335.942 L 482.625 335.911 L 482.738 335.881 L 482.85 335.854 L 482.962 335.828 L 483.075 335.804 L 483.188 335.782 L 483.3 335.762 L 483.413 335.745 L 483.525 335.73 L 483.637 335.718 L 483.75 335.709 L 483.863 335.703 L 483.975 335.7 L 484.02 335.7 L 484.087 335.701 L 484.2 335.705 L 484.312 335.713 L 484.425 335.724 L 484.538 335.739 L 484.65 335.757 L 484.762 335.778 L 484.875 335.802 L 484.988 335.829 L 485.1 335.858 L 485.212 335.89 L 485.325 335.924 L 485.438 335.96 L 485.55 335.999 L 485.663 336.039 L 485.775 336.081 L 485.887 336.125 L 486 336.17 L 486.113 336.216 L 486.225 336.264 L 486.337 336.312 L 486.45 336.361 L 486.562 336.411 L 486.675 336.462 L 486.788 336.513 L 486.9 336.564 L 487.012 336.615 L 487.125 336.667 L 487.238 336.718 L 487.35 336.769 L 487.462 336.819 L 487.575 336.868 L 487.688 336.917 L 487.8 336.965 L 487.913 337.012 L 488.025 337.057 L 488.137 337.102 L 488.25 337.144 L 488.363 337.185 L 488.475 337.225 L 488.587 337.262 L 488.7 337.297 L 488.812 337.33 L 488.925 337.36 L 489.038 337.388 L 489.15 337.413 L 489.262 337.435 L 489.375 337.454 L 489.488 337.47 L 489.6 337.483 L 489.712 337.492 L 489.825 337.498 L 489.938 337.5 L 490.05 337.499 L 490.163 337.498 L 490.275 337.495 L 490.387 337.491 L 490.5 337.487 L 490.613 337.481 L 490.725 337.475 L 490.837 337.468 L 490.95 337.461 L 491.062 337.452 L 491.175 337.444 L 491.288 337.434 L 491.4 337.425 L 491.512 337.415 L 491.625 337.405 L 491.738 337.394 L 491.85 337.383 L 491.962 337.373 L 492.075 337.362 L 492.188 337.351 L 492.3 337.34 L 492.413 337.33 L 492.525 337.319 L 492.637 337.309 L 492.75 337.299 L 492.863 337.29 L 492.975 337.281 L 493.087 337.273 L 493.2 337.265 L 493.312 337.258 L 493.425 337.251 L 493.538 337.245 L 493.65 337.24 L 493.762 337.236 L 493.875 337.233 L 493.988 337.231 L 494.1 337.23 L 494.145 337.23 L 494.212 337.231 L 494.325 337.238 L 494.438 337.25 L 494.55 337.268 L 494.663 337.29 L 494.775 337.316 L 494.887 337.346 L 495 337.379 L 495.113 337.414 L 495.225 337.452 L 495.337 337.491 L 495.45 337.532 L 495.562 337.573 L 495.675 337.614 L 495.788 337.655 L 495.9 337.695 L 496.012 337.733 L 496.125 337.77 L 496.238 337.808 L 496.35 337.851 L 496.462 337.898 L 496.575 337.948 L 496.688 338.001 L 496.8 338.056 L 496.913 338.112 L 497.025 338.17 L 497.137 338.228 L 497.25 338.286 L 497.363 338.342 L 497.475 338.398 L 497.587 338.451 L 497.7 338.502 L 497.812 338.549 L 497.925 338.592 L 498.038 338.631 L 498.15 338.665 L 498.262 338.693 L 498.375 338.715 L 498.488 338.73 L 498.6 338.737 L 498.645 338.738 L 498.712 338.738 L 498.825 338.738 L 498.938 338.738 L 499.05 338.738 L 499.163 338.738 L 499.23 338.738 L 698.4 338.738 " clip-path="url(#p8c79ba51a0)" style="fill: none; stroke: #000000; stroke-width: 0.99999"/></g><g id="text_10" transform="translate(-1.4530 -2.0488) scale(1.00288 1.00772)"><!-- $B=20\ \mathtt{T}$ --><g transform="translate(578.88 267.968) scale(0.24 -0.24)"><defs><path id="DejaVuSans-32" d="M 1228 531 L 3431 531 L 3431 0 L 469 0 L 469 531 Q 828 903 1448 1529 Q 2069 2156 2228 2338 Q 2531 2678 2651 2914 Q 2772 3150 2772 3378 Q 2772 3750 2511 3984 Q 2250 4219 1831 4219 Q 1534 4219 1204 4116 Q 875 4013 500 3803 L 500 4441 Q 881 4594 1212 4672 Q 1544 4750 1819 4750 Q 2544 4750 2975 4387 Q 3406 4025 3406 3419 Q 3406 3131 3298 2873 Q 3191 2616 2906 2266 Q 2828 2175 2409 1742 Q 1991 1309 1228 531 z " transform="scale(0.015625)"/></defs><use href="#DejaVuSans-Oblique-42" transform="translate(0 0.78125)"/><use href="#DejaVuSans-3d" transform="translate(88.086 0.78125)"/><use href="#DejaVuSans-32" transform="translate(191.357 0.78125)"/><use href="#DejaVuSans-30" transform="translate(254.98 0.78125)"/><use href="#DejaVuSansMono-54" transform="translate(351.074 0.78125)"/></g></g></g><g id="axes_3"><g id="matplotlib.axis_5"><g id="xtick_15"><g id="line2d_25"><g><use href="#m41364bf135" x="100.8" y="648" style="fill-opacity: 0; stroke: #000000; stroke-opacity: 0; stroke-width: 0.8"/></g></g><g id="text_11" transform="translate(-0.0473 -3.0454) scale(1.00477 1.00538)"><!-- 0 --><g transform="translate(93.165 673.236) scale(0.24 -0.24)"><use href="#DejaVuSans-30"/></g></g></g><g id="xtick_16"><g id="line2d_26"><g><use href="#m41364bf135" x="200.4" y="648" style="fill-opacity: 0; stroke: #000000; stroke-opacity: 0; stroke-width: 0.8"/></g></g><g id="text_12" transform="translate(5.4253 2.5275) scale(0.97412 0.99668)"><!-- 50 --><g transform="translate(185.13 673.236) scale(0.24 -0.24)"><use href="#DejaVuSans-35"/><use href="#DejaVuSans-30" transform="translate(63.623 0)"/></g></g></g><g id="xtick_17"><g id="line2d_27"><g><use href="#m41364bf135" x="300" y="648" style="fill-opacity: 0; stroke: #000000; stroke-opacity: 0; stroke-width: 0.8"/></g></g><g id="text_13" transform="translate(4.4941 -2.5470) scale(0.98593 1.00446)"><!-- 100 --><g transform="translate(277.095 673.236) scale(0.24 -0.24)"><defs><path id="DejaVuSans-31" d="M 794 531 L 1825 531 L 1825 4091 L 703 3866 L 703 4441 L 1819 4666 L 2450 4666 L 2450 531 L 3481 531 L 3481 0 L 794 0 L 794 531 z " transform="scale(0.015625)"/></defs><use href="#DejaVuSans-31"/><use href="#DejaVuSans-30" transform="translate(63.623 0)"/><use href="#DejaVuSans-30" transform="translate(127.246 0)"/></g></g></g><g id="xtick_18"><g id="line2d_28"><g><use href="#m41364bf135" x="399.6" y="648" style="fill-opacity: 0; stroke: #000000; stroke-opacity: 0; stroke-width: 0.8"/></g></g><g id="text_14" transform="translate(2.8555 0.8812) scale(0.99326 0.99918)"><!-- 150 --><g transform="translate(376.695 673.236) scale(0.24 -0.24)"><use href="#DejaVuSans-31"/><use href="#DejaVuSans-35" transform="translate(63.623 0)"/><use href="#DejaVuSans-30" transform="translate(127.246 0)"/></g></g></g><g id="xtick_19"><g id="line2d_29"><g><use href="#m41364bf135" x="499.2" y="648" style="fill-opacity: 0; stroke: #000000; stroke-opacity: 0; stroke-width: 0.8"/></g></g><g id="text_15" transform="translate(7.9163 -1.1734) scale(0.98441 1.00255)"><!-- 200 --><g transform="translate(476.295 673.236) scale(0.24 -0.24)"><use href="#DejaVuSans-32"/><use href="#DejaVuSans-30" transform="translate(63.623 0)"/><use href="#DejaVuSans-30" transform="translate(127.246 0)"/></g></g></g><g id="xtick_20"><g id="line2d_30"><g><use href="#m41364bf135" x="598.8" y="648" style="fill-opacity: 0; stroke: #000000; stroke-opacity: 0; stroke-width: 0.8"/></g></g><g id="text_16" transform="translate(5.3753 1.8515) scale(0.99182 0.99784)"><!-- 250 --><g transform="translate(575.895 673.236) scale(0.24 -0.24)"><use href="#DejaVuSans-32"/><use href="#DejaVuSans-35" transform="translate(63.623 0)"/><use href="#DejaVuSans-30" transform="translate(127.246 0)"/></g></g></g><g id="xtick_21"><g id="line2d_31"><g><use href="#m41364bf135" x="698.4" y="648" style="fill-opacity: 0; stroke: #000000; stroke-opacity: 0; stroke-width: 0.8"/></g></g><g id="text_17" transform="translate(14.1195 2.6146) scale(0.97962 0.99684)"><!-- 300 --><g transform="translate(675.495 673.236) scale(0.24 -0.24)"><defs><path id="DejaVuSans-33" d="M 2597 2516 Q 3050 2419 3304 2112 Q 3559 1806 3559 1356 Q 3559 666 3084 287 Q 2609 -91 1734 -91 Q 1441 -91 1130 -33 Q 819 25 488 141 L 488 750 Q 750 597 1062 519 Q 1375 441 1716 441 Q 2309 441 2620 675 Q 2931 909 2931 1356 Q 2931 1769 2642 2001 Q 2353 2234 1838 2234 L 1294 2234 L 1294 2753 L 1863 2753 Q 2328 2753 2575 2939 Q 2822 3125 2822 3475 Q 2822 3834 2567 4026 Q 2313 4219 1838 4219 Q 1578 4219 1281 4162 Q 984 4106 628 3988 L 628 4550 Q 988 4650 1302 4700 Q 1616 4750 1894 4750 Q 2613 4750 3031 4423 Q 3450 4097 3450 3541 Q 3450 3153 3228 2886 Q 3006 2619 2597 2516 z " transform="scale(0.015625)"/></defs><use href="#DejaVuSans-33"/><use href="#DejaVuSans-30" transform="translate(63.623 0)"/><use href="#DejaVuSans-30" transform="translate(127.246 0)"/></g></g></g></g><g id="matplotlib.axis_6"><g id="ytick_7"><g id="line2d_32"><g><use href="#m97e499056c" x="100.8" y="631.548" style="fill-opacity: 0; stroke: #000000; stroke-opacity: 0; stroke-width: 0.8"/></g></g><g id="text_18" transform="translate(0.7352 2.1556) scale(0.99365 0.99685)"><!-- −500 --><g transform="translate(27.879 640.667) scale(0.24 -0.24)"><use href="#DejaVuSans-2212"/><use href="#DejaVuSans-35" transform="translate(83.789 0)"/><use href="#DejaVuSans-30" transform="translate(147.412 0)"/><use href="#DejaVuSans-30" transform="translate(211.035 0)"/></g></g></g><g id="ytick_8"><g id="line2d_33"><g><use href="#m97e499056c" x="100.8" y="549.29" style="fill-opacity: 0; stroke: #000000; stroke-opacity: 0; stroke-width: 0.8"/></g></g><g id="text_19" transform="translate(-0.3324 -0.9229) scale(1.00641 1.00199)"><!-- 0 --><g transform="translate(78.53 558.408) scale(0.24 -0.24)"><use href="#DejaVuSans-30"/></g></g></g><g id="ytick_9"><g id="line2d_34"><g><use href="#m97e499056c" x="100.8" y="467.032" style="fill-opacity: 0; stroke: #000000; stroke-opacity: 0; stroke-width: 0.8"/></g></g><g id="text_20" transform="translate(1.4174 0.7884) scale(0.98086 0.99825)"><!-- 500 --><g transform="translate(47.99 476.15) scale(0.24 -0.24)"><use href="#DejaVuSans-35"/><use href="#DejaVuSans-30" transform="translate(63.623 0)"/><use href="#DejaVuSans-30" transform="translate(127.246 0)"/></g></g></g><g id="text_21" transform="translate(-0.4768 -1.7935) scale(1.00077 0.99863)"><!-- $B_z\ \mathtt{[T]}$ --><g transform="translate(18.887 587.93) rotate(-90) scale(0.24 -0.24)"><use href="#DejaVuSans-Oblique-42" transform="translate(0 0.015625)"/><use href="#DejaVuSans-Oblique-7a" transform="translate(68.604 -16.391) scale(0.7)"/><use href="#DejaVuSansMono-5b" transform="translate(140.551 0.015625)"/><use href="#DejaVuSansMono-54" transform="translate(200.757 0.015625)"/><use href="#DejaVuSansMono-5d" transform="translate(260.962 0.015625)"/></g></g></g><g id="line2d_35"><path d="M 100.8 598.5 L 100.912 599.829 L 101.025 601.101 L 101.138 602.314 L 101.25 603.46 L 101.295 603.9 L 101.362 604.532 L 101.475 605.518 L 101.588 606.459 L 101.7 607.398 L 101.79 608.175 L 101.812 608.388 L 101.925 609.683 L 102.037 610.854 L 102.127 611.235 L 102.15 611.213 L 102.263 610.572 L 102.375 609.394 L 102.487 608.161 L 102.51 607.95 L 102.6 607.13 L 102.713 606.076 L 102.825 605.025 L 102.938 604.045 L 103.05 603.115 L 103.162 602.134 L 103.275 601 L 103.32 600.48 L 103.388 599.553 L 103.5 597.652 L 103.612 595.605 L 103.68 594.45 L 103.725 593.75 L 103.838 592.126 L 103.95 590.347 L 103.995 589.5 L 104.062 587.957 L 104.175 584.78 L 104.287 581.335 L 104.355 579.375 L 104.4 578.147 L 104.513 575.193 L 104.625 572.341 L 104.737 569.512 L 104.85 566.629 L 104.963 563.614 L 105.075 560.388 L 105.188 556.875 L 105.3 552.79 L 105.412 548.191 L 105.525 543.511 L 105.615 540 L 105.638 539.166 L 105.75 534.924 L 105.862 530.622 L 105.975 526.335 L 106.088 522.143 L 106.2 518.12 L 106.312 514.347 L 106.425 510.898 L 106.537 507.852 L 106.605 506.25 L 106.65 505.261 L 106.763 502.932 L 106.875 500.794 L 106.987 498.824 L 107.1 497 L 107.213 495.301 L 107.325 493.704 L 107.438 492.188 L 107.55 490.72 L 107.662 489.295 L 107.775 487.934 L 107.888 486.655 L 108 485.479 L 108.112 484.424 L 108.225 483.509 L 108.27 483.188 L 108.338 482.72 L 108.45 481.934 L 108.562 481.162 L 108.675 480.432 L 108.787 479.773 L 108.9 479.212 L 109.013 478.777 L 109.125 478.495 L 109.237 478.395 L 109.35 478.519 L 109.463 478.863 L 109.575 479.386 L 109.688 480.047 L 109.8 480.803 L 109.912 481.613 L 110.025 482.435 L 110.138 483.228 L 110.25 483.951 L 110.362 484.562 L 110.475 485.018 L 110.588 485.279 L 110.655 485.325 L 110.7 485.315 L 110.812 485.208 L 110.925 485.004 L 111.037 484.724 L 111.15 484.391 L 111.263 484.03 L 111.375 483.661 L 111.487 483.308 L 111.6 482.994 L 111.713 482.742 L 111.825 482.574 L 111.938 482.512 L 112.05 482.979 L 112.162 484.23 L 112.275 486.04 L 112.388 488.188 L 112.5 490.449 L 112.612 492.6 L 112.725 494.417 L 112.77 495 L 112.838 495.735 L 112.95 496.747 L 113.062 497.654 L 113.175 498.641 L 113.287 499.893 L 113.355 500.85 L 113.4 501.69 L 113.513 504.885 L 113.625 509.342 L 113.737 514.686 L 113.85 520.539 L 113.963 526.524 L 114.075 532.264 L 114.188 537.383 L 114.255 540 L 114.3 541.626 L 114.412 545.843 L 114.525 550.214 L 114.638 554.665 L 114.75 559.121 L 114.862 563.507 L 114.975 567.75 L 115.088 571.773 L 115.2 575.502 L 115.312 578.863 L 115.425 581.78 L 115.537 584.179 L 115.65 585.985 L 115.763 587.124 L 115.875 587.52 L 115.987 586.545 L 116.1 583.841 L 116.213 579.742 L 116.325 574.582 L 116.438 568.694 L 116.55 562.41 L 116.662 556.066 L 116.775 549.994 L 116.888 544.528 L 117 540 L 117.112 536.097 L 117.225 532.287 L 117.338 528.58 L 117.45 524.984 L 117.562 521.509 L 117.675 518.162 L 117.787 514.954 L 117.9 511.894 L 118.013 508.989 L 118.125 506.25 L 118.237 503.676 L 118.35 501.247 L 118.463 498.944 L 118.575 496.745 L 118.688 494.629 L 118.8 492.577 L 118.912 490.568 L 118.98 489.375 L 119.025 488.536 L 119.138 486.186 L 119.25 483.819 L 119.362 481.866 L 119.475 480.756 L 119.52 480.645 L 119.588 480.754 L 119.7 481.336 L 119.812 482.257 L 119.925 483.326 L 120.037 484.355 L 120.105 484.875 L 120.15 485.179 L 120.263 485.897 L 120.375 486.57 L 120.487 487.216 L 120.6 487.855 L 120.713 488.506 L 120.825 489.187 L 120.938 489.918 L 121.05 490.718 L 121.162 491.605 L 121.23 492.188 L 121.275 492.599 L 121.388 493.713 L 121.5 494.957 L 121.612 496.339 L 121.725 497.869 L 121.838 499.556 L 121.95 501.409 L 122.062 503.438 L 122.175 505.837 L 122.287 508.747 L 122.4 512.086 L 122.513 515.775 L 122.625 519.735 L 122.737 523.885 L 122.85 528.148 L 122.963 532.443 L 123.075 536.69 L 123.165 540 L 123.188 540.825 L 123.3 545.238 L 123.412 549.995 L 123.525 554.912 L 123.638 559.803 L 123.75 564.483 L 123.862 568.768 L 123.975 572.472 L 124.02 573.75 L 124.088 575.533 L 124.2 578.349 L 124.312 580.984 L 124.425 583.452 L 124.537 585.768 L 124.65 587.945 L 124.763 589.999 L 124.875 591.943 L 124.987 593.793 L 125.1 595.562 L 125.145 596.25 L 125.213 597.299 L 125.325 599.123 L 125.438 600.991 L 125.55 602.838 L 125.662 604.602 L 125.775 606.221 L 125.888 607.63 L 126 608.769 L 126.112 609.574 L 126.225 609.982 L 126.27 610.02 L 126.338 609.952 L 126.45 609.561 L 126.562 608.883 L 126.675 607.981 L 126.787 606.921 L 126.9 605.769 L 127.013 604.59 L 127.125 603.45 L 127.237 602.221 L 127.35 600.794 L 127.463 599.261 L 127.575 597.716 L 127.688 596.25 L 127.8 594.839 L 127.912 593.404 L 128.025 591.955 L 128.137 590.503 L 128.25 589.057 L 128.363 587.629 L 128.475 586.227 L 128.588 584.864 L 128.7 583.549 L 128.812 582.293 L 128.925 581.106 L 129.037 579.997 L 129.105 579.375 L 129.15 578.986 L 129.262 578.126 L 129.375 577.376 L 129.488 576.678 L 129.6 575.97 L 129.713 575.192 L 129.825 574.285 L 129.938 573.188 L 130.05 571.789 L 130.162 570.052 L 130.275 568.024 L 130.387 565.754 L 130.5 563.29 L 130.613 560.681 L 130.725 557.974 L 130.77 556.875 L 130.838 555.137 L 130.95 551.909 L 131.062 548.364 L 131.175 544.614 L 131.287 540.77 L 131.31 540 L 131.4 536.831 L 131.512 532.652 L 131.625 528.296 L 131.738 523.83 L 131.85 519.323 L 131.963 514.846 L 132.075 510.465 L 132.188 506.25 L 132.3 501.925 L 132.412 497.419 L 132.525 493.106 L 132.637 489.362 L 132.75 486.562 L 132.863 484.535 L 132.975 482.812 L 133.088 481.323 L 133.2 479.998 L 133.312 478.768 L 133.425 477.562 L 133.537 476.346 L 133.65 475.142 L 133.762 473.968 L 133.875 472.842 L 133.988 471.782 L 134.1 470.806 L 134.213 469.933 L 134.325 469.179 L 134.438 468.562 L 134.55 468.022 L 134.662 467.489 L 134.775 466.975 L 134.887 466.492 L 135 466.052 L 135.113 465.667 L 135.225 465.346 L 135.338 465.103 L 135.45 464.949 L 135.562 464.895 L 135.675 465.056 L 135.787 465.505 L 135.9 466.193 L 136.012 467.068 L 136.125 468.081 L 136.238 469.181 L 136.35 470.318 L 136.463 471.441 L 136.575 472.5 L 136.688 473.492 L 136.8 474.465 L 136.912 475.444 L 137.025 476.455 L 137.137 477.523 L 137.25 478.673 L 137.363 479.932 L 137.475 481.325 L 137.588 482.878 L 137.7 484.615 L 137.812 486.562 L 137.925 489.134 L 138.037 492.589 L 138.15 496.728 L 138.262 501.349 L 138.375 506.25 L 138.488 512.061 L 138.6 519.065 L 138.713 526.538 L 138.825 533.758 L 138.938 540 L 139.05 545.447 L 139.162 550.725 L 139.275 555.773 L 139.387 560.533 L 139.5 564.943 L 139.613 568.946 L 139.725 572.48 L 139.77 573.75 L 139.838 575.608 L 139.95 578.754 L 140.062 581.886 L 140.175 584.918 L 140.287 587.764 L 140.4 590.338 L 140.512 592.554 L 140.625 594.326 L 140.738 595.567 L 140.85 596.192 L 140.895 596.25 L 140.963 596.006 L 141.075 594.623 L 141.188 592.231 L 141.3 589.076 L 141.412 585.404 L 141.525 581.462 L 141.637 577.495 L 141.75 573.75 L 141.863 569.95 L 141.975 565.734 L 142.088 561.221 L 142.2 556.529 L 142.312 551.778 L 142.425 547.087 L 142.537 542.573 L 142.605 540 L 142.65 538.33 L 142.762 534.191 L 142.875 530.102 L 142.988 526.064 L 143.1 522.075 L 143.213 518.135 L 143.325 514.243 L 143.438 510.399 L 143.55 506.603 L 143.662 502.853 L 143.73 500.625 L 143.775 499.112 L 143.887 495.115 L 144 491.001 L 144.113 487.008 L 144.225 483.373 L 144.338 480.333 L 144.45 478.125 L 144.562 476.433 L 144.675 474.82 L 144.787 473.336 L 144.9 472.036 L 145.012 470.972 L 145.125 470.196 L 145.238 469.762 L 145.305 469.688 L 145.35 469.727 L 145.463 470.147 L 145.575 470.975 L 145.688 472.149 L 145.8 473.602 L 145.912 475.272 L 146.025 477.094 L 146.137 479.004 L 146.25 480.938 L 146.363 483.148 L 146.475 485.869 L 146.588 489.009 L 146.7 492.477 L 146.812 496.18 L 146.925 500.027 L 147.037 503.925 L 147.105 506.25 L 147.15 507.827 L 147.262 512.052 L 147.375 516.588 L 147.488 521.322 L 147.6 526.144 L 147.713 530.939 L 147.825 535.595 L 147.938 540 L 148.05 544.243 L 148.162 548.474 L 148.275 552.673 L 148.387 556.818 L 148.5 560.888 L 148.613 564.862 L 148.725 568.719 L 148.838 572.437 L 148.95 575.996 L 149.062 579.375 L 149.175 582.69 L 149.287 586.035 L 149.4 589.358 L 149.512 592.605 L 149.625 595.723 L 149.738 598.658 L 149.85 601.356 L 149.963 603.765 L 150.075 605.831 L 150.188 607.5 L 150.3 608.967 L 150.412 610.396 L 150.525 611.684 L 150.637 612.729 L 150.75 613.431 L 150.863 613.688 L 150.975 613.464 L 151.088 612.832 L 151.2 611.851 L 151.312 610.578 L 151.425 609.071 L 151.537 607.389 L 151.65 605.59 L 151.762 603.733 L 151.875 601.875 L 151.988 599.82 L 152.1 597.374 L 152.213 594.599 L 152.325 591.558 L 152.438 588.313 L 152.55 584.928 L 152.662 581.465 L 152.73 579.375 L 152.775 577.948 L 152.887 574.105 L 153 569.94 L 153.113 565.541 L 153.225 560.998 L 153.338 556.4 L 153.45 551.836 L 153.562 547.396 L 153.675 543.169 L 153.765 540 L 153.787 539.238 L 153.9 535.475 L 154.012 531.791 L 154.125 528.182 L 154.238 524.641 L 154.35 521.163 L 154.463 517.744 L 154.575 514.378 L 154.688 511.059 L 154.8 507.783 L 154.912 504.545 L 155.025 501.338 L 155.137 498.158 L 155.25 495 L 155.363 491.728 L 155.475 488.299 L 155.588 484.849 L 155.7 481.511 L 155.812 478.419 L 155.925 475.709 L 156.037 473.514 L 156.105 472.5 L 156.15 471.909 L 156.262 470.453 L 156.375 469.071 L 156.488 467.819 L 156.6 466.749 L 156.713 465.918 L 156.825 465.379 L 156.938 465.188 L 157.05 465.374 L 157.162 465.895 L 157.275 466.691 L 157.387 467.701 L 157.5 468.866 L 157.613 470.126 L 157.725 471.422 L 157.77 471.938 L 157.838 472.759 L 157.95 474.355 L 158.062 476.207 L 158.175 478.287 L 158.287 480.564 L 158.4 483.009 L 158.512 485.592 L 158.625 488.282 L 158.738 491.05 L 158.85 493.867 L 158.895 495 L 158.963 496.755 L 159.075 499.904 L 159.188 503.299 L 159.3 506.901 L 159.412 510.67 L 159.525 514.569 L 159.637 518.557 L 159.75 522.598 L 159.863 526.65 L 159.975 530.677 L 160.088 534.638 L 160.2 538.495 L 160.245 540 L 160.312 542.258 L 160.425 546.092 L 160.537 549.986 L 160.65 553.907 L 160.762 557.823 L 160.875 561.701 L 160.988 565.508 L 161.1 569.211 L 161.213 572.779 L 161.325 576.177 L 161.438 579.375 L 161.55 582.6 L 161.662 586.032 L 161.775 589.563 L 161.887 593.083 L 162 596.485 L 162.113 599.661 L 162.225 602.502 L 162.338 604.9 L 162.45 606.747 L 162.562 607.935 L 162.675 608.355 L 162.787 607.675 L 162.9 605.795 L 163.012 602.958 L 163.125 599.405 L 163.238 595.379 L 163.35 591.121 L 163.463 586.873 L 163.575 582.877 L 163.688 579.375 L 163.8 576.239 L 163.912 573.166 L 164.025 570.141 L 164.137 567.144 L 164.25 564.158 L 164.363 561.167 L 164.475 558.151 L 164.588 555.095 L 164.7 551.979 L 164.812 548.786 L 164.925 545.499 L 165.037 542.1 L 165.105 540 L 165.15 538.555 L 165.262 534.711 L 165.375 530.593 L 165.488 526.269 L 165.6 521.807 L 165.713 517.277 L 165.825 512.746 L 165.938 508.283 L 166.05 503.955 L 166.162 499.833 L 166.275 495.983 L 166.387 492.474 L 166.5 489.375 L 166.613 486.419 L 166.725 483.36 L 166.838 480.294 L 166.95 477.32 L 167.062 474.536 L 167.175 472.038 L 167.287 469.926 L 167.4 468.296 L 167.512 467.247 L 167.625 466.875 L 167.738 467.125 L 167.85 467.838 L 167.963 468.961 L 168.075 470.44 L 168.188 472.22 L 168.3 474.247 L 168.412 476.468 L 168.525 478.828 L 168.637 481.273 L 168.75 483.75 L 168.863 486.671 L 168.975 490.393 L 169.088 494.78 L 169.2 499.696 L 169.312 505.002 L 169.425 510.563 L 169.537 516.242 L 169.65 521.901 L 169.762 527.404 L 169.875 532.615 L 169.988 537.395 L 170.055 540 L 170.1 541.652 L 170.213 545.7 L 170.325 549.635 L 170.438 553.466 L 170.55 557.202 L 170.662 560.849 L 170.775 564.417 L 170.887 567.913 L 171 571.346 L 171.113 574.724 L 171.225 578.054 L 171.27 579.375 L 171.338 581.461 L 171.45 585.297 L 171.562 589.333 L 171.675 593.282 L 171.787 596.855 L 171.9 599.764 L 172.012 601.721 L 172.125 602.438 L 172.238 601.931 L 172.35 600.535 L 172.463 598.436 L 172.575 595.82 L 172.688 592.873 L 172.8 589.782 L 172.912 586.732 L 172.98 585 L 173.025 583.86 L 173.137 580.831 L 173.25 577.57 L 173.363 574.105 L 173.475 570.463 L 173.588 566.675 L 173.7 562.766 L 173.812 558.767 L 173.925 554.705 L 174.037 550.609 L 174.15 546.506 L 174.262 542.426 L 174.33 540 L 174.375 538.367 L 174.488 534.103 L 174.6 529.636 L 174.713 525.036 L 174.825 520.374 L 174.938 515.718 L 175.05 511.14 L 175.162 506.71 L 175.275 502.496 L 175.387 498.569 L 175.5 495 L 175.613 491.481 L 175.725 487.768 L 175.838 484.023 L 175.95 480.409 L 176.062 477.088 L 176.175 474.222 L 176.287 471.973 L 176.4 470.505 L 176.512 469.98 L 176.625 470.388 L 176.738 471.536 L 176.85 473.308 L 176.963 475.589 L 177.075 478.264 L 177.188 481.217 L 177.3 484.335 L 177.412 487.5 L 177.48 489.375 L 177.525 490.683 L 177.637 494.527 L 177.75 499.069 L 177.863 504.15 L 177.975 509.615 L 178.088 515.308 L 178.2 521.073 L 178.312 526.752 L 178.425 532.19 L 178.537 537.231 L 178.605 540 L 178.65 541.763 L 178.762 546.09 L 178.875 550.309 L 178.988 554.424 L 179.1 558.441 L 179.213 562.366 L 179.325 566.203 L 179.438 569.958 L 179.55 573.636 L 179.662 577.243 L 179.73 579.375 L 179.775 580.828 L 179.887 584.744 L 180 588.929 L 180.113 593.209 L 180.225 597.411 L 180.338 601.364 L 180.45 604.895 L 180.562 607.83 L 180.675 609.998 L 180.787 611.225 L 180.855 611.438 L 180.9 611.359 L 181.012 610.518 L 181.125 608.851 L 181.238 606.48 L 181.35 603.525 L 181.463 600.107 L 181.575 596.347 L 181.688 592.367 L 181.8 588.286 L 181.912 584.226 L 181.98 581.85 L 182.025 580.228 L 182.137 575.684 L 182.25 570.557 L 182.363 564.988 L 182.475 559.121 L 182.588 553.098 L 182.7 547.061 L 182.812 541.154 L 182.835 540 L 182.925 535.211 L 183.037 528.785 L 183.15 522.077 L 183.262 515.307 L 183.375 508.695 L 183.488 502.46 L 183.6 496.824 L 183.713 492.006 L 183.78 489.6 L 183.825 488.174 L 183.938 484.948 L 184.05 482.11 L 184.162 479.543 L 184.275 477.129 L 184.387 474.75 L 184.5 472.341 L 184.613 469.976 L 184.725 467.747 L 184.838 465.746 L 184.95 464.062 L 185.062 462.536 L 185.175 460.995 L 185.287 459.514 L 185.4 458.17 L 185.512 457.038 L 185.625 456.192 L 185.738 455.709 L 185.805 455.625 L 185.85 455.675 L 185.963 456.206 L 186.075 457.251 L 186.188 458.725 L 186.3 460.544 L 186.412 462.624 L 186.525 464.879 L 186.637 467.226 L 186.75 469.579 L 186.863 471.855 L 186.975 473.969 L 187.02 474.75 L 187.088 475.88 L 187.2 477.733 L 187.312 479.566 L 187.425 481.401 L 187.537 483.26 L 187.65 485.164 L 187.762 487.136 L 187.875 489.198 L 187.988 491.371 L 188.1 493.678 L 188.213 496.139 L 188.28 497.7 L 188.325 498.783 L 188.438 501.669 L 188.55 504.793 L 188.662 508.139 L 188.775 511.69 L 188.887 515.431 L 189 519.344 L 189.113 523.412 L 189.225 527.62 L 189.338 531.95 L 189.45 536.386 L 189.54 540 L 189.562 540.927 L 189.675 545.986 L 189.787 551.499 L 189.9 557.119 L 190.012 562.5 L 190.125 568.23 L 190.238 574.065 L 190.35 578.411 L 190.395 579.375 L 190.463 580.298 L 190.575 581.465 L 190.688 582.324 L 190.8 583.06 L 190.912 583.855 L 190.98 584.438 L 191.025 584.882 L 191.137 586.109 L 191.25 587.406 L 191.363 588.649 L 191.475 589.714 L 191.52 590.062 L 191.588 590.553 L 191.7 591.383 L 191.812 592.182 L 191.925 592.897 L 192.037 593.474 L 192.15 593.86 L 192.262 594 L 192.375 593.958 L 192.488 593.846 L 192.6 593.685 L 192.713 593.496 L 192.825 593.301 L 192.938 593.121 L 193.05 592.977 L 193.162 592.891 L 193.23 592.875 L 193.275 592.885 L 193.387 592.988 L 193.5 593.187 L 193.613 593.46 L 193.725 593.785 L 193.838 594.14 L 193.95 594.504 L 194.062 594.855 L 194.175 595.276 L 194.287 595.821 L 194.4 596.427 L 194.512 597.032 L 194.625 597.573 L 194.738 597.986 L 194.85 598.208 L 194.895 598.23 L 194.963 598.222 L 195.075 598.17 L 195.188 598.067 L 195.3 597.913 L 195.412 597.702 L 195.525 597.434 L 195.637 597.105 L 195.75 595.206 L 195.863 591.224 L 195.975 586.657 L 196.02 585 L 196.088 582.528 L 196.2 577.944 L 196.312 573.134 L 196.425 568.506 L 196.537 564.469 L 196.605 562.5 L 196.65 561.36 L 196.762 558.777 L 196.875 556.514 L 196.988 554.497 L 197.1 552.652 L 197.213 550.906 L 197.325 549.182 L 197.438 547.409 L 197.55 545.51 L 197.662 543.412 L 197.775 541.041 L 197.82 540 L 197.887 538.268 L 198 534.895 L 198.113 531.06 L 198.225 526.93 L 198.338 522.675 L 198.45 518.463 L 198.562 514.461 L 198.675 510.838 L 198.787 507.763 L 198.855 506.25 L 198.9 505.348 L 199.012 503.206 L 199.125 501.218 L 199.238 499.377 L 199.35 497.679 L 199.463 496.117 L 199.575 494.685 L 199.688 493.377 L 199.8 492.188 L 199.912 491.098 L 200.025 490.088 L 200.137 489.15 L 200.25 488.272 L 200.363 487.445 L 200.475 486.661 L 200.588 485.908 L 200.7 485.179 L 200.812 484.463 L 200.925 483.75 L 201.037 482.998 L 201.15 482.193 L 201.262 481.364 L 201.375 480.544 L 201.488 479.764 L 201.6 479.055 L 201.713 478.449 L 201.825 477.978 L 201.938 477.671 L 202.05 477.562 L 202.162 477.62 L 202.275 477.781 L 202.387 478.027 L 202.5 478.343 L 202.613 478.71 L 202.725 479.112 L 202.838 479.531 L 202.95 479.95 L 203.062 480.352 L 203.175 480.719 L 203.287 481.035 L 203.4 481.282 L 203.512 481.443 L 203.625 481.5 L 203.738 481.368 L 203.85 480.999 L 203.963 480.438 L 204.075 479.728 L 204.188 478.911 L 204.3 478.032 L 204.412 477.133 L 204.525 476.257 L 204.637 475.448 L 204.75 474.75 L 204.863 474.062 L 204.975 473.296 L 205.088 472.509 L 205.2 471.758 L 205.312 471.102 L 205.425 470.597 L 205.537 470.302 L 205.605 470.25 L 205.65 470.284 L 205.762 470.65 L 205.875 471.369 L 205.988 472.378 L 206.1 473.619 L 206.213 475.031 L 206.325 476.553 L 206.438 478.125 L 206.55 480.047 L 206.662 482.566 L 206.775 485.546 L 206.887 488.848 L 207 492.334 L 207.113 495.866 L 207.225 499.306 L 207.27 500.625 L 207.338 502.565 L 207.45 505.779 L 207.562 508.989 L 207.675 512.221 L 207.787 515.497 L 207.9 518.843 L 208.012 522.282 L 208.125 525.84 L 208.238 529.539 L 208.35 533.406 L 208.463 537.464 L 208.53 540 L 208.575 541.796 L 208.688 546.849 L 208.8 552.394 L 208.912 558.046 L 209.025 563.418 L 209.137 568.125 L 209.25 572.288 L 209.363 576.261 L 209.475 580.007 L 209.588 583.488 L 209.7 586.665 L 209.812 589.5 L 209.925 592.249 L 210.037 594.991 L 210.15 597.429 L 210.262 599.26 L 210.375 600.188 L 210.488 600.516 L 210.6 600.766 L 210.713 600.955 L 210.825 601.102 L 210.938 601.227 L 211.05 601.348 L 211.162 601.484 L 211.275 601.653 L 211.387 601.875 L 211.5 602.146 L 211.613 602.449 L 211.725 602.784 L 211.838 603.152 L 211.95 603.551 L 212.062 603.982 L 212.175 604.445 L 212.287 604.939 L 212.355 605.25 L 212.4 605.486 L 212.512 606.263 L 212.625 607.235 L 212.738 608.308 L 212.85 609.393 L 212.963 610.396 L 213.075 611.226 L 213.188 611.791 L 213.3 612 L 213.412 611.625 L 213.525 610.593 L 213.637 609.049 L 213.75 607.133 L 213.863 604.989 L 213.975 602.759 L 214.02 601.875 L 214.088 600.416 L 214.2 597.416 L 214.312 593.856 L 214.425 589.911 L 214.537 585.755 L 214.65 581.56 L 214.762 577.5 L 214.875 573.75 L 214.988 570.234 L 215.1 566.76 L 215.213 563.323 L 215.325 559.92 L 215.438 556.547 L 215.55 553.201 L 215.662 549.877 L 215.775 546.571 L 215.887 543.28 L 216 540 L 216.113 536.712 L 216.225 533.408 L 216.338 530.097 L 216.45 526.791 L 216.562 523.499 L 216.675 520.233 L 216.787 517.003 L 216.9 513.819 L 217.012 510.691 L 217.125 507.631 L 217.238 504.649 L 217.35 501.755 L 217.395 500.625 L 217.463 498.915 L 217.575 495.975 L 217.688 492.978 L 217.8 489.988 L 217.912 487.071 L 218.025 484.29 L 218.137 481.71 L 218.25 479.396 L 218.363 477.412 L 218.475 475.823 L 218.52 475.312 L 218.588 474.595 L 218.7 473.444 L 218.812 472.512 L 218.925 471.989 L 218.97 471.938 L 219.037 471.988 L 219.15 472.271 L 219.262 472.744 L 219.375 473.34 L 219.488 473.995 L 219.6 474.642 L 219.713 475.215 L 219.825 475.648 L 219.938 475.875 L 220.05 475.974 L 220.162 476.064 L 220.275 476.147 L 220.387 476.22 L 220.5 476.284 L 220.613 476.338 L 220.725 476.38 L 220.838 476.412 L 220.95 476.431 L 221.062 476.438 L 221.175 476.39 L 221.287 476.262 L 221.4 476.073 L 221.512 475.844 L 221.625 475.594 L 221.738 475.344 L 221.85 475.115 L 221.963 474.925 L 222.075 474.797 L 222.188 474.75 L 222.3 475.154 L 222.412 476.236 L 222.525 477.799 L 222.637 479.648 L 222.75 481.588 L 222.863 483.421 L 222.975 484.953 L 223.02 485.438 L 223.088 486.056 L 223.2 486.934 L 223.312 487.685 L 223.425 488.386 L 223.537 489.111 L 223.65 489.935 L 223.762 490.936 L 223.875 492.188 L 223.988 494.04 L 224.1 496.675 L 224.213 499.913 L 224.325 503.574 L 224.438 507.481 L 224.55 511.453 L 224.662 515.313 L 224.73 517.5 L 224.775 518.929 L 224.887 522.606 L 225 526.389 L 225.113 530.221 L 225.225 534.044 L 225.338 537.801 L 225.405 540 L 225.45 541.476 L 225.562 545.294 L 225.675 549.039 L 225.787 552.383 L 225.855 554.062 L 225.9 555.06 L 226.012 557.397 L 226.125 559.53 L 226.238 561.487 L 226.35 563.297 L 226.463 564.988 L 226.575 566.588 L 226.688 568.125 L 226.8 569.567 L 226.912 570.883 L 227.025 572.104 L 227.137 573.259 L 227.25 574.379 L 227.363 575.493 L 227.475 576.633 L 227.588 577.827 L 227.7 579.106 L 227.812 580.5 L 227.925 582.153 L 228.037 584.093 L 228.15 586.178 L 228.262 588.264 L 228.375 590.208 L 228.488 591.866 L 228.6 593.097 L 228.645 593.438 L 228.713 593.871 L 228.825 594.563 L 228.938 595.192 L 229.05 595.731 L 229.162 596.15 L 229.275 596.423 L 229.387 596.52 L 229.5 596.281 L 229.613 595.622 L 229.725 594.635 L 229.838 593.409 L 229.95 592.035 L 230.062 590.602 L 230.175 589.201 L 230.287 587.922 L 230.355 587.25 L 230.4 586.838 L 230.512 585.858 L 230.625 584.928 L 230.738 584.026 L 230.85 583.13 L 230.963 582.215 L 231.075 581.259 L 231.188 580.24 L 231.3 579.133 L 231.412 577.917 L 231.48 577.125 L 231.525 576.556 L 231.637 574.938 L 231.75 573.095 L 231.863 571.089 L 231.975 568.982 L 232.02 568.125 L 232.088 566.847 L 232.2 564.721 L 232.312 562.523 L 232.425 560.166 L 232.537 557.56 L 232.65 554.618 L 232.762 551.25 L 232.875 546.515 L 232.988 541.002 L 233.01 540 L 233.1 536.096 L 233.213 531.16 L 233.325 526.225 L 233.438 521.364 L 233.55 516.647 L 233.662 512.143 L 233.775 507.925 L 233.887 504.062 L 234 500.625 L 234.113 497.485 L 234.225 494.528 L 234.338 491.847 L 234.45 489.536 L 234.562 487.688 L 234.675 486.163 L 234.787 484.757 L 234.9 483.462 L 235.012 482.274 L 235.125 481.184 L 235.238 480.187 L 235.35 479.277 L 235.463 478.447 L 235.575 477.69 L 235.688 477 L 235.8 476.336 L 235.912 475.668 L 236.025 475.011 L 236.137 474.375 L 236.25 473.776 L 236.363 473.225 L 236.475 472.736 L 236.588 472.321 L 236.7 471.995 L 236.812 471.768 L 236.925 471.655 L 236.97 471.645 L 237.037 471.684 L 237.15 471.91 L 237.262 472.314 L 237.375 472.87 L 237.488 473.552 L 237.6 474.332 L 237.713 475.185 L 237.825 476.083 L 237.938 477 L 238.05 478.218 L 238.162 479.913 L 238.275 481.899 L 238.387 483.989 L 238.5 485.998 L 238.613 487.74 L 238.725 489.028 L 238.77 489.375 L 238.838 489.777 L 238.95 490.309 L 239.062 490.714 L 239.175 491.042 L 239.287 491.345 L 239.4 491.672 L 239.512 492.075 L 239.625 492.605 L 239.738 493.312 L 239.85 494.633 L 239.963 496.821 L 240.075 499.66 L 240.188 502.929 L 240.3 506.41 L 240.412 509.885 L 240.48 511.875 L 240.525 513.208 L 240.637 516.869 L 240.75 520.864 L 240.863 525.026 L 240.975 529.188 L 241.088 533.183 L 241.2 536.843 L 241.312 540 L 241.425 542.716 L 241.537 545.199 L 241.65 547.503 L 241.762 549.681 L 241.875 551.788 L 241.988 553.877 L 242.1 556.003 L 242.145 556.875 L 242.213 558.172 L 242.325 560.254 L 242.438 562.281 L 242.55 564.309 L 242.662 566.391 L 242.775 568.583 L 242.887 570.938 L 243 573.534 L 243.113 576.368 L 243.225 579.374 L 243.338 582.485 L 243.45 585.634 L 243.562 588.753 L 243.675 591.777 L 243.787 594.639 L 243.855 596.25 L 243.9 597.326 L 244.012 600.244 L 244.125 603.347 L 244.238 606.457 L 244.35 609.399 L 244.463 611.994 L 244.575 614.067 L 244.688 615.44 L 244.8 615.938 L 244.912 615.489 L 245.025 614.245 L 245.137 612.361 L 245.25 609.99 L 245.363 607.288 L 245.475 604.409 L 245.588 601.507 L 245.7 598.735 L 245.812 596.25 L 245.925 593.919 L 246.037 591.523 L 246.15 589.081 L 246.262 586.614 L 246.375 584.142 L 246.488 581.685 L 246.6 579.263 L 246.713 576.896 L 246.825 574.605 L 246.938 572.44 L 247.05 570.404 L 247.162 568.442 L 247.275 566.502 L 247.387 564.531 L 247.5 562.475 L 247.613 560.28 L 247.725 557.895 L 247.77 556.875 L 247.838 555.169 L 247.95 551.836 L 248.062 548.206 L 248.175 544.644 L 248.287 541.517 L 248.355 540 L 248.4 539.122 L 248.512 537.092 L 248.625 535.263 L 248.738 533.598 L 248.85 532.057 L 248.963 530.601 L 249.075 529.192 L 249.188 527.791 L 249.3 526.359 L 249.412 524.857 L 249.525 523.246 L 249.57 522.562 L 249.637 521.504 L 249.75 519.679 L 249.863 517.794 L 249.975 515.864 L 250.088 513.903 L 250.2 511.928 L 250.312 509.953 L 250.425 507.995 L 250.537 506.067 L 250.65 504.186 L 250.762 502.367 L 250.875 500.625 L 250.988 498.963 L 251.1 497.361 L 251.213 495.803 L 251.325 494.272 L 251.438 492.75 L 251.55 491.196 L 251.662 489.595 L 251.775 487.973 L 251.887 486.354 L 252 484.765 L 252.113 483.229 L 252.225 481.772 L 252.338 480.419 L 252.45 479.195 L 252.562 478.125 L 252.675 477.175 L 252.787 476.291 L 252.9 475.471 L 253.012 474.708 L 253.125 474.001 L 253.238 473.343 L 253.35 472.732 L 253.395 472.5 L 253.463 472.15 L 253.575 471.545 L 253.688 470.93 L 253.8 470.326 L 253.912 469.751 L 254.025 469.226 L 254.137 468.77 L 254.25 468.403 L 254.363 468.143 L 254.475 468.012 L 254.52 468 L 254.588 468.156 L 254.7 468.998 L 254.812 470.335 L 254.925 471.901 L 255.037 473.43 L 255.15 474.656 L 255.262 475.312 L 255.375 475.544 L 255.488 475.696 L 255.6 475.803 L 255.713 475.896 L 255.825 476.011 L 255.938 476.18 L 256.05 476.438 L 256.163 477.673 L 256.275 480.473 L 256.387 484.413 L 256.5 489.069 L 256.613 494.016 L 256.725 498.831 L 256.77 500.625 L 256.837 503.418 L 256.95 508.74 L 257.062 514.598 L 257.175 520.651 L 257.288 526.56 L 257.4 531.981 L 257.512 536.575 L 257.625 540 L 257.738 542.467 L 257.85 544.504 L 257.962 546.239 L 258.075 547.805 L 258.188 549.333 L 258.3 550.952 L 258.413 552.795 L 258.48 554.062 L 258.525 554.985 L 258.637 557.511 L 258.75 560.285 L 258.863 563.221 L 258.975 566.233 L 259.087 569.237 L 259.2 572.146 L 259.312 574.875 L 259.425 577.486 L 259.538 580.09 L 259.65 582.672 L 259.762 585.221 L 259.875 587.722 L 259.988 590.163 L 260.1 592.531 L 260.212 594.812 L 260.325 596.994 L 260.438 599.062 L 260.55 601.223 L 260.663 603.551 L 260.775 605.841 L 260.887 607.889 L 261 609.489 L 261.113 610.436 L 261.18 610.605 L 261.225 610.521 L 261.337 609.639 L 261.45 607.938 L 261.562 605.6 L 261.675 602.802 L 261.788 599.726 L 261.9 596.552 L 262.012 593.458 L 262.125 590.625 L 262.238 587.984 L 262.35 585.321 L 262.462 582.595 L 262.575 579.767 L 262.688 576.797 L 262.8 573.645 L 262.913 570.272 L 262.98 568.125 L 263.025 566.627 L 263.137 562.604 L 263.25 558.215 L 263.363 553.5 L 263.475 548.499 L 263.587 543.251 L 263.655 540 L 263.7 537.716 L 263.812 531.319 L 263.925 524.267 L 264.038 516.969 L 264.15 509.836 L 264.262 503.276 L 264.375 497.7 L 264.488 492.757 L 264.6 487.904 L 264.712 483.26 L 264.825 478.946 L 264.938 475.082 L 265.05 471.788 L 265.163 469.182 L 265.23 468 L 265.275 467.318 L 265.387 465.659 L 265.5 464.108 L 265.613 462.72 L 265.725 461.547 L 265.837 460.642 L 265.95 460.061 L 266.062 459.855 L 266.175 460.088 L 266.288 460.736 L 266.4 461.718 L 266.512 462.958 L 266.625 464.375 L 266.738 465.892 L 266.76 466.2 L 266.85 467.668 L 266.962 470.102 L 267.075 473.098 L 267.188 476.547 L 267.3 480.34 L 267.413 484.365 L 267.525 488.515 L 267.615 491.85 L 267.637 492.692 L 267.75 497.221 L 267.863 502.216 L 267.975 507.581 L 268.087 513.22 L 268.2 519.039 L 268.312 524.943 L 268.425 530.834 L 268.538 536.62 L 268.605 540 L 268.65 542.263 L 268.762 548.05 L 268.875 553.5 L 268.988 558.571 L 269.1 563.598 L 269.212 568.503 L 269.325 573.207 L 269.438 577.63 L 269.55 581.693 L 269.663 585.318 L 269.73 587.25 L 269.775 588.485 L 269.887 591.649 L 270 594.825 L 270.113 597.894 L 270.225 600.736 L 270.337 603.23 L 270.45 605.257 L 270.562 606.698 L 270.675 607.431 L 270.72 607.5 L 270.788 607.398 L 270.9 606.802 L 271.012 605.73 L 271.125 604.245 L 271.238 602.412 L 271.35 600.294 L 271.462 597.956 L 271.575 595.461 L 271.688 592.875 L 271.8 589.601 L 271.913 585.188 L 272.025 579.912 L 272.137 574.052 L 272.25 567.886 L 272.363 561.691 L 272.475 555.746 L 272.52 553.5 L 272.587 550.236 L 272.7 544.735 L 272.79 540 L 272.812 538.737 L 272.925 531.925 L 273.038 524.512 L 273.15 516.806 L 273.262 509.114 L 273.375 501.743 L 273.488 495 L 273.6 488.866 L 273.712 483.062 L 273.825 477.506 L 273.938 472.117 L 274.05 466.812 L 274.163 461.51 L 274.275 456.128 L 274.387 450.585 L 274.5 444.168 L 274.613 436.755 L 274.725 429.153 L 274.837 422.165 L 274.95 416.597 L 275.062 413.253 L 275.13 412.65 L 275.175 412.817 L 275.288 414.574 L 275.4 417.94 L 275.512 422.533 L 275.625 427.972 L 275.738 433.878 L 275.85 439.869 L 275.962 445.565 L 276.075 450.585 L 276.188 455.217 L 276.3 459.945 L 276.413 464.685 L 276.525 469.352 L 276.637 473.86 L 276.75 478.125 L 276.863 482.292 L 276.975 486.497 L 277.087 490.645 L 277.2 494.638 L 277.312 498.382 L 277.425 501.778 L 277.538 504.731 L 277.605 506.25 L 277.65 507.17 L 277.762 509.281 L 277.875 511.163 L 277.988 512.865 L 278.1 514.436 L 278.212 515.926 L 278.325 517.383 L 278.438 518.857 L 278.55 520.398 L 278.663 522.055 L 278.73 523.125 L 278.775 523.856 L 278.887 525.658 L 279 527.45 L 279.113 529.269 L 279.225 531.15 L 279.337 533.128 L 279.45 535.238 L 279.562 537.517 L 279.675 540 L 279.788 542.975 L 279.9 546.46 L 280.012 550.091 L 280.125 553.5 L 280.238 556.771 L 280.35 560.157 L 280.462 563.547 L 280.575 566.828 L 280.688 569.887 L 280.8 572.613 L 280.913 574.893 L 280.98 576 L 281.025 576.64 L 281.137 578.04 L 281.25 579.204 L 281.363 580.2 L 281.475 581.092 L 281.587 581.946 L 281.7 582.828 L 281.812 583.803 L 281.925 584.938 L 282.038 586.299 L 282.105 587.25 L 282.15 588.023 L 282.262 590.715 L 282.375 594.182 L 282.488 598.043 L 282.6 601.913 L 282.712 605.41 L 282.825 608.15 L 282.938 609.75 L 283.05 610.625 L 283.163 611.445 L 283.275 612.206 L 283.387 612.906 L 283.5 613.541 L 283.613 614.108 L 283.725 614.604 L 283.837 615.027 L 283.95 615.374 L 284.062 615.64 L 284.175 615.824 L 284.288 615.921 L 284.355 615.938 L 284.4 615.85 L 284.512 614.926 L 284.625 613.155 L 284.738 610.733 L 284.85 607.86 L 284.962 604.731 L 285.075 601.545 L 285.188 598.5 L 285.3 595.385 L 285.413 591.912 L 285.525 588.161 L 285.637 584.212 L 285.75 580.144 L 285.863 576.037 L 285.975 571.972 L 286.02 570.375 L 286.087 567.966 L 286.2 563.841 L 286.312 559.628 L 286.425 555.382 L 286.538 551.162 L 286.65 547.025 L 286.762 543.028 L 286.785 542.25 L 286.875 539.197 L 286.988 535.482 L 287.1 531.855 L 287.212 528.288 L 287.325 524.753 L 287.438 521.223 L 287.55 517.671 L 287.663 514.071 L 287.73 511.875 L 287.775 510.367 L 287.887 506.372 L 288 502.228 L 288.113 498.147 L 288.225 494.345 L 288.337 491.035 L 288.405 489.375 L 288.45 488.382 L 288.562 486.078 L 288.675 484.057 L 288.788 482.354 L 288.855 481.5 L 288.9 480.964 L 289.012 479.614 L 289.125 478.445 L 289.238 477.701 L 289.305 477.562 L 289.35 477.613 L 289.462 478.129 L 289.575 479.062 L 289.688 480.243 L 289.8 481.5 L 289.913 482.995 L 290.025 484.906 L 290.137 487.082 L 290.25 489.375 L 290.363 491.988 L 290.475 495.016 L 290.587 498.143 L 290.7 501.055 L 290.812 503.438 L 290.925 505.369 L 291.038 507.148 L 291.15 508.787 L 291.262 510.301 L 291.375 511.702 L 291.488 513.005 L 291.6 514.222 L 291.645 514.688 L 291.712 515.357 L 291.825 516.389 L 291.938 517.331 L 292.05 518.202 L 292.163 519.021 L 292.275 519.807 L 292.387 520.577 L 292.5 521.352 L 292.613 522.149 L 292.725 522.988 L 292.837 523.886 L 292.95 524.863 L 293.062 525.938 L 293.175 527.154 L 293.288 528.521 L 293.4 530.007 L 293.512 531.577 L 293.625 533.198 L 293.738 534.837 L 293.85 536.46 L 293.962 538.034 L 294.075 539.525 L 294.188 540.9 L 294.3 542.19 L 294.413 543.448 L 294.525 544.671 L 294.637 545.855 L 294.75 546.999 L 294.863 548.1 L 294.975 549.154 L 295.02 549.562 L 295.087 550.159 L 295.2 551.111 L 295.312 552.022 L 295.425 552.902 L 295.538 553.76 L 295.65 554.607 L 295.762 555.455 L 295.875 556.312 L 295.988 557.153 L 296.1 557.951 L 296.212 558.723 L 296.325 559.485 L 296.438 560.254 L 296.55 561.044 L 296.663 561.873 L 296.775 562.757 L 296.887 563.71 L 297 564.75 L 297.113 565.951 L 297.225 567.339 L 297.337 568.86 L 297.45 570.459 L 297.562 572.079 L 297.675 573.667 L 297.788 575.166 L 297.855 576 L 297.9 576.56 L 298.012 578.111 L 298.125 579.748 L 298.238 581.307 L 298.35 582.624 L 298.462 583.535 L 298.575 583.875 L 298.688 583.555 L 298.8 582.686 L 298.913 581.404 L 299.025 579.847 L 299.137 578.151 L 299.25 576.452 L 299.363 574.889 L 299.475 573.598 L 299.52 573.188 L 299.587 572.636 L 299.7 571.758 L 299.812 570.93 L 299.925 570.146 L 300.038 569.401 L 300.15 568.692 L 300.262 568.013 L 300.375 567.361 L 300.488 566.73 L 300.6 566.117 " clip-path="url(#p1755e1790f)" style="fill: none; stroke: #000000; stroke-width: 0.99999"/></g><g id="line2d_36"><path d="M 300.6 566.117 L 300.645 565.875 L 300.712 565.522 L 300.825 564.964 L 300.938 564.438 L 301.05 563.933 L 301.163 563.44 L 301.275 562.949 L 301.387 562.451 L 301.5 561.938 L 301.613 561.379 L 301.725 560.77 L 301.837 560.131 L 301.95 559.483 L 302.062 558.847 L 302.175 558.245 L 302.288 557.699 L 302.4 557.229 L 302.512 556.858 L 302.625 556.605 L 302.738 556.429 L 302.85 556.272 L 302.962 556.131 L 303.075 556.006 L 303.188 555.895 L 303.3 555.795 L 303.413 555.705 L 303.525 555.624 L 303.637 555.549 L 303.75 555.48 L 303.863 555.418 L 303.975 555.365 L 304.087 555.32 L 304.2 555.281 L 304.312 555.245 L 304.425 555.21 L 304.538 555.175 L 304.65 555.138 L 304.762 555.096 L 304.875 555.048 L 304.988 554.992 L 305.1 554.925 L 305.145 554.895 L 305.212 554.833 L 305.325 554.673 L 305.438 554.456 L 305.55 554.202 L 305.663 553.929 L 305.775 553.657 L 305.887 553.403 L 306 553.188 L 306.113 553.029 L 306.225 552.945 L 306.27 552.938 L 306.337 552.941 L 306.45 552.963 L 306.562 553.003 L 306.675 553.057 L 306.788 553.123 L 306.9 553.199 L 307.012 553.282 L 307.125 553.368 L 307.238 553.456 L 307.35 553.543 L 307.462 553.626 L 307.575 553.703 L 307.688 553.77 L 307.8 553.837 L 307.913 553.91 L 308.025 553.987 L 308.137 554.065 L 308.25 554.14 L 308.363 554.209 L 308.475 554.268 L 308.587 554.314 L 308.7 554.344 L 308.812 554.355 L 308.925 554.219 L 309.038 553.855 L 309.15 553.328 L 309.262 552.704 L 309.375 552.046 L 309.488 551.422 L 309.6 550.895 L 309.712 550.531 L 309.825 550.395 L 309.938 550.594 L 310.05 551.123 L 310.163 551.878 L 310.275 552.756 L 310.387 553.655 L 310.5 554.472 L 310.613 555.103 L 310.725 555.447 L 310.77 555.48 L 310.837 555.473 L 310.95 555.433 L 311.062 555.361 L 311.175 555.259 L 311.288 555.131 L 311.4 554.98 L 311.512 554.811 L 311.625 554.625 L 311.738 554.314 L 311.85 553.801 L 311.962 553.136 L 312.075 552.37 L 312.188 551.554 L 312.3 550.739 L 312.413 549.975 L 312.48 549.562 L 312.525 549.291 L 312.637 548.535 L 312.75 547.709 L 312.863 546.865 L 312.975 546.057 L 313.087 545.337 L 313.2 544.757 L 313.312 544.371 L 313.425 544.23 L 313.538 544.32 L 313.65 544.563 L 313.762 544.917 L 313.875 545.34 L 313.988 545.79 L 314.1 546.224 L 314.212 546.602 L 314.325 546.881 L 314.438 547.02 L 314.55 547.072 L 314.663 547.12 L 314.775 547.163 L 314.887 547.201 L 315 547.234 L 315.113 547.262 L 315.225 547.283 L 315.337 547.299 L 315.45 547.309 L 315.562 547.312 L 315.675 547.289 L 315.788 547.226 L 315.9 547.133 L 316.012 547.019 L 316.125 546.896 L 316.238 546.773 L 316.35 546.66 L 316.462 546.567 L 316.575 546.503 L 316.688 546.48 L 316.8 546.5 L 316.913 546.555 L 317.025 546.641 L 317.137 546.75 L 317.25 546.879 L 317.363 547.021 L 317.475 547.17 L 317.587 547.321 L 317.7 547.468 L 317.812 547.605 L 317.925 547.756 L 318.038 547.939 L 318.15 548.141 L 318.262 548.348 L 318.375 548.547 L 318.488 548.725 L 318.6 548.869 L 318.712 548.965 L 318.825 549 L 318.938 548.897 L 319.05 548.616 L 319.163 548.204 L 319.275 547.706 L 319.387 547.166 L 319.5 546.629 L 319.613 546.141 L 319.725 545.746 L 319.77 545.625 L 319.837 545.457 L 319.95 545.168 L 320.062 544.885 L 320.175 544.629 L 320.288 544.421 L 320.4 544.281 L 320.512 544.23 L 320.625 544.292 L 320.738 544.458 L 320.85 544.696 L 320.962 544.976 L 321.075 545.264 L 321.188 545.53 L 321.3 545.744 L 321.413 545.872 L 321.48 545.895 L 321.525 545.889 L 321.637 545.824 L 321.75 545.698 L 321.863 545.523 L 321.975 545.309 L 322.087 545.067 L 322.2 544.811 L 322.312 544.551 L 322.425 544.298 L 322.538 544.064 L 322.605 543.938 L 322.65 543.855 L 322.762 543.627 L 322.875 543.376 L 322.988 543.11 L 323.1 542.838 L 323.212 542.567 L 323.325 542.305 L 323.438 542.061 L 323.55 541.843 L 323.663 541.659 L 323.775 541.518 L 323.887 541.427 L 324 541.395 L 324.113 541.462 L 324.225 541.651 L 324.337 541.94 L 324.45 542.31 L 324.562 542.739 L 324.675 543.207 L 324.788 543.694 L 324.9 544.179 L 325.012 544.642 L 325.125 545.062 L 325.238 545.498 L 325.35 546.002 L 325.462 546.547 L 325.575 547.108 L 325.688 547.656 L 325.8 548.165 L 325.913 548.608 L 326.025 548.958 L 326.137 549.187 L 326.25 549.27 L 326.363 549.264 L 326.475 549.248 L 326.587 549.222 L 326.7 549.187 L 326.812 549.144 L 326.925 549.093 L 327.038 549.037 L 327.105 549 L 327.15 548.963 L 327.262 548.777 L 327.375 548.477 L 327.488 548.087 L 327.6 547.632 L 327.712 547.138 L 327.825 546.63 L 327.938 546.131 L 328.05 545.668 L 328.163 545.265 L 328.23 545.062 L 328.275 544.938 L 328.387 544.619 L 328.5 544.296 L 328.613 543.976 L 328.725 543.668 L 328.837 543.38 L 328.95 543.118 L 329.062 542.891 L 329.175 542.707 L 329.288 542.573 L 329.355 542.52 L 329.4 542.494 L 329.512 542.44 L 329.625 542.402 L 329.738 542.373 L 329.85 542.35 L 329.962 542.328 L 330.075 542.302 L 330.188 542.269 L 330.3 542.224 L 330.413 542.162 L 330.48 542.115 L 330.525 542.046 L 330.637 541.614 L 330.75 540.911 L 330.863 540.063 L 330.975 539.198 L 331.02 538.875 L 331.087 538.364 L 331.2 537.356 L 331.312 536.241 L 331.425 535.118 L 331.538 534.085 L 331.65 533.241 L 331.762 532.688 L 331.875 532.32 L 331.988 531.976 L 332.1 531.66 L 332.212 531.38 L 332.325 531.142 L 332.438 530.952 L 332.55 530.817 L 332.663 530.743 L 332.73 530.73 L 332.775 530.741 L 332.887 530.852 L 333 531.068 L 333.113 531.367 L 333.225 531.725 L 333.337 532.121 L 333.45 532.534 L 333.562 532.941 L 333.675 533.32 L 333.788 533.648 L 333.855 533.812 L 333.9 533.914 L 334.012 534.182 L 334.125 534.462 L 334.238 534.743 L 334.35 535.015 L 334.462 535.269 L 334.575 535.493 L 334.688 535.679 L 334.8 535.815 L 334.913 535.892 L 334.98 535.905 L 335.025 535.9 L 335.137 535.85 L 335.25 535.753 L 335.363 535.616 L 335.475 535.45 L 335.587 535.262 L 335.7 535.062 L 335.812 534.859 L 335.925 534.66 L 336.038 534.475 L 336.105 534.375 L 336.15 534.308 L 336.262 534.117 L 336.375 533.903 L 336.488 533.682 L 336.6 533.469 L 336.712 533.277 L 336.825 533.122 L 336.938 533.018 L 337.05 532.98 L 337.163 533.028 L 337.275 533.157 L 337.387 533.348 L 337.5 533.579 L 337.613 533.832 L 337.725 534.085 L 337.837 534.318 L 337.95 534.512 L 338.062 534.645 L 338.175 534.741 L 338.288 534.835 L 338.4 534.925 L 338.512 535.008 L 338.625 535.081 L 338.738 535.142 L 338.85 535.189 L 338.962 535.219 L 339.075 535.23 L 339.188 535.19 L 339.3 535.079 L 339.413 534.909 L 339.525 534.693 L 339.637 534.444 L 339.75 534.174 L 339.863 533.897 L 339.975 533.625 L 340.02 533.52 L 340.087 533.345 L 340.2 532.983 L 340.312 532.57 L 340.425 532.148 L 340.538 531.762 L 340.65 531.455 L 340.762 531.27 L 340.875 531.164 L 340.988 531.067 L 341.1 530.98 L 341.212 530.903 L 341.325 530.839 L 341.438 530.788 L 341.55 530.753 L 341.663 530.733 L 341.73 530.73 L 341.775 530.733 L 341.887 530.767 L 342 530.833 L 342.113 530.925 L 342.225 531.037 L 342.337 531.163 L 342.45 531.297 L 342.562 531.432 L 342.675 531.564 L 342.788 531.685 L 342.9 531.79 L 343.012 531.872 L 343.125 531.926 L 343.238 531.945 L 343.35 531.945 L 343.462 531.945 L 343.575 531.945 L 343.688 531.945 L 343.8 531.945 L 343.913 531.945 L 344.025 531.945 L 344.137 531.945 L 344.25 531.945 L 344.363 531.945 L 344.475 531.945 L 344.587 531.945 L 344.7 531.945 L 344.812 531.945 L 344.925 531.945 L 345.038 531.945 L 345.105 531.945 L 345.15 531.943 L 345.262 531.916 L 345.375 531.864 L 345.488 531.789 L 345.6 531.696 L 345.712 531.588 L 345.825 531.468 L 345.938 531.341 L 346.05 531.209 L 346.163 531.078 L 346.23 531 L 346.275 530.945 L 346.387 530.772 L 346.5 530.561 L 346.613 530.325 L 346.725 530.075 L 346.837 529.825 L 346.95 529.587 L 347.062 529.373 L 347.175 529.196 L 347.288 529.068 L 347.355 529.02 L 347.4 528.996 L 347.512 528.94 L 347.625 528.888 L 347.738 528.842 L 347.85 528.804 L 347.962 528.775 L 348.075 528.756 L 348.188 528.75 L 348.3 528.771 L 348.413 528.828 L 348.525 528.916 L 348.637 529.029 L 348.75 529.16 L 348.863 529.303 L 348.975 529.453 L 349.087 529.602 L 349.2 529.745 L 349.312 529.875 L 349.425 530.008 L 349.538 530.162 L 349.65 530.329 L 349.762 530.504 L 349.875 530.683 L 349.988 530.859 L 350.1 531.027 L 350.212 531.182 L 350.325 531.317 L 350.438 531.428 L 350.55 531.509 L 350.663 531.555 L 350.73 531.562 L 350.775 531.558 L 350.887 531.512 L 351 531.424 L 351.113 531.304 L 351.225 531.163 L 351.337 531.009 L 351.45 530.854 L 351.562 530.707 L 351.675 530.579 L 351.788 530.479 L 351.855 530.438 L 351.9 530.415 L 352.012 530.357 L 352.125 530.303 L 352.238 530.252 L 352.35 530.209 L 352.462 530.175 L 352.575 530.153 L 352.688 530.145 L 352.8 530.173 L 352.913 530.247 L 353.025 530.353 L 353.137 530.477 L 353.25 530.606 L 353.363 530.725 L 353.475 530.82 L 353.587 530.877 L 353.655 530.888 L 353.7 530.883 L 353.812 530.833 L 353.925 530.737 L 354.038 530.603 L 354.15 530.44 L 354.262 530.257 L 354.375 530.063 L 354.488 529.866 L 354.6 529.677 L 354.645 529.605 L 354.712 529.492 L 354.825 529.276 L 354.938 529.033 L 355.05 528.774 L 355.163 528.507 L 355.275 528.242 L 355.387 527.99 L 355.5 527.76 L 355.613 527.561 L 355.725 527.404 L 355.77 527.355 L 355.837 527.288 L 355.95 527.176 L 356.062 527.07 L 356.175 526.974 L 356.288 526.891 L 356.4 526.827 L 356.512 526.785 L 356.625 526.77 L 356.738 526.791 L 356.85 526.849 L 356.962 526.94 L 357.075 527.058 L 357.188 527.197 L 357.3 527.354 L 357.413 527.521 L 357.48 527.625 L 357.525 527.704 L 357.637 527.972 L 357.75 528.321 L 357.863 528.729 L 357.975 529.169 L 358.087 529.617 L 358.2 530.048 L 358.312 530.438 L 358.425 530.819 L 358.538 531.227 L 358.65 531.641 L 358.762 532.038 L 358.875 532.398 L 358.988 532.699 L 359.1 532.919 L 359.145 532.98 L 359.212 533.057 L 359.325 533.18 L 359.438 533.29 L 359.55 533.384 L 359.663 533.456 L 359.775 533.503 L 359.887 533.52 L 360 533.448 L 360.113 533.252 L 360.225 532.966 L 360.337 532.621 L 360.45 532.251 L 360.562 531.887 L 360.675 531.562 L 360.788 531.25 L 360.9 530.909 L 361.012 530.552 L 361.125 530.19 L 361.238 529.837 L 361.35 529.504 L 361.462 529.204 L 361.575 528.949 L 361.688 528.75 L 361.8 528.583 L 361.913 528.419 L 362.025 528.266 L 362.137 528.13 L 362.25 528.019 L 362.363 527.94 L 362.475 527.899 L 362.52 527.895 L 362.587 527.895 L 362.7 527.895 L 362.812 527.895 L 362.925 527.895 L 363.038 527.895 L 363.15 527.895 L 363.262 527.895 L 363.375 527.895 L 363.488 527.895 L 363.6 527.895 L 363.712 527.895 L 363.825 527.895 L 363.938 527.895 L 364.05 527.895 L 364.163 527.895 L 364.275 527.895 L 364.387 527.895 L 364.5 527.895 L 364.613 527.918 L 364.725 527.982 L 364.837 528.08 L 364.95 528.204 L 365.062 528.346 L 365.175 528.5 L 365.288 528.657 L 365.355 528.75 L 365.4 528.815 L 365.512 529.013 L 365.625 529.25 L 365.738 529.517 L 365.85 529.803 L 365.962 530.098 L 366.075 530.391 L 366.188 530.671 L 366.3 530.93 L 366.413 531.155 L 366.48 531.27 L 366.525 531.342 L 366.637 531.53 L 366.75 531.72 L 366.863 531.901 L 366.975 532.061 L 367.087 532.189 L 367.2 532.274 L 367.312 532.305 L 367.425 532.294 L 367.538 532.264 L 367.65 532.216 L 367.762 532.153 L 367.875 532.077 L 367.988 531.99 L 368.1 531.895 L 368.145 531.855 L 368.212 531.769 L 368.325 531.53 L 368.438 531.203 L 368.55 530.828 L 368.663 530.442 L 368.775 530.084 L 368.887 529.792 L 369 529.605 L 369.113 529.485 L 369.225 529.372 L 369.337 529.269 L 369.45 529.18 L 369.562 529.107 L 369.675 529.054 L 369.788 529.025 L 369.855 529.02 L 369.9 529.027 L 370.012 529.098 L 370.125 529.237 L 370.238 529.428 L 370.35 529.657 L 370.462 529.912 L 370.575 530.176 L 370.688 530.438 L 370.8 530.748 L 370.913 531.145 L 371.025 531.594 L 371.137 532.057 L 371.25 532.498 L 371.363 532.881 L 371.475 533.169 L 371.52 533.25 L 371.587 533.354 L 371.7 533.521 L 371.812 533.678 L 371.925 533.817 L 372.038 533.935 L 372.15 534.026 L 372.262 534.084 L 372.375 534.105 L 372.488 534.024 L 372.6 533.803 L 372.712 533.475 L 372.825 533.076 L 372.938 532.638 L 373.05 532.195 L 373.163 531.782 L 373.23 531.562 L 373.275 531.417 L 373.387 530.993 L 373.5 530.529 L 373.613 530.076 L 373.725 529.687 L 373.837 529.415 L 373.95 529.312 L 374.062 529.312 L 374.175 529.312 L 374.288 529.312 L 374.4 529.312 L 374.512 529.312 L 374.625 529.312 L 374.738 529.312 L 374.85 529.426 L 374.962 529.732 L 375.075 530.178 L 375.188 530.712 L 375.3 531.282 L 375.413 531.836 L 375.525 532.322 L 375.637 532.688 L 375.75 532.982 L 375.863 533.283 L 375.975 533.577 L 376.087 533.853 L 376.2 534.099 L 376.312 534.304 L 376.425 534.455 L 376.538 534.54 L 376.605 534.555 L 376.65 534.548 L 376.762 534.475 L 376.875 534.335 L 376.988 534.144 L 377.1 533.918 L 377.212 533.673 L 377.325 533.424 L 377.438 533.188 L 377.55 532.98 L 377.663 532.772 L 377.775 532.536 L 377.887 532.285 L 378 532.034 L 378.113 531.797 L 378.225 531.588 L 378.337 531.421 L 378.45 531.31 L 378.562 531.27 L 378.675 531.27 L 378.788 531.27 L 378.9 531.27 L 379.012 531.27 L 379.125 531.27 L 379.238 531.27 L 379.35 531.27 L 379.395 531.27 L 379.462 531.293 L 379.575 531.425 L 379.688 531.651 L 379.8 531.943 L 379.913 532.275 L 380.025 532.622 L 380.137 532.955 L 380.25 533.25 L 380.363 533.549 L 380.475 533.894 L 380.587 534.256 L 380.7 534.606 L 380.812 534.915 L 380.925 535.154 L 381.038 535.295 L 381.105 535.32 L 381.15 535.32 L 381.262 535.32 L 381.375 535.32 L 381.488 535.32 L 381.6 535.32 L 381.712 535.32 L 381.825 535.32 L 381.938 535.32 L 382.05 535.32 L 382.163 535.272 L 382.275 535.141 L 382.387 534.942 L 382.5 534.691 L 382.613 534.406 L 382.725 534.103 L 382.837 533.799 L 382.95 533.509 L 383.062 533.25 L 383.175 533.006 L 383.288 532.75 L 383.4 532.487 L 383.512 532.218 L 383.625 531.947 L 383.738 531.677 L 383.85 531.412 L 383.962 531.153 L 384.075 530.905 L 384.188 530.67 L 384.3 530.452 L 384.413 530.254 L 384.48 530.145 L 384.525 530.075 L 384.637 529.895 L 384.75 529.711 L 384.863 529.527 L 384.975 529.347 L 385.087 529.174 L 385.2 529.012 L 385.312 528.865 L 385.425 528.736 L 385.538 528.63 L 385.65 528.549 L 385.762 528.498 L 385.875 528.48 L 385.988 528.488 L 386.1 528.512 L 386.212 528.548 L 386.325 528.597 L 386.438 528.654 L 386.55 528.72 L 386.663 528.791 L 386.775 528.866 L 386.887 528.943 L 387 529.02 L 387.113 529.114 L 387.225 529.239 L 387.337 529.388 L 387.45 529.555 L 387.562 529.733 L 387.675 529.915 L 387.788 530.094 L 387.9 530.264 L 388.012 530.417 L 388.125 530.548 L 388.238 530.65 L 388.35 530.715 L 388.395 530.73 L 388.462 530.746 L 388.575 530.772 L 388.688 530.796 L 388.8 530.817 L 388.913 530.836 L 389.025 530.853 L 389.137 530.866 L 389.25 530.877 L 389.363 530.884 L 389.475 530.887 L 389.52 530.888 L 389.587 530.881 L 389.7 530.841 L 389.812 530.771 L 389.925 530.673 L 390.038 530.553 L 390.15 530.415 L 390.262 530.263 L 390.375 530.102 L 390.488 529.936 L 390.6 529.77 L 390.712 529.607 L 390.825 529.454 L 390.938 529.312 L 391.05 529.17 L 391.163 529.014 L 391.275 528.849 L 391.387 528.68 L 391.5 528.513 L 391.613 528.353 L 391.725 528.206 L 391.837 528.077 L 391.95 527.972 L 392.062 527.895 L 392.175 527.835 L 392.288 527.778 L 392.4 527.724 L 392.512 527.674 L 392.625 527.628 L 392.738 527.589 L 392.85 527.557 L 392.962 527.533 L 393.075 527.518 L 393.188 527.513 L 393.3 527.52 L 393.413 527.54 L 393.525 527.571 L 393.637 527.611 L 393.75 527.658 L 393.863 527.711 L 393.975 527.766 L 394.087 527.822 L 394.2 527.877 L 394.312 527.929 L 394.425 527.976 L 394.538 528.016 L 394.65 528.048 L 394.762 528.068 L 394.875 528.075 L 394.988 528.075 L 395.1 528.075 L 395.212 528.075 L 395.325 528.075 L 395.438 528.075 L 395.55 528.075 L 395.663 528.075 L 395.775 528.075 L 395.887 528.075 L 396 528.075 L 396.113 528.075 L 396.225 528.075 L 396.337 528.075 L 396.45 528.075 L 396.562 528.075 L 396.675 528.092 L 396.788 528.14 L 396.9 528.213 L 397.012 528.308 L 397.125 528.42 L 397.238 528.544 L 397.35 528.675 L 397.462 528.808 L 397.575 528.94 L 397.688 529.065 L 397.8 529.178 L 397.913 529.276 L 398.025 529.352 L 398.137 529.404 L 398.25 529.425 L 398.363 529.429 L 398.475 529.434 L 398.587 529.438 L 398.7 529.441 L 398.812 529.445 L 398.925 529.448 L 399.038 529.451 L 399.15 529.454 L 399.262 529.457 L 399.375 529.459 L 399.488 529.461 L 399.6 529.463 L 399.712 529.465 L 399.825 529.466 L 399.938 529.467 L 400.05 529.468 L 400.163 529.469 L 400.275 529.47 L 400.387 529.47 L 400.5 529.47 L 400.613 529.47 L 400.725 529.47 L 400.837 529.47 L 400.95 529.469 L 401.062 529.469 L 401.175 529.469 L 401.288 529.468 L 401.4 529.468 L 401.512 529.467 L 401.625 529.466 L 401.738 529.465 L 401.85 529.464 L 401.962 529.463 L 402.075 529.462 L 402.188 529.461 L 402.3 529.459 L 402.413 529.458 L 402.525 529.456 L 402.637 529.454 L 402.75 529.452 L 402.863 529.45 L 402.975 529.448 L 403.087 529.446 L 403.2 529.443 L 403.312 529.44 L 403.425 529.438 L 403.538 529.435 L 403.65 529.432 L 403.762 529.428 L 403.875 529.425 L 403.988 529.407 L 404.1 529.365 L 404.212 529.302 L 404.325 529.225 L 404.438 529.139 L 404.55 529.048 L 404.663 528.959 L 404.775 528.876 L 404.887 528.805 L 405 528.75 L 405.113 528.705 L 405.225 528.659 L 405.337 528.614 L 405.45 528.569 L 405.562 528.526 L 405.675 528.486 L 405.788 528.449 L 405.9 528.417 L 406.012 528.389 L 406.125 528.368 L 406.238 528.353 L 406.35 528.346 L 406.395 528.345 L 406.462 528.345 L 406.575 528.345 L 406.688 528.346 L 406.8 528.347 L 406.913 528.347 L 407.025 528.349 L 407.137 528.35 L 407.25 528.351 L 407.363 528.353 L 407.475 528.355 L 407.587 528.357 L 407.7 528.359 L 407.812 528.362 L 407.925 528.364 L 408.038 528.367 L 408.15 528.369 L 408.262 528.372 L 408.375 528.375 L 408.488 528.378 L 408.6 528.381 L 408.712 528.384 L 408.825 528.388 L 408.938 528.391 L 409.05 528.394 L 409.163 528.398 L 409.275 528.401 L 409.387 528.405 L 409.5 528.408 L 409.613 528.412 L 409.725 528.415 L 409.837 528.419 L 409.95 528.422 L 410.062 528.426 L 410.175 528.429 L 410.288 528.433 L 410.4 528.436 L 410.512 528.439 L 410.625 528.442 L 410.738 528.446 L 410.85 528.449 L 410.962 528.452 L 411.075 528.455 L 411.188 528.457 L 411.3 528.46 L 411.413 528.462 L 411.525 528.465 L 411.637 528.467 L 411.75 528.469 L 411.863 528.471 L 411.975 528.473 L 412.087 528.475 L 412.2 528.476 L 412.312 528.477 L 412.425 528.478 L 412.538 528.479 L 412.65 528.48 L 412.762 528.48 L 412.875 528.48 L 412.988 528.48 L 413.1 528.48 L 413.212 528.48 L 413.325 528.48 L 413.438 528.48 L 413.55 528.48 L 413.663 528.48 L 413.775 528.48 L 413.887 528.48 L 414 528.48 L 414.113 528.48 L 414.225 528.48 L 414.337 528.48 L 414.45 528.48 L 414.562 528.48 L 414.675 528.48 L 414.788 528.48 L 414.9 528.48 L 415.012 528.48 L 415.125 528.48 L 415.238 528.48 L 415.35 528.48 L 415.462 528.48 L 415.575 528.48 L 415.688 528.48 L 415.8 528.48 L 415.913 528.48 L 416.025 528.48 L 416.137 528.48 L 416.25 528.48 L 416.363 528.48 L 416.475 528.48 L 416.587 528.48 L 416.7 528.48 L 416.812 528.48 L 416.925 528.48 L 417.038 528.48 L 417.15 528.48 L 417.262 528.48 L 417.375 528.48 L 417.488 528.483 L 417.6 528.493 L 417.712 528.508 L 417.825 528.528 L 417.938 528.553 L 418.05 528.582 L 418.163 528.615 L 418.275 528.651 L 418.387 528.69 L 418.5 528.731 L 418.613 528.775 L 418.725 528.819 L 418.837 528.865 L 418.95 528.911 L 419.062 528.957 L 419.175 529.003 L 419.288 529.047 L 419.4 529.09 L 419.512 529.132 L 419.625 529.171 L 419.738 529.207 L 419.85 529.239 L 419.962 529.268 L 420.075 529.293 L 420.188 529.312 L 420.3 529.33 L 420.413 529.347 L 420.525 529.364 L 420.637 529.381 L 420.75 529.398 L 420.863 529.415 L 420.975 529.431 L 421.087 529.447 L 421.2 529.463 L 421.312 529.478 L 421.425 529.492 L 421.538 529.506 L 421.65 529.519 L 421.762 529.532 L 421.875 529.544 L 421.988 529.554 L 422.1 529.564 L 422.212 529.573 L 422.325 529.581 L 422.438 529.588 L 422.55 529.594 L 422.663 529.599 L 422.775 529.602 L 422.887 529.604 L 423 529.605 L 423.113 529.603 L 423.225 529.598 L 423.337 529.59 L 423.45 529.578 L 423.562 529.564 L 423.675 529.548 L 423.788 529.529 L 423.9 529.507 L 424.012 529.484 L 424.125 529.459 L 424.238 529.433 L 424.35 529.405 L 424.462 529.377 L 424.575 529.347 L 424.688 529.316 L 424.8 529.286 L 424.913 529.254 L 425.025 529.223 L 425.137 529.192 L 425.25 529.161 L 425.363 529.131 L 425.475 529.102 L 425.587 529.073 L 425.7 529.046 L 425.812 529.02 L 425.925 528.993 L 426.038 528.964 L 426.15 528.933 L 426.262 528.899 L 426.375 528.865 L 426.488 528.829 L 426.6 528.794 L 426.712 528.758 L 426.825 528.722 L 426.938 528.687 L 427.05 528.654 L 427.163 528.622 L 427.275 528.592 L 427.387 528.565 L 427.5 528.541 L 427.613 528.52 L 427.725 528.503 L 427.837 528.491 L 427.95 528.483 L 428.062 528.48 L 428.175 528.483 L 428.288 528.49 L 428.4 528.501 L 428.512 528.517 L 428.625 528.536 L 428.738 528.558 L 428.85 528.583 L 428.962 528.61 L 429.075 528.64 L 429.188 528.67 L 429.3 528.702 L 429.413 528.734 L 429.525 528.766 L 429.637 528.798 L 429.75 528.83 L 429.863 528.86 L 429.975 528.89 L 430.087 528.917 L 430.2 528.942 L 430.312 528.964 L 430.425 528.983 L 430.538 528.999 L 430.65 529.01 L 430.762 529.017 L 430.875 529.02 L 430.988 529.02 L 431.1 529.02 L 431.212 529.02 L 431.325 529.02 L 431.438 529.02 L 431.55 529.02 L 431.663 529.02 L 431.775 529.02 L 431.887 529.02 L 432 529.02 L 432.113 529.02 L 432.225 529.02 L 432.337 529.02 L 432.45 529.02 L 432.562 529.02 L 432.675 529.02 L 432.788 529.02 L 432.9 529.02 L 433.012 529.02 L 433.125 529.02 L 433.238 529.02 L 433.35 529.02 L 433.395 529.02 L 433.462 529.019 L 433.575 529.01 L 433.688 528.995 L 433.8 528.974 L 433.913 528.947 L 434.025 528.916 L 434.137 528.88 L 434.25 528.84 L 434.363 528.797 L 434.475 528.752 L 434.587 528.704 L 434.7 528.656 L 434.812 528.607 L 434.925 528.557 L 435.038 528.509 L 435.105 528.48 L 435.15 528.46 L 435.262 528.403 L 435.375 528.338 L 435.488 528.264 L 435.6 528.184 L 435.712 528.099 L 435.825 528.011 L 435.938 527.921 L 436.05 527.83 L 436.163 527.74 L 436.275 527.652 L 436.387 527.568 L 436.5 527.489 L 436.613 527.416 L 436.725 527.352 L 436.837 527.297 L 436.95 527.252 L 437.062 527.22 L 437.175 527.195 L 437.288 527.17 L 437.4 527.146 L 437.512 527.123 L 437.625 527.101 L 437.738 527.08 L 437.85 527.06 L 437.962 527.042 L 438.075 527.024 L 438.188 527.009 L 438.3 526.995 L 438.413 526.982 L 438.525 526.972 L 438.637 526.963 L 438.75 526.957 L 438.863 526.952 L 438.975 526.95 L 439.02 526.95 L 439.087 526.951 L 439.2 526.958 L 439.312 526.971 L 439.425 526.989 L 439.538 527.011 L 439.65 527.038 L 439.762 527.069 L 439.875 527.103 L 439.988 527.14 L 440.1 527.179 L 440.212 527.219 L 440.325 527.262 L 440.438 527.304 L 440.55 527.347 L 440.663 527.39 L 440.775 527.432 L 440.887 527.473 L 441 527.513 L 441.113 527.553 L 441.225 527.597 L 441.337 527.645 L 441.45 527.695 L 441.562 527.748 L 441.675 527.802 L 441.788 527.857 L 441.9 527.912 L 442.012 527.967 L 442.125 528.022 L 442.238 528.075 L 442.35 528.126 L 442.462 528.174 L 442.575 528.219 L 442.688 528.26 L 442.8 528.297 L 442.913 528.329 L 442.98 528.345 L 443.025 528.355 L 443.137 528.381 L 443.25 528.407 L 443.363 528.432 L 443.475 528.457 L 443.587 528.48 L 443.7 528.501 L 443.812 528.521 L 443.925 528.537 L 444.038 528.551 L 444.15 528.561 L 444.262 528.568 L 444.375 528.57 L 444.488 528.561 L 444.6 528.537 L 444.712 528.498 L 444.825 528.448 L 444.938 528.387 L 445.05 528.318 L 445.163 528.242 L 445.275 528.162 L 445.387 528.079 L 445.5 527.996 " clip-path="url(#p1755e1790f)" style="fill: none; stroke: #000000; stroke-width: 1.26; stroke-linecap: round"/></g><g id="line2d_37"><path d="M 445.5 527.996 L 445.613 527.914 L 445.725 527.835 L 445.77 527.805 L 445.837 527.759 L 445.95 527.676 L 446.062 527.586 L 446.175 527.491 L 446.288 527.391 L 446.4 527.287 L 446.512 527.18 L 446.625 527.072 L 446.738 526.962 L 446.85 526.853 L 446.962 526.744 L 447.075 526.638 L 447.188 526.535 L 447.3 526.435 L 447.413 526.34 L 447.525 526.251 L 447.637 526.169 L 447.75 526.095 L 447.863 526.025 L 447.975 525.955 L 448.087 525.885 L 448.2 525.817 L 448.312 525.75 L 448.425 525.685 L 448.538 525.622 L 448.65 525.562 L 448.762 525.506 L 448.875 525.453 L 448.988 525.405 L 449.1 525.361 L 449.212 525.322 L 449.325 525.289 L 449.438 525.263 L 449.55 525.239 L 449.663 525.216 L 449.775 525.194 L 449.887 525.173 L 450 525.154 L 450.113 525.138 L 450.225 525.124 L 450.337 525.114 L 450.45 525.107 L 450.562 525.105 L 450.675 525.11 L 450.788 525.126 L 450.9 525.15 L 451.012 525.183 L 451.125 525.222 L 451.238 525.268 L 451.35 525.318 L 451.462 525.373 L 451.575 525.43 L 451.688 525.49 L 451.8 525.55 L 451.913 525.61 L 451.98 525.645 L 452.025 525.67 L 452.137 525.74 L 452.25 525.821 L 452.363 525.911 L 452.475 526.01 L 452.587 526.114 L 452.7 526.222 L 452.812 526.333 L 452.925 526.445 L 453.038 526.555 L 453.15 526.663 L 453.262 526.767 L 453.375 526.864 L 453.488 526.954 L 453.6 527.034 L 453.645 527.062 L 453.712 527.105 L 453.825 527.178 L 453.938 527.252 L 454.05 527.327 L 454.163 527.401 L 454.275 527.474 L 454.387 527.544 L 454.5 527.611 L 454.613 527.674 L 454.725 527.73 L 454.837 527.78 L 454.95 527.822 L 455.062 527.856 L 455.175 527.88 L 455.288 527.893 L 455.355 527.895 L 455.4 527.895 L 455.512 527.89 L 455.625 527.882 L 455.738 527.869 L 455.85 527.853 L 455.962 527.833 L 456.075 527.81 L 456.188 527.784 L 456.3 527.756 L 456.413 527.725 L 456.525 527.693 L 456.637 527.66 L 456.75 527.625 L 456.863 527.582 L 456.975 527.524 L 457.087 527.452 L 457.2 527.368 L 457.312 527.274 L 457.425 527.171 L 457.538 527.061 L 457.65 526.944 L 457.762 526.824 L 457.875 526.7 L 457.988 526.576 L 458.1 526.451 L 458.212 526.329 L 458.325 526.209 L 458.438 526.095 L 458.55 525.979 L 458.663 525.856 L 458.775 525.726 L 458.887 525.592 L 459 525.455 L 459.113 525.317 L 459.225 525.178 L 459.337 525.041 L 459.45 524.907 L 459.562 524.778 L 459.675 524.654 L 459.788 524.538 L 459.9 524.431 L 460.012 524.334 L 460.125 524.25 L 460.238 524.171 L 460.35 524.091 L 460.462 524.012 L 460.575 523.932 L 460.688 523.855 L 460.8 523.781 L 460.913 523.71 L 461.025 523.644 L 461.137 523.584 L 461.25 523.53 L 461.363 523.484 L 461.475 523.447 L 461.587 523.419 L 461.7 523.401 L 461.812 523.395 L 461.925 523.404 L 462.038 523.429 L 462.15 523.468 L 462.262 523.52 L 462.375 523.584 L 462.488 523.656 L 462.6 523.737 L 462.712 523.823 L 462.825 523.914 L 462.938 524.008 L 463.05 524.102 L 463.163 524.195 L 463.23 524.25 L 463.275 524.288 L 463.387 524.396 L 463.5 524.522 L 463.613 524.662 L 463.725 524.813 L 463.837 524.972 L 463.95 525.137 L 464.062 525.304 L 464.175 525.47 L 464.288 525.633 L 464.4 525.788 L 464.512 525.935 L 464.625 526.068 L 464.738 526.187 L 464.85 526.286 L 464.895 526.32 L 464.962 526.368 L 465.075 526.449 L 465.188 526.53 L 465.3 526.61 L 465.413 526.687 L 465.525 526.762 L 465.637 526.833 L 465.75 526.9 L 465.863 526.962 L 465.975 527.017 L 466.087 527.066 L 466.2 527.106 L 466.312 527.138 L 466.425 527.161 L 466.538 527.173 L 466.605 527.175 L 466.65 527.174 L 466.762 527.162 L 466.875 527.139 L 466.988 527.105 L 467.1 527.062 L 467.212 527.01 L 467.325 526.951 L 467.438 526.885 L 467.55 526.814 L 467.663 526.739 L 467.775 526.661 L 467.887 526.581 L 468 526.5 L 468.113 526.408 L 468.225 526.297 L 468.337 526.168 L 468.45 526.023 L 468.562 525.864 L 468.675 525.694 L 468.788 525.515 L 468.9 525.327 L 469.012 525.135 L 469.125 524.939 L 469.238 524.741 L 469.35 524.545 L 469.462 524.351 L 469.575 524.162 L 469.688 523.98 L 469.8 523.796 L 469.913 523.601 L 470.025 523.397 L 470.137 523.187 L 470.25 522.973 L 470.363 522.757 L 470.475 522.543 L 470.587 522.332 L 470.7 522.126 L 470.812 521.929 L 470.925 521.742 L 471.038 521.567 L 471.15 521.408 L 471.262 521.267 L 471.375 521.145 L 471.488 521.033 L 471.6 520.92 L 471.712 520.808 L 471.825 520.699 L 471.938 520.595 L 472.05 520.497 L 472.163 520.408 L 472.275 520.329 L 472.387 520.262 L 472.5 520.21 L 472.613 520.174 L 472.725 520.157 L 472.77 520.155 L 472.837 520.159 L 472.95 520.179 L 473.062 520.217 L 473.175 520.271 L 473.288 520.338 L 473.4 520.416 L 473.512 520.505 L 473.625 520.602 L 473.738 520.705 L 473.85 520.812 L 473.962 520.923 L 474.075 521.034 L 474.188 521.145 L 474.3 521.266 L 474.413 521.408 L 474.525 521.568 L 474.637 521.745 L 474.75 521.934 L 474.863 522.134 L 474.975 522.342 L 475.087 522.555 L 475.2 522.771 L 475.312 522.987 L 475.425 523.201 L 475.538 523.41 L 475.65 523.611 L 475.762 523.802 L 475.875 523.98 L 475.988 524.155 L 476.1 524.337 L 476.212 524.524 L 476.325 524.713 L 476.438 524.903 L 476.55 525.091 L 476.663 525.274 L 476.775 525.451 L 476.887 525.619 L 477 525.776 L 477.113 525.92 L 477.225 526.049 L 477.337 526.16 L 477.45 526.251 L 477.562 526.32 L 477.675 526.376 L 477.788 526.431 L 477.9 526.484 L 478.012 526.534 L 478.125 526.58 L 478.238 526.623 L 478.35 526.661 L 478.462 526.695 L 478.575 526.723 L 478.688 526.745 L 478.8 526.76 L 478.913 526.769 L 478.98 526.77 L 479.025 526.769 L 479.137 526.754 L 479.25 526.724 L 479.363 526.681 L 479.475 526.625 L 479.587 526.56 L 479.7 526.485 L 479.812 526.403 L 479.925 526.316 L 480.038 526.224 L 480.15 526.129 L 480.262 526.033 L 480.375 525.938 L 480.488 525.832 L 480.6 525.707 L 480.712 525.565 L 480.825 525.408 L 480.938 525.239 L 481.05 525.06 L 481.163 524.874 L 481.275 524.682 L 481.387 524.487 L 481.5 524.292 L 481.613 524.099 L 481.725 523.911 L 481.837 523.729 L 481.95 523.556 L 482.062 523.395 L 482.175 523.236 L 482.288 523.069 L 482.4 522.898 L 482.512 522.726 L 482.625 522.554 L 482.738 522.387 L 482.85 522.227 L 482.962 522.077 L 483.075 521.94 L 483.188 521.818 L 483.3 521.715 L 483.413 521.633 L 483.48 521.595 L 483.525 521.573 L 483.637 521.519 L 483.75 521.468 L 483.863 521.421 L 483.975 521.382 L 484.087 521.352 L 484.2 521.332 L 484.312 521.325 L 484.425 521.334 L 484.538 521.361 L 484.65 521.404 L 484.762 521.461 L 484.875 521.53 L 484.988 521.609 L 485.1 521.697 L 485.212 521.792 L 485.325 521.893 L 485.438 521.997 L 485.55 522.102 L 485.663 522.208 L 485.73 522.27 L 485.775 522.313 L 485.887 522.434 L 486 522.573 L 486.113 522.726 L 486.225 522.893 L 486.337 523.07 L 486.45 523.255 L 486.562 523.446 L 486.675 523.641 L 486.788 523.836 L 486.9 524.031 L 487.012 524.222 L 487.125 524.407 L 487.238 524.583 L 487.35 524.75 L 487.395 524.812 L 487.462 524.906 L 487.575 525.068 L 487.688 525.233 L 487.8 525.4 L 487.913 525.569 L 488.025 525.736 L 488.137 525.9 L 488.25 526.06 L 488.363 526.214 L 488.475 526.36 L 488.587 526.496 L 488.7 526.621 L 488.812 526.733 L 488.925 526.83 L 489.038 526.91 L 489.105 526.95 L 489.15 526.974 L 489.262 527.034 L 489.375 527.093 L 489.488 527.148 L 489.6 527.2 L 489.712 527.246 L 489.825 527.286 L 489.938 527.317 L 490.05 527.34 L 490.163 527.353 L 490.23 527.355 L 490.275 527.354 L 490.387 527.341 L 490.5 527.315 L 490.613 527.278 L 490.725 527.23 L 490.837 527.174 L 490.95 527.111 L 491.062 527.042 L 491.175 526.969 L 491.288 526.893 L 491.4 526.816 L 491.512 526.739 L 491.625 526.664 L 491.738 526.592 L 491.85 526.525 L 491.895 526.5 L 491.962 526.462 L 492.075 526.392 L 492.188 526.318 L 492.3 526.239 L 492.413 526.157 L 492.525 526.075 L 492.637 525.992 L 492.75 525.911 L 492.863 525.833 L 492.975 525.759 L 493.087 525.691 L 493.2 525.629 L 493.312 525.576 L 493.425 525.533 L 493.538 525.501 L 493.605 525.487 L 493.65 525.48 L 493.762 525.462 L 493.875 525.446 L 493.988 525.43 L 494.1 525.416 L 494.212 525.404 L 494.325 525.393 L 494.438 525.385 L 494.55 525.379 L 494.663 525.376 L 494.73 525.375 L 494.775 525.378 L 494.887 525.408 L 495 525.468 L 495.113 525.554 L 495.225 525.662 L 495.337 525.789 L 495.45 525.931 L 495.562 526.083 L 495.675 526.241 L 495.788 526.403 L 495.855 526.5 L 495.9 526.568 L 496.012 526.769 L 496.125 527.008 L 496.238 527.278 L 496.35 527.571 L 496.462 527.881 L 496.575 528.2 L 496.688 528.521 L 496.8 528.837 L 496.913 529.14 L 496.98 529.312 L 497.025 529.427 L 497.137 529.73 L 497.25 530.049 L 497.363 530.376 L 497.475 530.702 L 497.587 531.019 L 497.7 531.319 L 497.812 531.593 L 497.925 531.833 L 498.038 532.031 L 498.105 532.125 L 498.15 532.182 L 498.262 532.322 L 498.375 532.458 L 498.488 532.582 L 498.6 532.688 L 498.712 532.771 L 498.825 532.826 L 498.938 532.845 L 499.05 532.845 L 499.163 532.845 L 499.275 532.845 L 499.387 532.845 L 499.5 532.845 L 698.4 532.845 " clip-path="url(#p1755e1790f)" style="fill: none; stroke: #000000; stroke-width: 0.99999"/></g><g id="text_22" transform="translate(3.4981 -2.4664) scale(0.99527 1.00560)"><!-- $B=100\ \mathtt{T}$ --><g transform="translate(578.88 475.258) scale(0.24 -0.24)"><use href="#DejaVuSans-Oblique-42" transform="translate(0 0.78125)"/><use href="#DejaVuSans-3d" transform="translate(88.086 0.78125)"/><use href="#DejaVuSans-31" transform="translate(191.357 0.78125)"/><use href="#DejaVuSans-30" transform="translate(254.98 0.78125)"/><use href="#DejaVuSans-30" transform="translate(318.604 0.78125)"/><use href="#DejaVuSansMono-54" transform="translate(414.697 0.78125)"/></g></g></g></g><defs><clipPath id="p8c79ba51a0"><rect x="100.8" y="243.29" width="597.6" height="197.419"/></clipPath><clipPath id="p1755e1790f"><rect x="100.8" y="450.581" width="597.6" height="197.419"/></clipPath></defs><g transform="scale(0.45)"><path d="M224.5 519.5V80.5" stroke="#000" stroke-width="1.1111" stroke-dasharray="1.1111 1.8333" fill="none"/><path d="M445.5 519.5V80.5" stroke="#000" stroke-width="1.1111" stroke-dasharray="1.1111 1.8333" fill="none"/><path d="M667.5 519.5V80.5" stroke="#000" stroke-width="1.1111" stroke-dasharray="1.1111 1.8333" fill="none"/><path d="M888.5 519.5V80.5" stroke="#000" stroke-width="1.1111" stroke-dasharray="1.1111 1.8333" fill="none"/><path d="M1109.5 519.5V80.5" stroke="#000" stroke-width="1.1111" stroke-dasharray="1.1111 1.8333" fill="none"/><path d="M1331.5 519.5V80.5" stroke="#000" stroke-width="1.1111" stroke-dasharray="1.1111 1.8333" fill="none"/><path d="M1552.5 519.5V80.5" stroke="#000" stroke-width="1.1111" stroke-dasharray="1.1111 1.8333" fill="none"/><path d="M224.5 117.5H1552.5" stroke="#000" stroke-width="1.1111" stroke-dasharray="1.1111 1.8333" fill="none"/><path d="M224.5 299.5H1552.5" stroke="#000" stroke-width="1.1111" stroke-dasharray="1.1111 1.8333" fill="none"/><path d="M224.5 482.5H1552.5" stroke="#000" stroke-width="1.1111" stroke-dasharray="1.1111 1.8333" fill="none"/><path d="M224.5 979.5V541.5" stroke="#000" stroke-width="1.1111" stroke-dasharray="1.1111 1.8333" fill="none"/><path d="M445.5 979.5V541.5" stroke="#000" stroke-width="1.1111" stroke-dasharray="1.1111 1.8333" fill="none"/><path d="M667.5 979.5V541.5" stroke="#000" stroke-width="1.1111" stroke-dasharray="1.1111 1.8333" fill="none"/><path d="M888.5 979.5V541.5" stroke="#000" stroke-width="1.1111" stroke-dasharray="1.1111 1.8333" fill="none"/><path d="M1109.5 979.5V541.5" stroke="#000" stroke-width="1.1111" stroke-dasharray="1.1111 1.8333" fill="none"/><path d="M1331.5 979.5V541.5" stroke="#000" stroke-width="1.1111" stroke-dasharray="1.1111 1.8333" fill="none"/><path d="M1552.5 979.5V541.5" stroke="#000" stroke-width="1.1111" stroke-dasharray="1.1111 1.8333" fill="none"/><path d="M224.5 577.5H1552.5" stroke="#000" stroke-width="1.1111" stroke-dasharray="1.1111 1.8333" fill="none"/><path d="M224.5 760.5H1552.5" stroke="#000" stroke-width="1.1111" stroke-dasharray="1.1111 1.8333" fill="none"/><path d="M224.5 943.5H1552.5" stroke="#000" stroke-width="1.1111" stroke-dasharray="1.1111 1.8333" fill="none"/><path d="M224.5 1440.5V1001.5" stroke="#000" stroke-width="1.1111" stroke-dasharray="1.1111 1.8333" fill="none"/><path d="M445.5 1440.5V1001.5" stroke="#000" stroke-width="1.1111" stroke-dasharray="1.1111 1.8333" fill="none"/><path d="M667.5 1440.5V1001.5" stroke="#000" stroke-width="1.1111" stroke-dasharray="1.1111 1.8333" fill="none"/><path d="M888.5 1440.5V1001.5" stroke="#000" stroke-width="1.1111" stroke-dasharray="1.1111 1.8333" fill="none"/><path d="M1109.5 1440.5V1001.5" stroke="#000" stroke-width="1.1111" stroke-dasharray="1.1111 1.8333" fill="none"/><path d="M1331.5 1440.5V1001.5" stroke="#000" stroke-width="1.1111" stroke-dasharray="1.1111 1.8333" fill="none"/><path d="M1552.5 1440.5V1001.5" stroke="#000" stroke-width="1.1111" stroke-dasharray="1.1111 1.8333" fill="none"/><path d="M224.5 1038.5H1552.5" stroke="#000" stroke-width="1.1111" stroke-dasharray="1.1111 1.8333" fill="none"/><path d="M224.5 1221.5H1552.5" stroke="#000" stroke-width="1.1111" stroke-dasharray="1.1111 1.8333" fill="none"/><path d="M224.5 1403.5H1552.5" stroke="#000" stroke-width="1.1111" stroke-dasharray="1.1111 1.8333" fill="none"/><path d="M224 519v8M445 519v8M667 519v8M888 519v8M1109 519v8M1331 519v8M1552 519v8M224 117h-8M224 299h-8M224 482h-8" stroke="#000" stroke-width="1.7778" fill="none"/><path d="M224 519V80M1552 519V80M224 519H1552M224 80H1552" stroke="#000" stroke-width="1.7778" stroke-linecap="square" fill="none"/><path d="M224 979v8M445 979v8M667 979v8M888 979v8M1109 979v8M1331 979v8M1552 979v8M224 577h-8M224 760h-8M224 943h-8" stroke="#000" stroke-width="1.7778" fill="none"/><path d="M224 979V541M1552 979V541M224 979H1552M224 541H1552" stroke="#000" stroke-width="1.7778" stroke-linecap="square" fill="none"/><path d="M224 1440v8M445 1440v8M667 1440v8M888 1440v8M1109 1440v8M1331 1440v8M1552 1440v8M224 1038h-8M224 1221h-8M224 1403h-8" stroke="#000" stroke-width="1.7778" fill="none"/><path d="M224 1440V1001M1552 1440V1001M224 1440H1552M224 1001H1552" stroke="#000" stroke-width="1.7778" stroke-linecap="square" fill="none"/><path d="M224 299H1552" stroke="#000" stroke-width="2.2222" fill="none"/><rect x="223.10" y="534.0" width="1.2" height="1" fill="#808080"/><rect x="443.60" y="534.0" width="2.2" height="1" fill="#808080"/><rect x="665.05" y="534.0" width="3.3" height="1" fill="#808080"/><rect x="886.05" y="534.0" width="3.3" height="1" fill="#808080"/><rect x="1107.05" y="534.0" width="3.3" height="1" fill="#808080"/><rect x="1329.05" y="534.0" width="3.3" height="1" fill="#808080"/><rect x="1550.05" y="534.0" width="3.3" height="1" fill="#808080"/><rect x="223.10" y="995.0" width="1.2" height="1" fill="#808080"/><rect x="443.60" y="995.0" width="2.2" height="1" fill="#808080"/><rect x="665.05" y="995.0" width="3.3" height="1" fill="#808080"/><rect x="886.05" y="995.0" width="3.3" height="1" fill="#808080"/><rect x="1107.05" y="995.0" width="3.3" height="1" fill="#808080"/><rect x="1329.05" y="995.0" width="3.3" height="1" fill="#808080"/><rect x="1550.05" y="995.0" width="3.3" height="1" fill="#808080"/></g></svg> 
</body></html>
